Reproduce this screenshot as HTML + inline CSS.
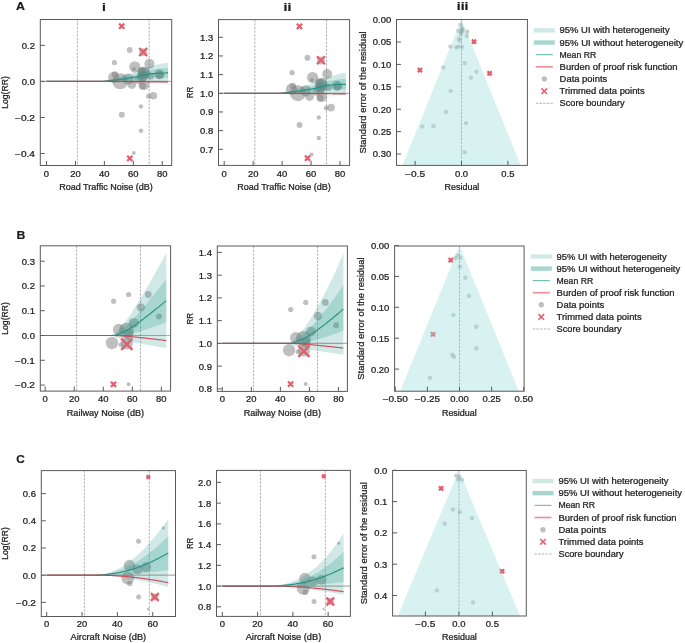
<!DOCTYPE html>
<html><head><meta charset="utf-8"><style>
html,body{margin:0;padding:0;background:#fff;}
svg{display:block;will-change:transform;}
text{font-family:"Liberation Sans", sans-serif;}
</style></head><body>
<svg width="685" height="643" viewBox="0 0 685 643">
<rect width="685" height="643" fill="#fff"/>
<g>
<clipPath id="cA0"><rect x="40.3" y="19.5" width="131.4" height="146"/></clipPath><g clip-path="url(#cA0)">
<line x1="77.3" y1="19.5" x2="77.3" y2="165.5" stroke="#a4a4a4" stroke-width="0.85" stroke-dasharray="2.4,1.25"/>
<line x1="149.2" y1="19.5" x2="149.2" y2="165.5" stroke="#a4a4a4" stroke-width="0.85" stroke-dasharray="2.4,1.25"/>
<circle cx="129.7" cy="50" r="2.9" fill="#808080" fill-opacity="0.5"/>
<circle cx="143.2" cy="52.3" r="4" fill="#808080" fill-opacity="0.5"/>
<circle cx="114.4" cy="62.5" r="2.6" fill="#808080" fill-opacity="0.5"/>
<circle cx="134.8" cy="66.8" r="5.6" fill="#808080" fill-opacity="0.5"/>
<circle cx="134" cy="69" r="2" fill="#808080" fill-opacity="0.5"/>
<circle cx="149.4" cy="63.7" r="5" fill="#808080" fill-opacity="0.5"/>
<circle cx="113.8" cy="77.5" r="5.7" fill="#808080" fill-opacity="0.5"/>
<circle cx="115" cy="74.5" r="3.2" fill="#808080" fill-opacity="0.5"/>
<circle cx="120.2" cy="81.3" r="8" fill="#808080" fill-opacity="0.5"/>
<circle cx="128" cy="79" r="5.6" fill="#808080" fill-opacity="0.5"/>
<circle cx="131.8" cy="84.5" r="4.4" fill="#808080" fill-opacity="0.5"/>
<circle cx="143.4" cy="73.7" r="6.2" fill="#808080" fill-opacity="0.5"/>
<circle cx="141.5" cy="71" r="4" fill="#808080" fill-opacity="0.5"/>
<circle cx="143.4" cy="76" r="5" fill="#808080" fill-opacity="0.5"/>
<circle cx="138.5" cy="80" r="4" fill="#808080" fill-opacity="0.5"/>
<circle cx="150.5" cy="76" r="3.5" fill="#808080" fill-opacity="0.5"/>
<circle cx="144" cy="72" r="5.5" fill="#808080" fill-opacity="0.5"/>
<circle cx="142" cy="77" r="5" fill="#808080" fill-opacity="0.5"/>
<circle cx="160" cy="75" r="4" fill="#808080" fill-opacity="0.5"/>
<circle cx="144.3" cy="84.9" r="5" fill="#808080" fill-opacity="0.5"/>
<circle cx="142.3" cy="86" r="3.7" fill="#808080" fill-opacity="0.5"/>
<circle cx="159.2" cy="74.3" r="5" fill="#808080" fill-opacity="0.5"/>
<circle cx="153.3" cy="95.8" r="3.8" fill="#808080" fill-opacity="0.5"/>
<circle cx="148.5" cy="96.2" r="2.5" fill="#808080" fill-opacity="0.5"/>
<circle cx="141" cy="106.4" r="2.2" fill="#808080" fill-opacity="0.5"/>
<circle cx="121.8" cy="114.8" r="3" fill="#808080" fill-opacity="0.5"/>
<circle cx="141" cy="130.8" r="2.2" fill="#808080" fill-opacity="0.5"/>
<circle cx="133.8" cy="153.1" r="2" fill="#808080" fill-opacity="0.5"/>
<path d="M46.5,81.4 L47.11,81.4 L47.72,81.4 L48.33,81.4 L48.94,81.4 L49.55,81.4 L50.16,81.4 L50.78,81.4 L51.39,81.4 L52,81.4 L52.61,81.4 L53.22,81.4 L53.83,81.4 L54.44,81.4 L55.05,81.4 L55.66,81.4 L56.27,81.4 L56.88,81.4 L57.49,81.4 L58.11,81.4 L58.72,81.4 L59.33,81.4 L59.94,81.4 L60.55,81.4 L61.16,81.4 L61.77,81.4 L62.38,81.4 L62.99,81.4 L63.6,81.4 L64.21,81.4 L64.82,81.4 L65.43,81.4 L66.05,81.4 L66.66,81.4 L67.27,81.4 L67.88,81.4 L68.49,81.4 L69.1,81.4 L69.71,81.4 L70.32,81.4 L70.93,81.4 L71.54,81.4 L72.15,81.4 L72.76,81.4 L73.37,81.4 L73.99,81.4 L74.6,81.4 L75.21,81.4 L75.82,81.4 L76.43,81.4 L77.04,81.4 L77.65,81.4 L78.26,81.4 L78.87,81.4 L79.48,81.4 L80.09,81.4 L80.7,81.4 L81.32,81.4 L81.93,81.4 L82.54,81.4 L83.15,81.4 L83.76,81.4 L84.37,81.4 L84.98,81.4 L85.59,81.4 L86.2,81.4 L86.81,81.4 L87.42,81.4 L88.03,81.4 L88.64,81.4 L89.26,81.4 L89.87,81.4 L90.48,81.4 L91.09,81.4 L91.7,81.4 L92.31,81.4 L92.92,81.4 L93.53,81.4 L94.14,81.4 L94.75,81.4 L95.36,81.4 L95.97,81.4 L96.59,81.4 L97.2,81.4 L97.81,81.4 L98.42,81.4 L99.03,81.4 L99.64,81.4 L100.25,81.4 L100.86,81.4 L101.47,81.4 L102.08,81.26 L102.69,81.11 L103.3,80.97 L103.91,80.82 L104.53,80.67 L105.14,80.52 L105.75,80.37 L106.36,80.22 L106.97,80.06 L107.58,79.91 L108.19,79.75 L108.8,79.59 L109.41,79.43 L110.02,79.28 L110.63,79.11 L111.24,78.95 L111.85,78.79 L112.47,78.63 L113.08,78.46 L113.69,78.3 L114.3,78.13 L114.91,77.97 L115.52,77.8 L116.13,77.63 L116.74,77.46 L117.35,77.29 L117.96,77.12 L118.57,76.95 L119.18,76.78 L119.8,76.6 L120.41,76.43 L121.02,76.25 L121.63,76.07 L122.24,75.9 L122.85,75.72 L123.46,75.53 L124.07,75.35 L124.68,75.17 L125.29,74.98 L125.9,74.79 L126.51,74.6 L127.12,74.41 L127.74,74.22 L128.35,74.03 L128.96,73.84 L129.57,73.64 L130.18,73.45 L130.79,73.25 L131.4,73.05 L132.01,72.85 L132.62,72.65 L133.23,72.45 L133.84,72.24 L134.45,72.04 L135.07,71.83 L135.68,71.63 L136.29,71.42 L136.9,71.2 L137.51,70.98 L138.12,70.74 L138.73,70.5 L139.34,70.25 L139.95,70 L140.56,69.74 L141.17,69.48 L141.78,69.22 L142.39,68.95 L143.01,68.69 L143.62,68.43 L144.23,68.18 L144.84,67.93 L145.45,67.69 L146.06,67.45 L146.67,67.23 L147.28,67.01 L147.89,66.81 L148.5,66.62 L149.11,66.44 L149.72,66.28 L150.33,66.13 L150.95,65.98 L151.56,65.84 L152.17,65.69 L152.78,65.55 L153.39,65.41 L154,65.27 L154.61,65.13 L155.22,64.99 L155.83,64.85 L156.44,64.71 L157.05,64.58 L157.66,64.45 L158.28,64.31 L158.89,64.18 L159.5,64.06 L160.11,63.93 L160.72,63.81 L161.33,63.68 L161.94,63.56 L162.55,63.44 L163.16,63.33 L163.77,63.21 L164.38,63.1 L164.99,62.99 L165.6,62.88 L166.22,62.78 L166.83,62.68 L167.44,62.58 L168.05,62.48 L168.05,83.38 L167.44,83.29 L166.83,83.2 L166.22,83.11 L165.6,83.02 L164.99,82.94 L164.38,82.85 L163.77,82.77 L163.16,82.7 L162.55,82.62 L161.94,82.55 L161.33,82.48 L160.72,82.41 L160.11,82.34 L159.5,82.27 L158.89,82.21 L158.28,82.15 L157.66,82.09 L157.05,82.03 L156.44,81.97 L155.83,81.92 L155.22,81.86 L154.61,81.81 L154,81.76 L153.39,81.71 L152.78,81.66 L152.17,81.61 L151.56,81.56 L150.95,81.52 L150.33,81.47 L149.72,81.43 L149.11,81.4 L148.5,81.38 L147.89,81.38 L147.28,81.39 L146.67,81.42 L146.06,81.45 L145.45,81.5 L144.84,81.55 L144.23,81.6 L143.62,81.67 L143.01,81.73 L142.39,81.8 L141.78,81.87 L141.17,81.94 L140.56,82.01 L139.95,82.07 L139.34,82.14 L138.73,82.19 L138.12,82.25 L137.51,82.29 L136.9,82.32 L136.29,82.35 L135.68,82.36 L135.07,82.38 L134.45,82.39 L133.84,82.4 L133.23,82.42 L132.62,82.43 L132.01,82.44 L131.4,82.44 L130.79,82.45 L130.18,82.46 L129.57,82.46 L128.96,82.46 L128.35,82.47 L127.74,82.47 L127.12,82.47 L126.51,82.46 L125.9,82.46 L125.29,82.46 L124.68,82.45 L124.07,82.44 L123.46,82.43 L122.85,82.42 L122.24,82.41 L121.63,82.4 L121.02,82.39 L120.41,82.37 L119.8,82.35 L119.18,82.34 L118.57,82.32 L117.96,82.29 L117.35,82.27 L116.74,82.25 L116.13,82.23 L115.52,82.21 L114.91,82.18 L114.3,82.16 L113.69,82.13 L113.08,82.1 L112.47,82.08 L111.85,82.05 L111.24,82.02 L110.63,81.99 L110.02,81.96 L109.41,81.92 L108.8,81.89 L108.19,81.86 L107.58,81.82 L106.97,81.78 L106.36,81.75 L105.75,81.71 L105.14,81.67 L104.53,81.62 L103.91,81.58 L103.3,81.54 L102.69,81.49 L102.08,81.45 L101.47,81.4 L100.86,81.4 L100.25,81.4 L99.64,81.4 L99.03,81.4 L98.42,81.4 L97.81,81.4 L97.2,81.4 L96.59,81.4 L95.97,81.4 L95.36,81.4 L94.75,81.4 L94.14,81.4 L93.53,81.4 L92.92,81.4 L92.31,81.4 L91.7,81.4 L91.09,81.4 L90.48,81.4 L89.87,81.4 L89.26,81.4 L88.64,81.4 L88.03,81.4 L87.42,81.4 L86.81,81.4 L86.2,81.4 L85.59,81.4 L84.98,81.4 L84.37,81.4 L83.76,81.4 L83.15,81.4 L82.54,81.4 L81.93,81.4 L81.32,81.4 L80.7,81.4 L80.09,81.4 L79.48,81.4 L78.87,81.4 L78.26,81.4 L77.65,81.4 L77.04,81.4 L76.43,81.4 L75.82,81.4 L75.21,81.4 L74.6,81.4 L73.99,81.4 L73.37,81.4 L72.76,81.4 L72.15,81.4 L71.54,81.4 L70.93,81.4 L70.32,81.4 L69.71,81.4 L69.1,81.4 L68.49,81.4 L67.88,81.4 L67.27,81.4 L66.66,81.4 L66.05,81.4 L65.43,81.4 L64.82,81.4 L64.21,81.4 L63.6,81.4 L62.99,81.4 L62.38,81.4 L61.77,81.4 L61.16,81.4 L60.55,81.4 L59.94,81.4 L59.33,81.4 L58.72,81.4 L58.11,81.4 L57.49,81.4 L56.88,81.4 L56.27,81.4 L55.66,81.4 L55.05,81.4 L54.44,81.4 L53.83,81.4 L53.22,81.4 L52.61,81.4 L52,81.4 L51.39,81.4 L50.78,81.4 L50.16,81.4 L49.55,81.4 L48.94,81.4 L48.33,81.4 L47.72,81.4 L47.11,81.4 L46.5,81.4 Z" fill="#2a9d8f" fill-opacity="0.22"/>
<path d="M46.5,81.4 L47.11,81.4 L47.72,81.4 L48.33,81.4 L48.94,81.4 L49.55,81.4 L50.16,81.4 L50.78,81.4 L51.39,81.4 L52,81.4 L52.61,81.4 L53.22,81.4 L53.83,81.4 L54.44,81.4 L55.05,81.4 L55.66,81.4 L56.27,81.4 L56.88,81.4 L57.49,81.4 L58.11,81.4 L58.72,81.4 L59.33,81.4 L59.94,81.4 L60.55,81.4 L61.16,81.4 L61.77,81.4 L62.38,81.4 L62.99,81.4 L63.6,81.4 L64.21,81.4 L64.82,81.4 L65.43,81.4 L66.05,81.4 L66.66,81.4 L67.27,81.4 L67.88,81.4 L68.49,81.4 L69.1,81.4 L69.71,81.4 L70.32,81.4 L70.93,81.4 L71.54,81.4 L72.15,81.4 L72.76,81.4 L73.37,81.4 L73.99,81.4 L74.6,81.4 L75.21,81.4 L75.82,81.4 L76.43,81.4 L77.04,81.4 L77.65,81.4 L78.26,81.4 L78.87,81.4 L79.48,81.4 L80.09,81.4 L80.7,81.4 L81.32,81.4 L81.93,81.4 L82.54,81.4 L83.15,81.4 L83.76,81.4 L84.37,81.4 L84.98,81.4 L85.59,81.4 L86.2,81.4 L86.81,81.4 L87.42,81.4 L88.03,81.4 L88.64,81.4 L89.26,81.4 L89.87,81.4 L90.48,81.4 L91.09,81.4 L91.7,81.4 L92.31,81.4 L92.92,81.4 L93.53,81.4 L94.14,81.4 L94.75,81.4 L95.36,81.4 L95.97,81.4 L96.59,81.4 L97.2,81.4 L97.81,81.4 L98.42,81.4 L99.03,81.4 L99.64,81.4 L100.25,81.4 L100.86,81.4 L101.47,81.4 L102.08,81.31 L102.69,81.21 L103.3,81.11 L103.91,81.02 L104.53,80.92 L105.14,80.82 L105.75,80.71 L106.36,80.61 L106.97,80.51 L107.58,80.4 L108.19,80.29 L108.8,80.19 L109.41,80.08 L110.02,79.97 L110.63,79.86 L111.24,79.75 L111.85,79.63 L112.47,79.52 L113.08,79.41 L113.69,79.29 L114.3,79.17 L114.91,79.06 L115.52,78.94 L116.13,78.82 L116.74,78.7 L117.35,78.58 L117.96,78.46 L118.57,78.34 L119.18,78.21 L119.8,78.09 L120.41,77.97 L121.02,77.84 L121.63,77.71 L122.24,77.58 L122.85,77.45 L123.46,77.32 L124.07,77.18 L124.68,77.05 L125.29,76.91 L125.9,76.78 L126.51,76.64 L127.12,76.5 L127.74,76.36 L128.35,76.21 L128.96,76.07 L129.57,75.92 L130.18,75.78 L130.79,75.63 L131.4,75.48 L132.01,75.33 L132.62,75.18 L133.23,75.02 L133.84,74.87 L134.45,74.72 L135.07,74.56 L135.68,74.4 L136.29,74.24 L136.9,74.08 L137.51,73.9 L138.12,73.72 L138.73,73.52 L139.34,73.32 L139.95,73.12 L140.56,72.91 L141.17,72.7 L141.78,72.49 L142.39,72.28 L143.01,72.06 L143.62,71.86 L144.23,71.65 L144.84,71.45 L145.45,71.26 L146.06,71.07 L146.67,70.9 L147.28,70.73 L147.89,70.58 L148.5,70.44 L149.11,70.31 L149.72,70.2 L150.33,70.1 L150.95,70 L151.56,69.91 L152.17,69.81 L152.78,69.72 L153.39,69.62 L154,69.53 L154.61,69.44 L155.22,69.35 L155.83,69.26 L156.44,69.18 L157.05,69.09 L157.66,69.01 L158.28,68.93 L158.89,68.85 L159.5,68.77 L160.11,68.69 L160.72,68.62 L161.33,68.54 L161.94,68.47 L162.55,68.4 L163.16,68.34 L163.77,68.27 L164.38,68.21 L164.99,68.15 L165.6,68.09 L166.22,68.04 L166.83,67.98 L167.44,67.93 L168.05,67.89 L168.05,77.98 L167.44,77.93 L166.83,77.89 L166.22,77.85 L165.6,77.81 L164.99,77.78 L164.38,77.74 L163.77,77.71 L163.16,77.69 L162.55,77.66 L161.94,77.64 L161.33,77.62 L160.72,77.6 L160.11,77.58 L159.5,77.56 L158.89,77.55 L158.28,77.54 L157.66,77.53 L157.05,77.52 L156.44,77.51 L155.83,77.5 L155.22,77.5 L154.61,77.5 L154,77.49 L153.39,77.49 L152.78,77.49 L152.17,77.49 L151.56,77.5 L150.95,77.5 L150.33,77.5 L149.72,77.51 L149.11,77.53 L148.5,77.56 L147.89,77.61 L147.28,77.67 L146.67,77.75 L146.06,77.83 L145.45,77.92 L144.84,78.02 L144.23,78.13 L143.62,78.24 L143.01,78.36 L142.39,78.48 L141.78,78.6 L141.17,78.72 L140.56,78.84 L139.95,78.95 L139.34,79.06 L138.73,79.17 L138.12,79.27 L137.51,79.36 L136.9,79.45 L136.29,79.52 L135.68,79.59 L135.07,79.65 L134.45,79.71 L133.84,79.78 L133.23,79.84 L132.62,79.9 L132.01,79.96 L131.4,80.01 L130.79,80.07 L130.18,80.13 L129.57,80.18 L128.96,80.23 L128.35,80.28 L127.74,80.33 L127.12,80.38 L126.51,80.43 L125.9,80.48 L125.29,80.52 L124.68,80.57 L124.07,80.61 L123.46,80.65 L122.85,80.69 L122.24,80.73 L121.63,80.76 L121.02,80.8 L120.41,80.83 L119.8,80.87 L119.18,80.9 L118.57,80.93 L117.96,80.96 L117.35,80.99 L116.74,81.01 L116.13,81.04 L115.52,81.07 L114.91,81.09 L114.3,81.12 L113.69,81.14 L113.08,81.16 L112.47,81.18 L111.85,81.21 L111.24,81.23 L110.63,81.24 L110.02,81.26 L109.41,81.28 L108.8,81.3 L108.19,81.31 L107.58,81.32 L106.97,81.34 L106.36,81.35 L105.75,81.36 L105.14,81.37 L104.53,81.38 L103.91,81.38 L103.3,81.39 L102.69,81.39 L102.08,81.4 L101.47,81.4 L100.86,81.4 L100.25,81.4 L99.64,81.4 L99.03,81.4 L98.42,81.4 L97.81,81.4 L97.2,81.4 L96.59,81.4 L95.97,81.4 L95.36,81.4 L94.75,81.4 L94.14,81.4 L93.53,81.4 L92.92,81.4 L92.31,81.4 L91.7,81.4 L91.09,81.4 L90.48,81.4 L89.87,81.4 L89.26,81.4 L88.64,81.4 L88.03,81.4 L87.42,81.4 L86.81,81.4 L86.2,81.4 L85.59,81.4 L84.98,81.4 L84.37,81.4 L83.76,81.4 L83.15,81.4 L82.54,81.4 L81.93,81.4 L81.32,81.4 L80.7,81.4 L80.09,81.4 L79.48,81.4 L78.87,81.4 L78.26,81.4 L77.65,81.4 L77.04,81.4 L76.43,81.4 L75.82,81.4 L75.21,81.4 L74.6,81.4 L73.99,81.4 L73.37,81.4 L72.76,81.4 L72.15,81.4 L71.54,81.4 L70.93,81.4 L70.32,81.4 L69.71,81.4 L69.1,81.4 L68.49,81.4 L67.88,81.4 L67.27,81.4 L66.66,81.4 L66.05,81.4 L65.43,81.4 L64.82,81.4 L64.21,81.4 L63.6,81.4 L62.99,81.4 L62.38,81.4 L61.77,81.4 L61.16,81.4 L60.55,81.4 L59.94,81.4 L59.33,81.4 L58.72,81.4 L58.11,81.4 L57.49,81.4 L56.88,81.4 L56.27,81.4 L55.66,81.4 L55.05,81.4 L54.44,81.4 L53.83,81.4 L53.22,81.4 L52.61,81.4 L52,81.4 L51.39,81.4 L50.78,81.4 L50.16,81.4 L49.55,81.4 L48.94,81.4 L48.33,81.4 L47.72,81.4 L47.11,81.4 L46.5,81.4 Z" fill="#2a9d8f" fill-opacity="0.25"/>
<path d="M46.5,81.4 L47.11,81.4 L47.72,81.4 L48.33,81.4 L48.94,81.4 L49.55,81.4 L50.16,81.4 L50.78,81.4 L51.39,81.4 L52,81.4 L52.61,81.4 L53.22,81.4 L53.83,81.4 L54.44,81.4 L55.05,81.4 L55.66,81.4 L56.27,81.4 L56.88,81.4 L57.49,81.4 L58.11,81.4 L58.72,81.4 L59.33,81.4 L59.94,81.4 L60.55,81.4 L61.16,81.4 L61.77,81.4 L62.38,81.4 L62.99,81.4 L63.6,81.4 L64.21,81.4 L64.82,81.4 L65.43,81.4 L66.05,81.4 L66.66,81.4 L67.27,81.4 L67.88,81.4 L68.49,81.4 L69.1,81.4 L69.71,81.4 L70.32,81.4 L70.93,81.4 L71.54,81.4 L72.15,81.4 L72.76,81.4 L73.37,81.4 L73.99,81.4 L74.6,81.4 L75.21,81.4 L75.82,81.4 L76.43,81.4 L77.04,81.4 L77.65,81.4 L78.26,81.4 L78.87,81.4 L79.48,81.4 L80.09,81.4 L80.7,81.4 L81.32,81.4 L81.93,81.4 L82.54,81.4 L83.15,81.4 L83.76,81.4 L84.37,81.4 L84.98,81.4 L85.59,81.4 L86.2,81.4 L86.81,81.4 L87.42,81.4 L88.03,81.4 L88.64,81.4 L89.26,81.4 L89.87,81.4 L90.48,81.4 L91.09,81.4 L91.7,81.4 L92.31,81.4 L92.92,81.4 L93.53,81.4 L94.14,81.4 L94.75,81.4 L95.36,81.4 L95.97,81.4 L96.59,81.4 L97.2,81.4 L97.81,81.4 L98.42,81.4 L99.03,81.4 L99.64,81.4 L100.25,81.4 L100.86,81.4 L101.47,81.4 L102.08,81.35 L102.69,81.3 L103.3,81.25 L103.91,81.2 L104.53,81.15 L105.14,81.09 L105.75,81.04 L106.36,80.98 L106.97,80.92 L107.58,80.86 L108.19,80.8 L108.8,80.74 L109.41,80.68 L110.02,80.62 L110.63,80.55 L111.24,80.49 L111.85,80.42 L112.47,80.35 L113.08,80.28 L113.69,80.21 L114.3,80.14 L114.91,80.07 L115.52,80 L116.13,79.93 L116.74,79.86 L117.35,79.78 L117.96,79.71 L118.57,79.63 L119.18,79.56 L119.8,79.48 L120.41,79.4 L121.02,79.32 L121.63,79.24 L122.24,79.15 L122.85,79.07 L123.46,78.98 L124.07,78.9 L124.68,78.81 L125.29,78.72 L125.9,78.63 L126.51,78.53 L127.12,78.44 L127.74,78.34 L128.35,78.25 L128.96,78.15 L129.57,78.05 L130.18,77.95 L130.79,77.85 L131.4,77.75 L132.01,77.64 L132.62,77.54 L133.23,77.43 L133.84,77.32 L134.45,77.21 L135.07,77.11 L135.68,76.99 L136.29,76.88 L136.9,76.76 L137.51,76.63 L138.12,76.49 L138.73,76.35 L139.34,76.19 L139.95,76.04 L140.56,75.87 L141.17,75.71 L141.78,75.54 L142.39,75.38 L143.01,75.21 L143.62,75.05 L144.23,74.89 L144.84,74.74 L145.45,74.59 L146.06,74.45 L146.67,74.32 L147.28,74.2 L147.89,74.1 L148.5,74 L149.11,73.92 L149.72,73.85 L150.33,73.8 L150.95,73.75 L151.56,73.7 L152.17,73.65 L152.78,73.6 L153.39,73.56 L154,73.51 L154.61,73.47 L155.22,73.43 L155.83,73.38 L156.44,73.34 L157.05,73.3 L157.66,73.27 L158.28,73.23 L158.89,73.2 L159.5,73.17 L160.11,73.14 L160.72,73.11 L161.33,73.08 L161.94,73.05 L162.55,73.03 L163.16,73.01 L163.77,72.99 L164.38,72.98 L164.99,72.96 L165.6,72.95 L166.22,72.94 L166.83,72.94 L167.44,72.93 L168.05,72.93" fill="none" stroke="#2b9183" stroke-width="1.15" stroke-opacity="1.0" stroke-linejoin="round"/>
<path d="M46.5,81.4 L47.11,81.4 L47.72,81.4 L48.33,81.4 L48.94,81.4 L49.55,81.4 L50.16,81.4 L50.78,81.4 L51.39,81.4 L52,81.4 L52.61,81.4 L53.22,81.4 L53.83,81.4 L54.44,81.4 L55.05,81.4 L55.66,81.4 L56.27,81.4 L56.88,81.4 L57.49,81.4 L58.11,81.4 L58.72,81.4 L59.33,81.4 L59.94,81.4 L60.55,81.4 L61.16,81.4 L61.77,81.4 L62.38,81.4 L62.99,81.4 L63.6,81.4 L64.21,81.4 L64.82,81.4 L65.43,81.4 L66.05,81.4 L66.66,81.4 L67.27,81.4 L67.88,81.4 L68.49,81.4 L69.1,81.4 L69.71,81.4 L70.32,81.4 L70.93,81.4 L71.54,81.4 L72.15,81.4 L72.76,81.4 L73.37,81.4 L73.99,81.4 L74.6,81.4 L75.21,81.4 L75.82,81.4 L76.43,81.4 L77.04,81.4 L77.65,81.4 L78.26,81.4 L78.87,81.4 L79.48,81.4 L80.09,81.4 L80.7,81.4 L81.32,81.4 L81.93,81.4 L82.54,81.4 L83.15,81.4 L83.76,81.4 L84.37,81.4 L84.98,81.4 L85.59,81.4 L86.2,81.4 L86.81,81.4 L87.42,81.4 L88.03,81.4 L88.64,81.4 L89.26,81.4 L89.87,81.4 L90.48,81.4 L91.09,81.4 L91.7,81.4 L92.31,81.4 L92.92,81.4 L93.53,81.4 L94.14,81.4 L94.75,81.4 L95.36,81.4 L95.97,81.4 L96.59,81.4 L97.2,81.4 L97.81,81.4 L98.42,81.4 L99.03,81.4 L99.64,81.4 L100.25,81.4 L100.86,81.4 L101.47,81.4 L102.08,81.4 L102.69,81.4 L103.3,81.4 L103.91,81.4 L104.53,81.4 L105.14,81.4 L105.75,81.4 L106.36,81.4 L106.97,81.4 L107.58,81.4 L108.19,81.4 L108.8,81.4 L109.41,81.4 L110.02,81.4 L110.63,81.4 L111.24,81.4 L111.85,81.4 L112.47,81.4 L113.08,81.4 L113.69,81.4 L114.3,81.4 L114.91,81.4 L115.52,81.4 L116.13,81.4 L116.74,81.4 L117.35,81.4 L117.96,81.4 L118.57,81.4 L119.18,81.4 L119.8,81.41 L120.41,81.42 L121.02,81.43 L121.63,81.44 L122.24,81.44 L122.85,81.45 L123.46,81.46 L124.07,81.47 L124.68,81.47 L125.29,81.48 L125.9,81.49 L126.51,81.5 L127.12,81.51 L127.74,81.51 L128.35,81.52 L128.96,81.53 L129.57,81.54 L130.18,81.55 L130.79,81.55 L131.4,81.56 L132.01,81.57 L132.62,81.58 L133.23,81.58 L133.84,81.59 L134.45,81.6 L135.07,81.61 L135.68,81.62 L136.29,81.62 L136.9,81.63 L137.51,81.64 L138.12,81.65 L138.73,81.65 L139.34,81.66 L139.95,81.67 L140.56,81.68 L141.17,81.69 L141.78,81.69 L142.39,81.7 L143.01,81.71 L143.62,81.72 L144.23,81.73 L144.84,81.73 L145.45,81.74 L146.06,81.75 L146.67,81.76 L147.28,81.76 L147.89,81.77 L148.5,81.78 L149.11,81.79 L149.72,81.8 L150.33,81.8 L150.95,81.81 L151.56,81.82 L152.17,81.83 L152.78,81.83 L153.39,81.84 L154,81.85 L154.61,81.86 L155.22,81.87 L155.83,81.87 L156.44,81.88 L157.05,81.89 L157.66,81.9 L158.28,81.91 L158.89,81.91 L159.5,81.92 L160.11,81.93 L160.72,81.94 L161.33,81.94 L161.94,81.95 L162.55,81.96 L163.16,81.97 L163.77,81.98 L164.38,81.98 L164.99,81.99 L165.6,82 L166.22,82.01 L166.83,82.02 L167.44,82.02 L168.05,82.03" fill="none" stroke="#d2505e" stroke-width="1.2" stroke-opacity="1.0" stroke-linejoin="round"/>
<line x1="40.3" y1="81.4" x2="171.7" y2="81.4" stroke="#606060" stroke-width="1.2" stroke-opacity="0.5"/>
<path d="M119.1,23.6 L124.3,28.8 M119.1,28.8 L124.3,23.6" stroke="#e35d6a" stroke-width="2.2" fill="none"/>
<path d="M139.2,48 L147.2,56 M139.2,56 L147.2,48" stroke="#e35d6a" stroke-width="2.2" fill="none"/>
<path d="M127.2,155.8 L132.4,161 M127.2,161 L132.4,155.8" stroke="#e35d6a" stroke-width="2.2" fill="none"/>
</g></g>
<rect x="40.3" y="19.5" width="131.4" height="146" fill="none" stroke="#5a5a5a" stroke-width="1"/>
<g>
<clipPath id="cA1"><rect x="218.5" y="19.6" width="131.1" height="145.8"/></clipPath><g clip-path="url(#cA1)">
<line x1="254.9" y1="19.6" x2="254.9" y2="165.4" stroke="#a4a4a4" stroke-width="0.85" stroke-dasharray="2.4,1.25"/>
<line x1="326.5" y1="19.6" x2="326.5" y2="165.4" stroke="#a4a4a4" stroke-width="0.85" stroke-dasharray="2.4,1.25"/>
<circle cx="307.46" cy="57.76" r="2.9" fill="#808080" fill-opacity="0.5"/>
<circle cx="320.97" cy="60.58" r="4" fill="#808080" fill-opacity="0.5"/>
<circle cx="292.15" cy="72.65" r="2.6" fill="#808080" fill-opacity="0.5"/>
<circle cx="312.56" cy="77.54" r="5.6" fill="#808080" fill-opacity="0.5"/>
<circle cx="311.76" cy="80" r="2" fill="#808080" fill-opacity="0.5"/>
<circle cx="327.17" cy="74.03" r="5" fill="#808080" fill-opacity="0.5"/>
<circle cx="291.55" cy="89.22" r="5.7" fill="#808080" fill-opacity="0.5"/>
<circle cx="292.75" cy="86.01" r="3.2" fill="#808080" fill-opacity="0.5"/>
<circle cx="297.95" cy="93.2" r="8" fill="#808080" fill-opacity="0.5"/>
<circle cx="305.76" cy="90.8" r="5.6" fill="#808080" fill-opacity="0.5"/>
<circle cx="309.56" cy="96.48" r="4.4" fill="#808080" fill-opacity="0.5"/>
<circle cx="321.17" cy="85.15" r="6.2" fill="#808080" fill-opacity="0.5"/>
<circle cx="319.27" cy="82.21" r="4" fill="#808080" fill-opacity="0.5"/>
<circle cx="321.17" cy="87.62" r="5" fill="#808080" fill-opacity="0.5"/>
<circle cx="316.26" cy="91.84" r="4" fill="#808080" fill-opacity="0.5"/>
<circle cx="328.27" cy="87.62" r="3.5" fill="#808080" fill-opacity="0.5"/>
<circle cx="321.77" cy="83.3" r="5.5" fill="#808080" fill-opacity="0.5"/>
<circle cx="319.77" cy="88.69" r="5" fill="#808080" fill-opacity="0.5"/>
<circle cx="337.78" cy="86.55" r="4" fill="#808080" fill-opacity="0.5"/>
<circle cx="322.07" cy="96.89" r="5" fill="#808080" fill-opacity="0.5"/>
<circle cx="320.07" cy="98.01" r="3.7" fill="#808080" fill-opacity="0.5"/>
<circle cx="336.98" cy="85.8" r="5" fill="#808080" fill-opacity="0.5"/>
<circle cx="331.07" cy="107.64" r="3.8" fill="#808080" fill-opacity="0.5"/>
<circle cx="326.27" cy="108.02" r="2.5" fill="#808080" fill-opacity="0.5"/>
<circle cx="318.77" cy="117.49" r="2.2" fill="#808080" fill-opacity="0.5"/>
<circle cx="299.55" cy="124.89" r="3" fill="#808080" fill-opacity="0.5"/>
<circle cx="318.77" cy="138.07" r="2.2" fill="#808080" fill-opacity="0.5"/>
<circle cx="311.56" cy="154.59" r="2" fill="#808080" fill-opacity="0.5"/>
<path d="M224.2,93.3 L224.81,93.3 L225.42,93.3 L226.03,93.3 L226.64,93.3 L227.26,93.3 L227.87,93.3 L228.48,93.3 L229.09,93.3 L229.7,93.3 L230.31,93.3 L230.92,93.3 L231.53,93.3 L232.15,93.3 L232.76,93.3 L233.37,93.3 L233.98,93.3 L234.59,93.3 L235.2,93.3 L235.81,93.3 L236.42,93.3 L237.04,93.3 L237.65,93.3 L238.26,93.3 L238.87,93.3 L239.48,93.3 L240.09,93.3 L240.7,93.3 L241.31,93.3 L241.93,93.3 L242.54,93.3 L243.15,93.3 L243.76,93.3 L244.37,93.3 L244.98,93.3 L245.59,93.3 L246.2,93.3 L246.81,93.3 L247.43,93.3 L248.04,93.3 L248.65,93.3 L249.26,93.3 L249.87,93.3 L250.48,93.3 L251.09,93.3 L251.7,93.3 L252.32,93.3 L252.93,93.3 L253.54,93.3 L254.15,93.3 L254.76,93.3 L255.37,93.3 L255.98,93.3 L256.59,93.3 L257.21,93.3 L257.82,93.3 L258.43,93.3 L259.04,93.3 L259.65,93.3 L260.26,93.3 L260.87,93.3 L261.48,93.3 L262.1,93.3 L262.71,93.3 L263.32,93.3 L263.93,93.3 L264.54,93.3 L265.15,93.3 L265.76,93.3 L266.37,93.3 L266.99,93.3 L267.6,93.3 L268.21,93.3 L268.82,93.3 L269.43,93.3 L270.04,93.3 L270.65,93.3 L271.26,93.3 L271.87,93.3 L272.49,93.3 L273.1,93.3 L273.71,93.3 L274.32,93.3 L274.93,93.3 L275.54,93.3 L276.15,93.3 L276.76,93.3 L277.38,93.3 L277.99,93.3 L278.6,93.3 L279.21,93.3 L279.82,93.15 L280.43,93 L281.04,92.85 L281.65,92.7 L282.27,92.54 L282.88,92.39 L283.49,92.23 L284.1,92.07 L284.71,91.91 L285.32,91.75 L285.93,91.58 L286.54,91.42 L287.16,91.25 L287.77,91.09 L288.38,90.92 L288.99,90.75 L289.6,90.58 L290.21,90.41 L290.82,90.23 L291.43,90.06 L292.04,89.88 L292.66,89.71 L293.27,89.53 L293.88,89.35 L294.49,89.17 L295.1,88.99 L295.71,88.81 L296.32,88.63 L296.93,88.45 L297.55,88.26 L298.16,88.08 L298.77,87.89 L299.38,87.7 L299.99,87.51 L300.6,87.32 L301.21,87.12 L301.82,86.93 L302.44,86.73 L303.05,86.53 L303.66,86.33 L304.27,86.12 L304.88,85.92 L305.49,85.71 L306.1,85.51 L306.71,85.3 L307.33,85.09 L307.94,84.87 L308.55,84.66 L309.16,84.45 L309.77,84.23 L310.38,84.01 L310.99,83.79 L311.6,83.57 L312.22,83.34 L312.83,83.12 L313.44,82.89 L314.05,82.67 L314.66,82.43 L315.27,82.18 L315.88,81.92 L316.49,81.66 L317.1,81.38 L317.72,81.1 L318.33,80.82 L318.94,80.53 L319.55,80.24 L320.16,79.95 L320.77,79.66 L321.38,79.37 L321.99,79.09 L322.61,78.81 L323.22,78.54 L323.83,78.28 L324.44,78.02 L325.05,77.78 L325.66,77.55 L326.27,77.34 L326.88,77.14 L327.5,76.96 L328.11,76.79 L328.72,76.62 L329.33,76.46 L329.94,76.3 L330.55,76.14 L331.16,75.97 L331.77,75.81 L332.39,75.66 L333,75.5 L333.61,75.34 L334.22,75.19 L334.83,75.03 L335.44,74.88 L336.05,74.73 L336.66,74.58 L337.27,74.44 L337.89,74.29 L338.5,74.15 L339.11,74.01 L339.72,73.87 L340.33,73.74 L340.94,73.6 L341.55,73.47 L342.16,73.34 L342.78,73.22 L343.39,73.1 L344,72.97 L344.61,72.86 L345.22,72.74 L345.83,72.63 L345.83,95.34 L345.22,95.25 L344.61,95.15 L344,95.06 L343.39,94.97 L342.78,94.88 L342.16,94.8 L341.55,94.72 L340.94,94.64 L340.33,94.56 L339.72,94.49 L339.11,94.41 L338.5,94.34 L337.89,94.27 L337.27,94.2 L336.66,94.14 L336.05,94.07 L335.44,94.01 L334.83,93.95 L334.22,93.89 L333.61,93.84 L333,93.78 L332.39,93.72 L331.77,93.67 L331.16,93.62 L330.55,93.57 L329.94,93.52 L329.33,93.47 L328.72,93.42 L328.11,93.37 L327.5,93.33 L326.88,93.3 L326.27,93.28 L325.66,93.28 L325.05,93.29 L324.44,93.32 L323.83,93.35 L323.22,93.4 L322.61,93.45 L321.99,93.51 L321.38,93.57 L320.77,93.64 L320.16,93.71 L319.55,93.79 L318.94,93.86 L318.33,93.93 L317.72,94 L317.1,94.06 L316.49,94.12 L315.88,94.17 L315.27,94.22 L314.66,94.25 L314.05,94.28 L313.44,94.29 L312.83,94.31 L312.22,94.32 L311.6,94.34 L310.99,94.35 L310.38,94.36 L309.77,94.37 L309.16,94.38 L308.55,94.39 L307.94,94.39 L307.33,94.4 L306.71,94.4 L306.1,94.4 L305.49,94.4 L304.88,94.4 L304.27,94.4 L303.66,94.4 L303.05,94.39 L302.44,94.38 L301.82,94.38 L301.21,94.37 L300.6,94.36 L299.99,94.35 L299.38,94.33 L298.77,94.32 L298.16,94.3 L297.55,94.29 L296.93,94.27 L296.32,94.25 L295.71,94.22 L295.1,94.2 L294.49,94.18 L293.88,94.16 L293.27,94.13 L292.66,94.11 L292.04,94.08 L291.43,94.06 L290.82,94.03 L290.21,94 L289.6,93.97 L288.99,93.94 L288.38,93.91 L287.77,93.88 L287.16,93.84 L286.54,93.81 L285.93,93.77 L285.32,93.73 L284.71,93.7 L284.1,93.66 L283.49,93.62 L282.88,93.58 L282.27,93.53 L281.65,93.49 L281.04,93.44 L280.43,93.4 L279.82,93.35 L279.21,93.3 L278.6,93.3 L277.99,93.3 L277.38,93.3 L276.76,93.3 L276.15,93.3 L275.54,93.3 L274.93,93.3 L274.32,93.3 L273.71,93.3 L273.1,93.3 L272.49,93.3 L271.87,93.3 L271.26,93.3 L270.65,93.3 L270.04,93.3 L269.43,93.3 L268.82,93.3 L268.21,93.3 L267.6,93.3 L266.99,93.3 L266.37,93.3 L265.76,93.3 L265.15,93.3 L264.54,93.3 L263.93,93.3 L263.32,93.3 L262.71,93.3 L262.1,93.3 L261.48,93.3 L260.87,93.3 L260.26,93.3 L259.65,93.3 L259.04,93.3 L258.43,93.3 L257.82,93.3 L257.21,93.3 L256.59,93.3 L255.98,93.3 L255.37,93.3 L254.76,93.3 L254.15,93.3 L253.54,93.3 L252.93,93.3 L252.32,93.3 L251.7,93.3 L251.09,93.3 L250.48,93.3 L249.87,93.3 L249.26,93.3 L248.65,93.3 L248.04,93.3 L247.43,93.3 L246.81,93.3 L246.2,93.3 L245.59,93.3 L244.98,93.3 L244.37,93.3 L243.76,93.3 L243.15,93.3 L242.54,93.3 L241.93,93.3 L241.31,93.3 L240.7,93.3 L240.09,93.3 L239.48,93.3 L238.87,93.3 L238.26,93.3 L237.65,93.3 L237.04,93.3 L236.42,93.3 L235.81,93.3 L235.2,93.3 L234.59,93.3 L233.98,93.3 L233.37,93.3 L232.76,93.3 L232.15,93.3 L231.53,93.3 L230.92,93.3 L230.31,93.3 L229.7,93.3 L229.09,93.3 L228.48,93.3 L227.87,93.3 L227.26,93.3 L226.64,93.3 L226.03,93.3 L225.42,93.3 L224.81,93.3 L224.2,93.3 Z" fill="#2a9d8f" fill-opacity="0.22"/>
<path d="M224.2,93.3 L224.81,93.3 L225.42,93.3 L226.03,93.3 L226.64,93.3 L227.26,93.3 L227.87,93.3 L228.48,93.3 L229.09,93.3 L229.7,93.3 L230.31,93.3 L230.92,93.3 L231.53,93.3 L232.15,93.3 L232.76,93.3 L233.37,93.3 L233.98,93.3 L234.59,93.3 L235.2,93.3 L235.81,93.3 L236.42,93.3 L237.04,93.3 L237.65,93.3 L238.26,93.3 L238.87,93.3 L239.48,93.3 L240.09,93.3 L240.7,93.3 L241.31,93.3 L241.93,93.3 L242.54,93.3 L243.15,93.3 L243.76,93.3 L244.37,93.3 L244.98,93.3 L245.59,93.3 L246.2,93.3 L246.81,93.3 L247.43,93.3 L248.04,93.3 L248.65,93.3 L249.26,93.3 L249.87,93.3 L250.48,93.3 L251.09,93.3 L251.7,93.3 L252.32,93.3 L252.93,93.3 L253.54,93.3 L254.15,93.3 L254.76,93.3 L255.37,93.3 L255.98,93.3 L256.59,93.3 L257.21,93.3 L257.82,93.3 L258.43,93.3 L259.04,93.3 L259.65,93.3 L260.26,93.3 L260.87,93.3 L261.48,93.3 L262.1,93.3 L262.71,93.3 L263.32,93.3 L263.93,93.3 L264.54,93.3 L265.15,93.3 L265.76,93.3 L266.37,93.3 L266.99,93.3 L267.6,93.3 L268.21,93.3 L268.82,93.3 L269.43,93.3 L270.04,93.3 L270.65,93.3 L271.26,93.3 L271.87,93.3 L272.49,93.3 L273.1,93.3 L273.71,93.3 L274.32,93.3 L274.93,93.3 L275.54,93.3 L276.15,93.3 L276.76,93.3 L277.38,93.3 L277.99,93.3 L278.6,93.3 L279.21,93.3 L279.82,93.2 L280.43,93.11 L281.04,93 L281.65,92.9 L282.27,92.8 L282.88,92.69 L283.49,92.59 L284.1,92.48 L284.71,92.37 L285.32,92.26 L285.93,92.15 L286.54,92.04 L287.16,91.93 L287.77,91.81 L288.38,91.7 L288.99,91.58 L289.6,91.46 L290.21,91.34 L290.82,91.22 L291.43,91.1 L292.04,90.98 L292.66,90.86 L293.27,90.73 L293.88,90.61 L294.49,90.48 L295.1,90.36 L295.71,90.23 L296.32,90.1 L296.93,89.97 L297.55,89.84 L298.16,89.71 L298.77,89.57 L299.38,89.44 L299.99,89.3 L300.6,89.16 L301.21,89.02 L301.82,88.88 L302.44,88.74 L303.05,88.59 L303.66,88.45 L304.27,88.3 L304.88,88.15 L305.49,88 L306.1,87.85 L306.71,87.69 L307.33,87.54 L307.94,87.38 L308.55,87.22 L309.16,87.06 L309.77,86.9 L310.38,86.74 L310.99,86.58 L311.6,86.41 L312.22,86.24 L312.83,86.08 L313.44,85.91 L314.05,85.74 L314.66,85.56 L315.27,85.37 L315.88,85.17 L316.49,84.96 L317.1,84.74 L317.72,84.52 L318.33,84.29 L318.94,84.07 L319.55,83.83 L320.16,83.6 L320.77,83.37 L321.38,83.15 L321.99,82.92 L322.61,82.7 L323.22,82.49 L323.83,82.29 L324.44,82.1 L325.05,81.91 L325.66,81.74 L326.27,81.59 L326.88,81.45 L327.5,81.32 L328.11,81.21 L328.72,81.11 L329.33,81 L329.94,80.9 L330.55,80.79 L331.16,80.69 L331.77,80.59 L332.39,80.49 L333,80.39 L333.61,80.29 L334.22,80.2 L334.83,80.1 L335.44,80.01 L336.05,79.92 L336.66,79.83 L337.27,79.74 L337.89,79.66 L338.5,79.57 L339.11,79.49 L339.72,79.41 L340.33,79.34 L340.94,79.26 L341.55,79.19 L342.16,79.12 L342.78,79.05 L343.39,78.99 L344,78.93 L344.61,78.87 L345.22,78.81 L345.83,78.76 L345.83,89.72 L345.22,89.67 L344.61,89.63 L344,89.58 L343.39,89.55 L342.78,89.51 L342.16,89.47 L341.55,89.44 L340.94,89.41 L340.33,89.39 L339.72,89.36 L339.11,89.34 L338.5,89.32 L337.89,89.3 L337.27,89.28 L336.66,89.27 L336.05,89.25 L335.44,89.24 L334.83,89.23 L334.22,89.23 L333.61,89.22 L333,89.21 L332.39,89.21 L331.77,89.21 L331.16,89.21 L330.55,89.21 L329.94,89.21 L329.33,89.21 L328.72,89.21 L328.11,89.22 L327.5,89.23 L326.88,89.25 L326.27,89.28 L325.66,89.33 L325.05,89.4 L324.44,89.48 L323.83,89.57 L323.22,89.66 L322.61,89.77 L321.99,89.88 L321.38,90 L320.77,90.12 L320.16,90.25 L319.55,90.37 L318.94,90.5 L318.33,90.62 L317.72,90.75 L317.1,90.86 L316.49,90.97 L315.88,91.08 L315.27,91.18 L314.66,91.26 L314.05,91.34 L313.44,91.41 L312.83,91.48 L312.22,91.55 L311.6,91.61 L310.99,91.67 L310.38,91.74 L309.77,91.8 L309.16,91.86 L308.55,91.92 L307.94,91.98 L307.33,92.03 L306.71,92.09 L306.1,92.14 L305.49,92.19 L304.88,92.24 L304.27,92.29 L303.66,92.34 L303.05,92.39 L302.44,92.43 L301.82,92.48 L301.21,92.52 L300.6,92.56 L299.99,92.6 L299.38,92.64 L298.77,92.68 L298.16,92.71 L297.55,92.75 L296.93,92.78 L296.32,92.81 L295.71,92.84 L295.1,92.87 L294.49,92.9 L293.88,92.93 L293.27,92.95 L292.66,92.98 L292.04,93.01 L291.43,93.03 L290.82,93.05 L290.21,93.08 L289.6,93.1 L288.99,93.12 L288.38,93.14 L287.77,93.16 L287.16,93.18 L286.54,93.19 L285.93,93.21 L285.32,93.22 L284.71,93.24 L284.1,93.25 L283.49,93.26 L282.88,93.27 L282.27,93.28 L281.65,93.28 L281.04,93.29 L280.43,93.29 L279.82,93.3 L279.21,93.3 L278.6,93.3 L277.99,93.3 L277.38,93.3 L276.76,93.3 L276.15,93.3 L275.54,93.3 L274.93,93.3 L274.32,93.3 L273.71,93.3 L273.1,93.3 L272.49,93.3 L271.87,93.3 L271.26,93.3 L270.65,93.3 L270.04,93.3 L269.43,93.3 L268.82,93.3 L268.21,93.3 L267.6,93.3 L266.99,93.3 L266.37,93.3 L265.76,93.3 L265.15,93.3 L264.54,93.3 L263.93,93.3 L263.32,93.3 L262.71,93.3 L262.1,93.3 L261.48,93.3 L260.87,93.3 L260.26,93.3 L259.65,93.3 L259.04,93.3 L258.43,93.3 L257.82,93.3 L257.21,93.3 L256.59,93.3 L255.98,93.3 L255.37,93.3 L254.76,93.3 L254.15,93.3 L253.54,93.3 L252.93,93.3 L252.32,93.3 L251.7,93.3 L251.09,93.3 L250.48,93.3 L249.87,93.3 L249.26,93.3 L248.65,93.3 L248.04,93.3 L247.43,93.3 L246.81,93.3 L246.2,93.3 L245.59,93.3 L244.98,93.3 L244.37,93.3 L243.76,93.3 L243.15,93.3 L242.54,93.3 L241.93,93.3 L241.31,93.3 L240.7,93.3 L240.09,93.3 L239.48,93.3 L238.87,93.3 L238.26,93.3 L237.65,93.3 L237.04,93.3 L236.42,93.3 L235.81,93.3 L235.2,93.3 L234.59,93.3 L233.98,93.3 L233.37,93.3 L232.76,93.3 L232.15,93.3 L231.53,93.3 L230.92,93.3 L230.31,93.3 L229.7,93.3 L229.09,93.3 L228.48,93.3 L227.87,93.3 L227.26,93.3 L226.64,93.3 L226.03,93.3 L225.42,93.3 L224.81,93.3 L224.2,93.3 Z" fill="#2a9d8f" fill-opacity="0.25"/>
<path d="M224.2,93.3 L224.81,93.3 L225.42,93.3 L226.03,93.3 L226.64,93.3 L227.26,93.3 L227.87,93.3 L228.48,93.3 L229.09,93.3 L229.7,93.3 L230.31,93.3 L230.92,93.3 L231.53,93.3 L232.15,93.3 L232.76,93.3 L233.37,93.3 L233.98,93.3 L234.59,93.3 L235.2,93.3 L235.81,93.3 L236.42,93.3 L237.04,93.3 L237.65,93.3 L238.26,93.3 L238.87,93.3 L239.48,93.3 L240.09,93.3 L240.7,93.3 L241.31,93.3 L241.93,93.3 L242.54,93.3 L243.15,93.3 L243.76,93.3 L244.37,93.3 L244.98,93.3 L245.59,93.3 L246.2,93.3 L246.81,93.3 L247.43,93.3 L248.04,93.3 L248.65,93.3 L249.26,93.3 L249.87,93.3 L250.48,93.3 L251.09,93.3 L251.7,93.3 L252.32,93.3 L252.93,93.3 L253.54,93.3 L254.15,93.3 L254.76,93.3 L255.37,93.3 L255.98,93.3 L256.59,93.3 L257.21,93.3 L257.82,93.3 L258.43,93.3 L259.04,93.3 L259.65,93.3 L260.26,93.3 L260.87,93.3 L261.48,93.3 L262.1,93.3 L262.71,93.3 L263.32,93.3 L263.93,93.3 L264.54,93.3 L265.15,93.3 L265.76,93.3 L266.37,93.3 L266.99,93.3 L267.6,93.3 L268.21,93.3 L268.82,93.3 L269.43,93.3 L270.04,93.3 L270.65,93.3 L271.26,93.3 L271.87,93.3 L272.49,93.3 L273.1,93.3 L273.71,93.3 L274.32,93.3 L274.93,93.3 L275.54,93.3 L276.15,93.3 L276.76,93.3 L277.38,93.3 L277.99,93.3 L278.6,93.3 L279.21,93.3 L279.82,93.25 L280.43,93.2 L281.04,93.15 L281.65,93.09 L282.27,93.04 L282.88,92.98 L283.49,92.92 L284.1,92.86 L284.71,92.8 L285.32,92.74 L285.93,92.68 L286.54,92.62 L287.16,92.55 L287.77,92.49 L288.38,92.42 L288.99,92.35 L289.6,92.28 L290.21,92.21 L290.82,92.14 L291.43,92.07 L292.04,91.99 L292.66,91.92 L293.27,91.85 L293.88,91.77 L294.49,91.69 L295.1,91.62 L295.71,91.54 L296.32,91.46 L296.93,91.38 L297.55,91.3 L298.16,91.22 L298.77,91.13 L299.38,91.05 L299.99,90.96 L300.6,90.87 L301.21,90.78 L301.82,90.69 L302.44,90.59 L303.05,90.5 L303.66,90.4 L304.27,90.31 L304.88,90.21 L305.49,90.11 L306.1,90.01 L306.71,89.9 L307.33,89.8 L307.94,89.69 L308.55,89.59 L309.16,89.48 L309.77,89.37 L310.38,89.26 L310.99,89.14 L311.6,89.03 L312.22,88.91 L312.83,88.8 L313.44,88.68 L314.05,88.56 L314.66,88.43 L315.27,88.29 L315.88,88.15 L316.49,87.99 L317.1,87.83 L317.72,87.66 L318.33,87.49 L318.94,87.31 L319.55,87.13 L320.16,86.95 L320.77,86.78 L321.38,86.6 L321.99,86.43 L322.61,86.27 L323.22,86.11 L323.83,85.96 L324.44,85.82 L325.05,85.69 L325.66,85.58 L326.27,85.47 L326.88,85.39 L327.5,85.31 L328.11,85.26 L328.72,85.2 L329.33,85.15 L329.94,85.1 L330.55,85.05 L331.16,85 L331.77,84.95 L332.39,84.9 L333,84.85 L333.61,84.81 L334.22,84.76 L334.83,84.72 L335.44,84.68 L336.05,84.64 L336.66,84.61 L337.27,84.57 L337.89,84.54 L338.5,84.51 L339.11,84.48 L339.72,84.45 L340.33,84.43 L340.94,84.4 L341.55,84.38 L342.16,84.37 L342.78,84.35 L343.39,84.34 L344,84.33 L344.61,84.32 L345.22,84.32 L345.83,84.32" fill="none" stroke="#2b9183" stroke-width="1.15" stroke-opacity="1.0" stroke-linejoin="round"/>
<path d="M224.2,93.3 L224.81,93.3 L225.42,93.3 L226.03,93.3 L226.64,93.3 L227.26,93.3 L227.87,93.3 L228.48,93.3 L229.09,93.3 L229.7,93.3 L230.31,93.3 L230.92,93.3 L231.53,93.3 L232.15,93.3 L232.76,93.3 L233.37,93.3 L233.98,93.3 L234.59,93.3 L235.2,93.3 L235.81,93.3 L236.42,93.3 L237.04,93.3 L237.65,93.3 L238.26,93.3 L238.87,93.3 L239.48,93.3 L240.09,93.3 L240.7,93.3 L241.31,93.3 L241.93,93.3 L242.54,93.3 L243.15,93.3 L243.76,93.3 L244.37,93.3 L244.98,93.3 L245.59,93.3 L246.2,93.3 L246.81,93.3 L247.43,93.3 L248.04,93.3 L248.65,93.3 L249.26,93.3 L249.87,93.3 L250.48,93.3 L251.09,93.3 L251.7,93.3 L252.32,93.3 L252.93,93.3 L253.54,93.3 L254.15,93.3 L254.76,93.3 L255.37,93.3 L255.98,93.3 L256.59,93.3 L257.21,93.3 L257.82,93.3 L258.43,93.3 L259.04,93.3 L259.65,93.3 L260.26,93.3 L260.87,93.3 L261.48,93.3 L262.1,93.3 L262.71,93.3 L263.32,93.3 L263.93,93.3 L264.54,93.3 L265.15,93.3 L265.76,93.3 L266.37,93.3 L266.99,93.3 L267.6,93.3 L268.21,93.3 L268.82,93.3 L269.43,93.3 L270.04,93.3 L270.65,93.3 L271.26,93.3 L271.87,93.3 L272.49,93.3 L273.1,93.3 L273.71,93.3 L274.32,93.3 L274.93,93.3 L275.54,93.3 L276.15,93.3 L276.76,93.3 L277.38,93.3 L277.99,93.3 L278.6,93.3 L279.21,93.3 L279.82,93.3 L280.43,93.3 L281.04,93.3 L281.65,93.3 L282.27,93.3 L282.88,93.3 L283.49,93.3 L284.1,93.3 L284.71,93.3 L285.32,93.3 L285.93,93.3 L286.54,93.3 L287.16,93.3 L287.77,93.3 L288.38,93.3 L288.99,93.3 L289.6,93.3 L290.21,93.3 L290.82,93.3 L291.43,93.3 L292.04,93.3 L292.66,93.3 L293.27,93.3 L293.88,93.3 L294.49,93.3 L295.1,93.3 L295.71,93.3 L296.32,93.3 L296.93,93.3 L297.55,93.31 L298.16,93.32 L298.77,93.33 L299.38,93.34 L299.99,93.35 L300.6,93.35 L301.21,93.36 L301.82,93.37 L302.44,93.38 L303.05,93.39 L303.66,93.39 L304.27,93.4 L304.88,93.41 L305.49,93.42 L306.1,93.43 L306.71,93.43 L307.33,93.44 L307.94,93.45 L308.55,93.46 L309.16,93.47 L309.77,93.47 L310.38,93.48 L310.99,93.49 L311.6,93.5 L312.22,93.51 L312.83,93.52 L313.44,93.52 L314.05,93.53 L314.66,93.54 L315.27,93.55 L315.88,93.56 L316.49,93.56 L317.1,93.57 L317.72,93.58 L318.33,93.59 L318.94,93.6 L319.55,93.6 L320.16,93.61 L320.77,93.62 L321.38,93.63 L321.99,93.64 L322.61,93.64 L323.22,93.65 L323.83,93.66 L324.44,93.67 L325.05,93.68 L325.66,93.69 L326.27,93.69 L326.88,93.7 L327.5,93.71 L328.11,93.72 L328.72,93.73 L329.33,93.73 L329.94,93.74 L330.55,93.75 L331.16,93.76 L331.77,93.77 L332.39,93.77 L333,93.78 L333.61,93.79 L334.22,93.8 L334.83,93.81 L335.44,93.81 L336.05,93.82 L336.66,93.83 L337.27,93.84 L337.89,93.85 L338.5,93.86 L339.11,93.86 L339.72,93.87 L340.33,93.88 L340.94,93.89 L341.55,93.9 L342.16,93.9 L342.78,93.91 L343.39,93.92 L344,93.93 L344.61,93.94 L345.22,93.94 L345.83,93.95" fill="none" stroke="#d2505e" stroke-width="1.2" stroke-opacity="1.0" stroke-linejoin="round"/>
<line x1="218.5" y1="93.3" x2="349.6" y2="93.3" stroke="#606060" stroke-width="1.2" stroke-opacity="0.5"/>
<path d="M296.85,23.78 L302.05,28.98 M296.85,28.98 L302.05,23.78" stroke="#e35d6a" stroke-width="2.2" fill="none"/>
<path d="M316.97,56.21 L324.97,64.21 M316.97,64.21 L324.97,56.21" stroke="#e35d6a" stroke-width="2.2" fill="none"/>
<path d="M304.96,155.62 L310.16,160.82 M304.96,160.82 L310.16,155.62" stroke="#e35d6a" stroke-width="2.2" fill="none"/>
</g></g>
<rect x="218.5" y="19.6" width="131.1" height="145.8" fill="none" stroke="#5a5a5a" stroke-width="1"/>
<line x1="40.3" y1="153.48" x2="44.8" y2="153.48" stroke="#5a5a5a" stroke-width="1"/>
<text x="14.97" y="156.89" font-size="8.4" textLength="20.03" lengthAdjust="spacingAndGlyphs" fill="#1c1c1c" stroke="#1c1c1c" stroke-width="0.24">−0.4</text>
<line x1="40.3" y1="117.44" x2="44.8" y2="117.44" stroke="#5a5a5a" stroke-width="1"/>
<text x="14.97" y="120.85" font-size="8.4" textLength="20.03" lengthAdjust="spacingAndGlyphs" fill="#1c1c1c" stroke="#1c1c1c" stroke-width="0.24">−0.2</text>
<line x1="40.3" y1="81.4" x2="44.8" y2="81.4" stroke="#5a5a5a" stroke-width="1"/>
<text x="21.88" y="84.81" font-size="8.4" textLength="13.12" lengthAdjust="spacingAndGlyphs" fill="#1c1c1c" stroke="#1c1c1c" stroke-width="0.24">0.0</text>
<line x1="40.3" y1="45.36" x2="44.8" y2="45.36" stroke="#5a5a5a" stroke-width="1"/>
<text x="21.88" y="48.77" font-size="8.4" textLength="13.12" lengthAdjust="spacingAndGlyphs" fill="#1c1c1c" stroke="#1c1c1c" stroke-width="0.24">0.2</text>
<line x1="46.5" y1="165.5" x2="46.5" y2="161" stroke="#5a5a5a" stroke-width="1"/>
<text x="43.88" y="177.11" font-size="8.4" textLength="5.25" lengthAdjust="spacingAndGlyphs" fill="#1c1c1c" stroke="#1c1c1c" stroke-width="0.24">0</text>
<line x1="75.44" y1="165.5" x2="75.44" y2="161" stroke="#5a5a5a" stroke-width="1"/>
<text x="70.19" y="177.11" font-size="8.4" textLength="10.5" lengthAdjust="spacingAndGlyphs" fill="#1c1c1c" stroke="#1c1c1c" stroke-width="0.24">20</text>
<line x1="104.38" y1="165.5" x2="104.38" y2="161" stroke="#5a5a5a" stroke-width="1"/>
<text x="99.13" y="177.11" font-size="8.4" textLength="10.5" lengthAdjust="spacingAndGlyphs" fill="#1c1c1c" stroke="#1c1c1c" stroke-width="0.24">40</text>
<line x1="133.32" y1="165.5" x2="133.32" y2="161" stroke="#5a5a5a" stroke-width="1"/>
<text x="128.07" y="177.11" font-size="8.4" textLength="10.5" lengthAdjust="spacingAndGlyphs" fill="#1c1c1c" stroke="#1c1c1c" stroke-width="0.24">60</text>
<line x1="162.26" y1="165.5" x2="162.26" y2="161" stroke="#5a5a5a" stroke-width="1"/>
<text x="157.01" y="177.11" font-size="8.4" textLength="10.5" lengthAdjust="spacingAndGlyphs" fill="#1c1c1c" stroke="#1c1c1c" stroke-width="0.24">80</text>
<text x="59.21" y="190.11" font-size="8.4" textLength="93.58" lengthAdjust="spacingAndGlyphs" fill="#1c1c1c" stroke="#1c1c1c" stroke-width="0.24">Road Traffic Noise (dB)</text>
<g transform="translate(5.4,92.5) rotate(-90)"><text x="-16.32" y="3.01" font-size="8.4" textLength="32.64" lengthAdjust="spacingAndGlyphs" fill="#1c1c1c" stroke="#1c1c1c" stroke-width="0.24">Log(RR)</text></g>
<line x1="218.5" y1="149.31" x2="223" y2="149.31" stroke="#5a5a5a" stroke-width="1"/>
<text x="200.08" y="152.72" font-size="8.4" textLength="13.12" lengthAdjust="spacingAndGlyphs" fill="#1c1c1c" stroke="#1c1c1c" stroke-width="0.24">0.7</text>
<line x1="218.5" y1="130.64" x2="223" y2="130.64" stroke="#5a5a5a" stroke-width="1"/>
<text x="200.08" y="134.05" font-size="8.4" textLength="13.12" lengthAdjust="spacingAndGlyphs" fill="#1c1c1c" stroke="#1c1c1c" stroke-width="0.24">0.8</text>
<line x1="218.5" y1="111.97" x2="223" y2="111.97" stroke="#5a5a5a" stroke-width="1"/>
<text x="200.08" y="115.38" font-size="8.4" textLength="13.12" lengthAdjust="spacingAndGlyphs" fill="#1c1c1c" stroke="#1c1c1c" stroke-width="0.24">0.9</text>
<line x1="218.5" y1="93.3" x2="223" y2="93.3" stroke="#5a5a5a" stroke-width="1"/>
<text x="200.08" y="96.71" font-size="8.4" textLength="13.12" lengthAdjust="spacingAndGlyphs" fill="#1c1c1c" stroke="#1c1c1c" stroke-width="0.24">1.0</text>
<line x1="218.5" y1="74.63" x2="223" y2="74.63" stroke="#5a5a5a" stroke-width="1"/>
<text x="200.08" y="78.04" font-size="8.4" textLength="13.12" lengthAdjust="spacingAndGlyphs" fill="#1c1c1c" stroke="#1c1c1c" stroke-width="0.24">1.1</text>
<line x1="218.5" y1="55.96" x2="223" y2="55.96" stroke="#5a5a5a" stroke-width="1"/>
<text x="200.08" y="59.37" font-size="8.4" textLength="13.12" lengthAdjust="spacingAndGlyphs" fill="#1c1c1c" stroke="#1c1c1c" stroke-width="0.24">1.2</text>
<line x1="218.5" y1="37.29" x2="223" y2="37.29" stroke="#5a5a5a" stroke-width="1"/>
<text x="200.08" y="40.7" font-size="8.4" textLength="13.12" lengthAdjust="spacingAndGlyphs" fill="#1c1c1c" stroke="#1c1c1c" stroke-width="0.24">1.3</text>
<line x1="224.2" y1="165.4" x2="224.2" y2="160.9" stroke="#5a5a5a" stroke-width="1"/>
<text x="221.58" y="177.01" font-size="8.4" textLength="5.25" lengthAdjust="spacingAndGlyphs" fill="#1c1c1c" stroke="#1c1c1c" stroke-width="0.24">0</text>
<line x1="253.16" y1="165.4" x2="253.16" y2="160.9" stroke="#5a5a5a" stroke-width="1"/>
<text x="247.91" y="177.01" font-size="8.4" textLength="10.5" lengthAdjust="spacingAndGlyphs" fill="#1c1c1c" stroke="#1c1c1c" stroke-width="0.24">20</text>
<line x1="282.12" y1="165.4" x2="282.12" y2="160.9" stroke="#5a5a5a" stroke-width="1"/>
<text x="276.87" y="177.01" font-size="8.4" textLength="10.5" lengthAdjust="spacingAndGlyphs" fill="#1c1c1c" stroke="#1c1c1c" stroke-width="0.24">40</text>
<line x1="311.08" y1="165.4" x2="311.08" y2="160.9" stroke="#5a5a5a" stroke-width="1"/>
<text x="305.83" y="177.01" font-size="8.4" textLength="10.5" lengthAdjust="spacingAndGlyphs" fill="#1c1c1c" stroke="#1c1c1c" stroke-width="0.24">60</text>
<line x1="340.04" y1="165.4" x2="340.04" y2="160.9" stroke="#5a5a5a" stroke-width="1"/>
<text x="334.79" y="177.01" font-size="8.4" textLength="10.5" lengthAdjust="spacingAndGlyphs" fill="#1c1c1c" stroke="#1c1c1c" stroke-width="0.24">80</text>
<text x="237.26" y="190.01" font-size="8.4" textLength="93.58" lengthAdjust="spacingAndGlyphs" fill="#1c1c1c" stroke="#1c1c1c" stroke-width="0.24">Road Traffic Noise (dB)</text>
<g transform="translate(190.3,92.5) rotate(-90)"><text x="-5.73" y="3.01" font-size="8.4" textLength="11.46" lengthAdjust="spacingAndGlyphs" fill="#1c1c1c" stroke="#1c1c1c" stroke-width="0.24">RR</text></g>
<clipPath id="fA"><rect x="396.5" y="19.5" width="130.9" height="145.9"/></clipPath><g clip-path="url(#fA)">
<circle cx="460.6" cy="25" r="2.2" fill="#808080" fill-opacity="0.42"/>
<circle cx="462.2" cy="28.5" r="2.2" fill="#808080" fill-opacity="0.42"/>
<circle cx="461.5" cy="31" r="2.2" fill="#808080" fill-opacity="0.42"/>
<circle cx="460.8" cy="34" r="2.2" fill="#808080" fill-opacity="0.42"/>
<circle cx="458.3" cy="30.8" r="2.2" fill="#808080" fill-opacity="0.42"/>
<circle cx="462.6" cy="29.7" r="2.2" fill="#808080" fill-opacity="0.42"/>
<circle cx="461.4" cy="32.4" r="2.2" fill="#808080" fill-opacity="0.42"/>
<circle cx="467.2" cy="31.8" r="2.2" fill="#808080" fill-opacity="0.42"/>
<circle cx="466.8" cy="36" r="2.2" fill="#808080" fill-opacity="0.42"/>
<circle cx="459" cy="38.6" r="2.2" fill="#808080" fill-opacity="0.42"/>
<circle cx="459.4" cy="40.6" r="2.2" fill="#808080" fill-opacity="0.42"/>
<circle cx="450.5" cy="46.6" r="2.2" fill="#808080" fill-opacity="0.42"/>
<circle cx="456.3" cy="47.4" r="2.2" fill="#808080" fill-opacity="0.42"/>
<circle cx="458.3" cy="46.4" r="2.2" fill="#808080" fill-opacity="0.42"/>
<circle cx="461.8" cy="46.9" r="2.2" fill="#808080" fill-opacity="0.42"/>
<circle cx="464.8" cy="63" r="2.2" fill="#808080" fill-opacity="0.42"/>
<circle cx="443.4" cy="67.5" r="2.2" fill="#808080" fill-opacity="0.42"/>
<circle cx="476.4" cy="71.6" r="2.2" fill="#808080" fill-opacity="0.42"/>
<circle cx="470.9" cy="77.6" r="2.2" fill="#808080" fill-opacity="0.42"/>
<circle cx="450.6" cy="90.9" r="2.2" fill="#808080" fill-opacity="0.42"/>
<circle cx="445.9" cy="111.8" r="2.2" fill="#808080" fill-opacity="0.42"/>
<circle cx="422.3" cy="126.5" r="2.2" fill="#808080" fill-opacity="0.42"/>
<circle cx="433.4" cy="126.2" r="2.2" fill="#808080" fill-opacity="0.42"/>
<circle cx="466.1" cy="123.1" r="2.2" fill="#808080" fill-opacity="0.42"/>
<circle cx="464.8" cy="152.2" r="2.2" fill="#808080" fill-opacity="0.42"/>
<path d="M471.9,39.6 L476.1,43.8 M471.9,43.8 L476.1,39.6" stroke="#e35d6a" stroke-width="2.3" fill="none"/>
<path d="M417.8,68 L422,72.2 M417.8,72.2 L422,68" stroke="#e35d6a" stroke-width="2.3" fill="none"/>
<path d="M487.5,71.2 L491.7,75.4 M487.5,75.4 L491.7,71.2" stroke="#e35d6a" stroke-width="2.3" fill="none"/>
<path d="M461.5,19.6 L398.67,174.36 L524.33,174.36 Z" fill="#9edede" fill-opacity="0.4"/>
<line x1="461.5" y1="19.5" x2="461.5" y2="165.4" stroke="#8a8a8a" stroke-width="0.8" stroke-dasharray="2.5,1.2" stroke-opacity="0.7"/>
</g>
<rect x="396.5" y="19.5" width="130.9" height="145.9" fill="none" stroke="#5a5a5a" stroke-width="1"/>
<line x1="396.5" y1="19.6" x2="401" y2="19.6" stroke="#5a5a5a" stroke-width="1"/>
<text x="372.83" y="23.01" font-size="8.4" textLength="18.37" lengthAdjust="spacingAndGlyphs" fill="#1c1c1c" stroke="#1c1c1c" stroke-width="0.24">0.00</text>
<line x1="396.5" y1="42" x2="401" y2="42" stroke="#5a5a5a" stroke-width="1"/>
<text x="372.83" y="45.41" font-size="8.4" textLength="18.37" lengthAdjust="spacingAndGlyphs" fill="#1c1c1c" stroke="#1c1c1c" stroke-width="0.24">0.05</text>
<line x1="396.5" y1="64.4" x2="401" y2="64.4" stroke="#5a5a5a" stroke-width="1"/>
<text x="372.83" y="67.81" font-size="8.4" textLength="18.37" lengthAdjust="spacingAndGlyphs" fill="#1c1c1c" stroke="#1c1c1c" stroke-width="0.24">0.10</text>
<line x1="396.5" y1="86.8" x2="401" y2="86.8" stroke="#5a5a5a" stroke-width="1"/>
<text x="372.83" y="90.21" font-size="8.4" textLength="18.37" lengthAdjust="spacingAndGlyphs" fill="#1c1c1c" stroke="#1c1c1c" stroke-width="0.24">0.15</text>
<line x1="396.5" y1="109.2" x2="401" y2="109.2" stroke="#5a5a5a" stroke-width="1"/>
<text x="372.83" y="112.61" font-size="8.4" textLength="18.37" lengthAdjust="spacingAndGlyphs" fill="#1c1c1c" stroke="#1c1c1c" stroke-width="0.24">0.20</text>
<line x1="396.5" y1="131.6" x2="401" y2="131.6" stroke="#5a5a5a" stroke-width="1"/>
<text x="372.83" y="135.01" font-size="8.4" textLength="18.37" lengthAdjust="spacingAndGlyphs" fill="#1c1c1c" stroke="#1c1c1c" stroke-width="0.24">0.25</text>
<line x1="396.5" y1="154" x2="401" y2="154" stroke="#5a5a5a" stroke-width="1"/>
<text x="372.83" y="157.41" font-size="8.4" textLength="18.37" lengthAdjust="spacingAndGlyphs" fill="#1c1c1c" stroke="#1c1c1c" stroke-width="0.24">0.30</text>
<line x1="415.1" y1="165.4" x2="415.1" y2="160.9" stroke="#5a5a5a" stroke-width="1"/>
<text x="405.08" y="177.01" font-size="8.4" textLength="20.03" lengthAdjust="spacingAndGlyphs" fill="#1c1c1c" stroke="#1c1c1c" stroke-width="0.24">−0.5</text>
<line x1="461.5" y1="165.4" x2="461.5" y2="160.9" stroke="#5a5a5a" stroke-width="1"/>
<text x="454.94" y="177.01" font-size="8.4" textLength="13.12" lengthAdjust="spacingAndGlyphs" fill="#1c1c1c" stroke="#1c1c1c" stroke-width="0.24">0.0</text>
<line x1="507.9" y1="165.4" x2="507.9" y2="160.9" stroke="#5a5a5a" stroke-width="1"/>
<text x="501.34" y="177.01" font-size="8.4" textLength="13.12" lengthAdjust="spacingAndGlyphs" fill="#1c1c1c" stroke="#1c1c1c" stroke-width="0.24">0.5</text>
<text x="444.53" y="190.01" font-size="8.4" textLength="34.84" lengthAdjust="spacingAndGlyphs" fill="#1c1c1c" stroke="#1c1c1c" stroke-width="0.24">Residual</text>
<g transform="translate(362.5,92.45) rotate(-90)"><text x="-61.09" y="3.01" font-size="8.4" textLength="122.17" lengthAdjust="spacingAndGlyphs" fill="#1c1c1c" stroke="#1c1c1c" stroke-width="0.24">Standard error of the residual</text></g>
<rect x="533.8" y="28.2" width="21" height="4.4" fill="#2a9d8f" fill-opacity="0.22"/>
<text x="559.6" y="33.41" font-size="8.4" textLength="110.08" lengthAdjust="spacingAndGlyphs" fill="#1c1c1c" stroke="#1c1c1c" stroke-width="0.24">95% UI with heterogeneity</text>
<rect x="533.8" y="40.35" width="21" height="4.4" fill="#2a9d8f" fill-opacity="0.42"/>
<text x="559.6" y="45.56" font-size="8.4" textLength="123.59" lengthAdjust="spacingAndGlyphs" fill="#1c1c1c" stroke="#1c1c1c" stroke-width="0.24">95% UI without heterogeneity</text>
<line x1="535.8" y1="54.7" x2="552.8" y2="54.7" stroke="#2a9d8f" stroke-width="0.9" stroke-opacity="0.85"/>
<text x="559.6" y="57.71" font-size="8.4" textLength="36.57" lengthAdjust="spacingAndGlyphs" fill="#1c1c1c" stroke="#1c1c1c" stroke-width="0.24">Mean RR</text>
<line x1="535.8" y1="66.85" x2="552.8" y2="66.85" stroke="#f2909a" stroke-width="1.7"/>
<text x="559.6" y="69.86" font-size="8.4" textLength="118.02" lengthAdjust="spacingAndGlyphs" fill="#1c1c1c" stroke="#1c1c1c" stroke-width="0.24">Burden of proof risk function</text>
<circle cx="544.3" cy="79" r="2.7" fill="#808080" fill-opacity="0.5"/>
<text x="559.6" y="82.01" font-size="8.4" textLength="47.66" lengthAdjust="spacingAndGlyphs" fill="#1c1c1c" stroke="#1c1c1c" stroke-width="0.24">Data points</text>
<path d="M541.5,88.35 L547.1,93.95 M541.5,93.95 L547.1,88.35" stroke="#e35d6a" stroke-width="1.5" fill="none"/>
<text x="559.6" y="94.16" font-size="8.4" textLength="85.06" lengthAdjust="spacingAndGlyphs" fill="#1c1c1c" stroke="#1c1c1c" stroke-width="0.24">Trimmed data points</text>
<line x1="535.8" y1="103.3" x2="552.8" y2="103.3" stroke="#a4a4a4" stroke-width="0.85" stroke-dasharray="2.4,1.25"/>
<text x="559.6" y="106.31" font-size="8.4" textLength="65.04" lengthAdjust="spacingAndGlyphs" fill="#1c1c1c" stroke="#1c1c1c" stroke-width="0.24">Score boundary</text>
<g>
<clipPath id="cB0"><rect x="40.3" y="245.8" width="130.3" height="145.3"/></clipPath><g clip-path="url(#cB0)">
<line x1="76.6" y1="245.8" x2="76.6" y2="391.1" stroke="#a4a4a4" stroke-width="0.85" stroke-dasharray="2.4,1.25"/>
<line x1="140.5" y1="245.8" x2="140.5" y2="391.1" stroke="#a4a4a4" stroke-width="0.85" stroke-dasharray="2.4,1.25"/>
<circle cx="113.6" cy="301.2" r="2.6" fill="#808080" fill-opacity="0.5"/>
<circle cx="128.6" cy="294.5" r="2.6" fill="#808080" fill-opacity="0.5"/>
<circle cx="148.2" cy="294.5" r="3.4" fill="#808080" fill-opacity="0.5"/>
<circle cx="140.9" cy="307.4" r="4.2" fill="#808080" fill-opacity="0.5"/>
<circle cx="133.8" cy="322.9" r="5" fill="#808080" fill-opacity="0.5"/>
<circle cx="159" cy="316.4" r="3" fill="#808080" fill-opacity="0.5"/>
<circle cx="118.7" cy="329.5" r="5.8" fill="#808080" fill-opacity="0.5"/>
<circle cx="126.4" cy="330.3" r="7.5" fill="#808080" fill-opacity="0.5"/>
<circle cx="128.5" cy="334" r="5" fill="#808080" fill-opacity="0.5"/>
<circle cx="112" cy="343" r="6.2" fill="#808080" fill-opacity="0.5"/>
<circle cx="126.8" cy="343.5" r="6" fill="#808080" fill-opacity="0.5"/>
<circle cx="121" cy="344.7" r="2.5" fill="#808080" fill-opacity="0.5"/>
<circle cx="128.6" cy="384.3" r="2" fill="#808080" fill-opacity="0.5"/>
<path d="M45.2,335.5 L45.81,335.5 L46.42,335.5 L47.03,335.5 L47.63,335.5 L48.24,335.5 L48.85,335.5 L49.46,335.5 L50.07,335.5 L50.68,335.5 L51.29,335.5 L51.89,335.5 L52.5,335.5 L53.11,335.5 L53.72,335.5 L54.33,335.5 L54.94,335.5 L55.54,335.5 L56.15,335.5 L56.76,335.5 L57.37,335.5 L57.98,335.5 L58.59,335.5 L59.2,335.5 L59.8,335.5 L60.41,335.5 L61.02,335.5 L61.63,335.5 L62.24,335.5 L62.85,335.5 L63.46,335.5 L64.06,335.5 L64.67,335.5 L65.28,335.5 L65.89,335.5 L66.5,335.5 L67.11,335.5 L67.72,335.5 L68.32,335.5 L68.93,335.5 L69.54,335.5 L70.15,335.5 L70.76,335.5 L71.37,335.5 L71.98,335.5 L72.58,335.5 L73.19,335.5 L73.8,335.5 L74.41,335.5 L75.02,335.5 L75.63,335.5 L76.23,335.5 L76.84,335.5 L77.45,335.5 L78.06,335.5 L78.67,335.5 L79.28,335.5 L79.89,335.5 L80.49,335.5 L81.1,335.5 L81.71,335.5 L82.32,335.5 L82.93,335.5 L83.54,335.5 L84.15,335.5 L84.75,335.5 L85.36,335.5 L85.97,335.5 L86.58,335.5 L87.19,335.5 L87.8,335.5 L88.41,335.5 L89.01,335.5 L89.62,335.5 L90.23,335.5 L90.84,335.5 L91.45,335.5 L92.06,335.5 L92.67,335.5 L93.27,335.5 L93.88,335.5 L94.49,335.5 L95.1,335.5 L95.71,335.5 L96.32,335.5 L96.92,335.5 L97.53,335.5 L98.14,335.5 L98.75,335.5 L99.36,335.5 L99.97,335.5 L100.58,335.5 L101.18,335.5 L101.79,335.5 L102.4,335.5 L103.01,335.5 L103.62,335.5 L104.23,335.5 L104.84,335.5 L105.44,335.5 L106.05,335.5 L106.66,335.5 L107.27,335.5 L107.88,335.5 L108.49,335.5 L109.1,335.5 L109.7,335.5 L110.31,335.5 L110.92,335.5 L111.53,335.48 L112.14,335.39 L112.75,335.06 L113.35,334.67 L113.96,334.25 L114.57,333.78 L115.18,333.27 L115.79,332.73 L116.4,332.15 L117.01,331.54 L117.61,330.91 L118.22,330.25 L118.83,329.57 L119.44,328.87 L120.05,328.16 L120.66,327.43 L121.27,326.69 L121.87,325.95 L122.48,325.19 L123.09,324.43 L123.7,323.67 L124.31,322.91 L124.92,322.14 L125.53,321.36 L126.13,320.55 L126.74,319.72 L127.35,318.88 L127.96,318.02 L128.57,317.15 L129.18,316.27 L129.79,315.38 L130.39,314.48 L131,313.57 L131.61,312.65 L132.22,311.73 L132.83,310.8 L133.44,309.87 L134.04,308.94 L134.65,307.99 L135.26,307.04 L135.87,306.07 L136.48,305.09 L137.09,304.1 L137.7,303.1 L138.3,302.1 L138.91,301.09 L139.52,300.08 L140.13,299.06 L140.74,298.04 L141.35,297.01 L141.96,295.99 L142.56,294.97 L143.17,293.94 L143.78,292.92 L144.39,291.89 L145,290.86 L145.61,289.83 L146.22,288.79 L146.82,287.75 L147.43,286.71 L148.04,285.66 L148.65,284.61 L149.26,283.56 L149.87,282.51 L150.48,281.45 L151.08,280.39 L151.69,279.32 L152.3,278.26 L152.91,277.19 L153.52,276.11 L154.13,275.04 L154.73,273.96 L155.34,272.88 L155.95,271.8 L156.56,270.71 L157.17,269.63 L157.78,268.54 L158.39,267.44 L158.99,266.35 L159.6,265.25 L160.21,264.15 L160.82,263.05 L161.43,261.94 L162.04,260.84 L162.65,259.73 L163.25,258.61 L163.86,257.5 L164.47,256.38 L165.08,255.26 L165.69,254.14 L166.3,253.01 L166.3,348.13 L165.69,348.03 L165.08,347.93 L164.47,347.83 L163.86,347.73 L163.25,347.63 L162.65,347.53 L162.04,347.42 L161.43,347.32 L160.82,347.22 L160.21,347.12 L159.6,347.01 L158.99,346.91 L158.39,346.81 L157.78,346.7 L157.17,346.6 L156.56,346.5 L155.95,346.39 L155.34,346.29 L154.73,346.19 L154.13,346.08 L153.52,345.98 L152.91,345.87 L152.3,345.77 L151.69,345.67 L151.08,345.56 L150.48,345.46 L149.87,345.36 L149.26,345.25 L148.65,345.15 L148.04,345.04 L147.43,344.93 L146.82,344.83 L146.22,344.72 L145.61,344.62 L145,344.51 L144.39,344.41 L143.78,344.3 L143.17,344.2 L142.56,344.09 L141.96,343.99 L141.35,343.9 L140.74,343.81 L140.13,343.71 L139.52,343.62 L138.91,343.53 L138.3,343.44 L137.7,343.35 L137.09,343.25 L136.48,343.15 L135.87,343.04 L135.26,342.93 L134.65,342.81 L134.04,342.68 L133.44,342.55 L132.83,342.41 L132.22,342.28 L131.61,342.15 L131,342.02 L130.39,341.88 L129.79,341.74 L129.18,341.6 L128.57,341.45 L127.96,341.3 L127.35,341.14 L126.74,340.97 L126.13,340.79 L125.53,340.6 L124.92,340.4 L124.31,340.18 L123.7,339.97 L123.09,339.76 L122.48,339.55 L121.87,339.35 L121.27,339.16 L120.66,338.96 L120.05,338.76 L119.44,338.56 L118.83,338.35 L118.22,338.14 L117.61,337.92 L117.01,337.69 L116.4,337.44 L115.79,337.19 L115.18,336.92 L114.57,336.64 L113.96,336.35 L113.35,336.05 L112.75,335.75 L112.14,335.5 L111.53,335.48 L110.92,335.5 L110.31,335.5 L109.7,335.5 L109.1,335.5 L108.49,335.5 L107.88,335.5 L107.27,335.5 L106.66,335.5 L106.05,335.5 L105.44,335.5 L104.84,335.5 L104.23,335.5 L103.62,335.5 L103.01,335.5 L102.4,335.5 L101.79,335.5 L101.18,335.5 L100.58,335.5 L99.97,335.5 L99.36,335.5 L98.75,335.5 L98.14,335.5 L97.53,335.5 L96.92,335.5 L96.32,335.5 L95.71,335.5 L95.1,335.5 L94.49,335.5 L93.88,335.5 L93.27,335.5 L92.67,335.5 L92.06,335.5 L91.45,335.5 L90.84,335.5 L90.23,335.5 L89.62,335.5 L89.01,335.5 L88.41,335.5 L87.8,335.5 L87.19,335.5 L86.58,335.5 L85.97,335.5 L85.36,335.5 L84.75,335.5 L84.15,335.5 L83.54,335.5 L82.93,335.5 L82.32,335.5 L81.71,335.5 L81.1,335.5 L80.49,335.5 L79.89,335.5 L79.28,335.5 L78.67,335.5 L78.06,335.5 L77.45,335.5 L76.84,335.5 L76.23,335.5 L75.63,335.5 L75.02,335.5 L74.41,335.5 L73.8,335.5 L73.19,335.5 L72.58,335.5 L71.98,335.5 L71.37,335.5 L70.76,335.5 L70.15,335.5 L69.54,335.5 L68.93,335.5 L68.32,335.5 L67.72,335.5 L67.11,335.5 L66.5,335.5 L65.89,335.5 L65.28,335.5 L64.67,335.5 L64.06,335.5 L63.46,335.5 L62.85,335.5 L62.24,335.5 L61.63,335.5 L61.02,335.5 L60.41,335.5 L59.8,335.5 L59.2,335.5 L58.59,335.5 L57.98,335.5 L57.37,335.5 L56.76,335.5 L56.15,335.5 L55.54,335.5 L54.94,335.5 L54.33,335.5 L53.72,335.5 L53.11,335.5 L52.5,335.5 L51.89,335.5 L51.29,335.5 L50.68,335.5 L50.07,335.5 L49.46,335.5 L48.85,335.5 L48.24,335.5 L47.63,335.5 L47.03,335.5 L46.42,335.5 L45.81,335.5 L45.2,335.5 Z" fill="#2a9d8f" fill-opacity="0.22"/>
<path d="M45.2,335.5 L45.81,335.5 L46.42,335.5 L47.03,335.5 L47.63,335.5 L48.24,335.5 L48.85,335.5 L49.46,335.5 L50.07,335.5 L50.68,335.5 L51.29,335.5 L51.89,335.5 L52.5,335.5 L53.11,335.5 L53.72,335.5 L54.33,335.5 L54.94,335.5 L55.54,335.5 L56.15,335.5 L56.76,335.5 L57.37,335.5 L57.98,335.5 L58.59,335.5 L59.2,335.5 L59.8,335.5 L60.41,335.5 L61.02,335.5 L61.63,335.5 L62.24,335.5 L62.85,335.5 L63.46,335.5 L64.06,335.5 L64.67,335.5 L65.28,335.5 L65.89,335.5 L66.5,335.5 L67.11,335.5 L67.72,335.5 L68.32,335.5 L68.93,335.5 L69.54,335.5 L70.15,335.5 L70.76,335.5 L71.37,335.5 L71.98,335.5 L72.58,335.5 L73.19,335.5 L73.8,335.5 L74.41,335.5 L75.02,335.5 L75.63,335.5 L76.23,335.5 L76.84,335.5 L77.45,335.5 L78.06,335.5 L78.67,335.5 L79.28,335.5 L79.89,335.5 L80.49,335.5 L81.1,335.5 L81.71,335.5 L82.32,335.5 L82.93,335.5 L83.54,335.5 L84.15,335.5 L84.75,335.5 L85.36,335.5 L85.97,335.5 L86.58,335.5 L87.19,335.5 L87.8,335.5 L88.41,335.5 L89.01,335.5 L89.62,335.5 L90.23,335.5 L90.84,335.5 L91.45,335.5 L92.06,335.5 L92.67,335.5 L93.27,335.5 L93.88,335.5 L94.49,335.5 L95.1,335.5 L95.71,335.5 L96.32,335.5 L96.92,335.5 L97.53,335.5 L98.14,335.5 L98.75,335.5 L99.36,335.5 L99.97,335.5 L100.58,335.5 L101.18,335.5 L101.79,335.5 L102.4,335.5 L103.01,335.5 L103.62,335.5 L104.23,335.5 L104.84,335.5 L105.44,335.5 L106.05,335.5 L106.66,335.5 L107.27,335.5 L107.88,335.5 L108.49,335.5 L109.1,335.5 L109.7,335.5 L110.31,335.5 L110.92,335.5 L111.53,335.48 L112.14,335.42 L112.75,335.25 L113.35,335.05 L113.96,334.82 L114.57,334.56 L115.18,334.27 L115.79,333.95 L116.4,333.6 L117.01,333.22 L117.61,332.82 L118.22,332.41 L118.83,331.97 L119.44,331.52 L120.05,331.06 L120.66,330.58 L121.27,330.1 L121.87,329.61 L122.48,329.12 L123.09,328.62 L123.7,328.13 L124.31,327.64 L124.92,327.14 L125.53,326.62 L126.13,326.08 L126.74,325.53 L127.35,324.97 L127.96,324.39 L128.57,323.8 L129.18,323.2 L129.79,322.59 L130.39,321.97 L131,321.35 L131.61,320.72 L132.22,320.08 L132.83,319.45 L133.44,318.81 L134.04,318.17 L134.65,317.51 L135.26,316.85 L135.87,316.18 L136.48,315.49 L137.09,314.8 L137.7,314.11 L138.3,313.4 L138.91,312.7 L139.52,311.98 L140.13,311.27 L140.74,310.55 L141.35,309.83 L141.96,309.12 L142.56,308.4 L143.17,307.68 L143.78,306.97 L144.39,306.25 L145,305.53 L145.61,304.81 L146.22,304.09 L146.82,303.36 L147.43,302.63 L148.04,301.9 L148.65,301.17 L149.26,300.43 L149.87,299.69 L150.48,298.95 L151.08,298.21 L151.69,297.46 L152.3,296.72 L152.91,295.97 L153.52,295.22 L154.13,294.46 L154.73,293.71 L155.34,292.95 L155.95,292.2 L156.56,291.44 L157.17,290.67 L157.78,289.91 L158.39,289.14 L158.99,288.38 L159.6,287.61 L160.21,286.84 L160.82,286.06 L161.43,285.29 L162.04,284.51 L162.65,283.73 L163.25,282.95 L163.86,282.17 L164.47,281.39 L165.08,280.6 L165.69,279.81 L166.3,279.02 L166.3,322.12 L165.69,322.36 L165.08,322.59 L164.47,322.82 L163.86,323.06 L163.25,323.29 L162.65,323.52 L162.04,323.75 L161.43,323.98 L160.82,324.2 L160.21,324.43 L159.6,324.66 L158.99,324.88 L158.39,325.11 L157.78,325.33 L157.17,325.55 L156.56,325.77 L155.95,326 L155.34,326.22 L154.73,326.44 L154.13,326.66 L153.52,326.87 L152.91,327.09 L152.3,327.31 L151.69,327.53 L151.08,327.74 L150.48,327.96 L149.87,328.17 L149.26,328.38 L148.65,328.59 L148.04,328.8 L147.43,329.01 L146.82,329.22 L146.22,329.43 L145.61,329.64 L145,329.84 L144.39,330.05 L143.78,330.25 L143.17,330.46 L142.56,330.66 L141.96,330.87 L141.35,331.08 L140.74,331.29 L140.13,331.5 L139.52,331.72 L138.91,331.93 L138.3,332.14 L137.7,332.34 L137.09,332.54 L136.48,332.74 L135.87,332.93 L135.26,333.11 L134.65,333.29 L134.04,333.46 L133.44,333.61 L132.83,333.77 L132.22,333.93 L131.61,334.08 L131,334.24 L130.39,334.39 L129.79,334.53 L129.18,334.68 L128.57,334.81 L127.96,334.94 L127.35,335.05 L126.74,335.16 L126.13,335.26 L125.53,335.34 L124.92,335.41 L124.31,335.46 L123.7,335.51 L123.09,335.57 L122.48,335.63 L121.87,335.69 L121.27,335.75 L120.66,335.81 L120.05,335.86 L119.44,335.91 L118.83,335.95 L118.22,335.98 L117.61,336 L117.01,336.01 L116.4,336 L115.79,335.97 L115.18,335.93 L114.57,335.86 L113.96,335.78 L113.35,335.67 L112.75,335.56 L112.14,335.47 L111.53,335.48 L110.92,335.5 L110.31,335.5 L109.7,335.5 L109.1,335.5 L108.49,335.5 L107.88,335.5 L107.27,335.5 L106.66,335.5 L106.05,335.5 L105.44,335.5 L104.84,335.5 L104.23,335.5 L103.62,335.5 L103.01,335.5 L102.4,335.5 L101.79,335.5 L101.18,335.5 L100.58,335.5 L99.97,335.5 L99.36,335.5 L98.75,335.5 L98.14,335.5 L97.53,335.5 L96.92,335.5 L96.32,335.5 L95.71,335.5 L95.1,335.5 L94.49,335.5 L93.88,335.5 L93.27,335.5 L92.67,335.5 L92.06,335.5 L91.45,335.5 L90.84,335.5 L90.23,335.5 L89.62,335.5 L89.01,335.5 L88.41,335.5 L87.8,335.5 L87.19,335.5 L86.58,335.5 L85.97,335.5 L85.36,335.5 L84.75,335.5 L84.15,335.5 L83.54,335.5 L82.93,335.5 L82.32,335.5 L81.71,335.5 L81.1,335.5 L80.49,335.5 L79.89,335.5 L79.28,335.5 L78.67,335.5 L78.06,335.5 L77.45,335.5 L76.84,335.5 L76.23,335.5 L75.63,335.5 L75.02,335.5 L74.41,335.5 L73.8,335.5 L73.19,335.5 L72.58,335.5 L71.98,335.5 L71.37,335.5 L70.76,335.5 L70.15,335.5 L69.54,335.5 L68.93,335.5 L68.32,335.5 L67.72,335.5 L67.11,335.5 L66.5,335.5 L65.89,335.5 L65.28,335.5 L64.67,335.5 L64.06,335.5 L63.46,335.5 L62.85,335.5 L62.24,335.5 L61.63,335.5 L61.02,335.5 L60.41,335.5 L59.8,335.5 L59.2,335.5 L58.59,335.5 L57.98,335.5 L57.37,335.5 L56.76,335.5 L56.15,335.5 L55.54,335.5 L54.94,335.5 L54.33,335.5 L53.72,335.5 L53.11,335.5 L52.5,335.5 L51.89,335.5 L51.29,335.5 L50.68,335.5 L50.07,335.5 L49.46,335.5 L48.85,335.5 L48.24,335.5 L47.63,335.5 L47.03,335.5 L46.42,335.5 L45.81,335.5 L45.2,335.5 Z" fill="#2a9d8f" fill-opacity="0.25"/>
<path d="M45.2,335.5 L45.81,335.5 L46.42,335.5 L47.03,335.5 L47.63,335.5 L48.24,335.5 L48.85,335.5 L49.46,335.5 L50.07,335.5 L50.68,335.5 L51.29,335.5 L51.89,335.5 L52.5,335.5 L53.11,335.5 L53.72,335.5 L54.33,335.5 L54.94,335.5 L55.54,335.5 L56.15,335.5 L56.76,335.5 L57.37,335.5 L57.98,335.5 L58.59,335.5 L59.2,335.5 L59.8,335.5 L60.41,335.5 L61.02,335.5 L61.63,335.5 L62.24,335.5 L62.85,335.5 L63.46,335.5 L64.06,335.5 L64.67,335.5 L65.28,335.5 L65.89,335.5 L66.5,335.5 L67.11,335.5 L67.72,335.5 L68.32,335.5 L68.93,335.5 L69.54,335.5 L70.15,335.5 L70.76,335.5 L71.37,335.5 L71.98,335.5 L72.58,335.5 L73.19,335.5 L73.8,335.5 L74.41,335.5 L75.02,335.5 L75.63,335.5 L76.23,335.5 L76.84,335.5 L77.45,335.5 L78.06,335.5 L78.67,335.5 L79.28,335.5 L79.89,335.5 L80.49,335.5 L81.1,335.5 L81.71,335.5 L82.32,335.5 L82.93,335.5 L83.54,335.5 L84.15,335.5 L84.75,335.5 L85.36,335.5 L85.97,335.5 L86.58,335.5 L87.19,335.5 L87.8,335.5 L88.41,335.5 L89.01,335.5 L89.62,335.5 L90.23,335.5 L90.84,335.5 L91.45,335.5 L92.06,335.5 L92.67,335.5 L93.27,335.5 L93.88,335.5 L94.49,335.5 L95.1,335.5 L95.71,335.5 L96.32,335.5 L96.92,335.5 L97.53,335.5 L98.14,335.5 L98.75,335.5 L99.36,335.5 L99.97,335.5 L100.58,335.5 L101.18,335.5 L101.79,335.5 L102.4,335.5 L103.01,335.5 L103.62,335.5 L104.23,335.5 L104.84,335.5 L105.44,335.5 L106.05,335.5 L106.66,335.5 L107.27,335.5 L107.88,335.5 L108.49,335.5 L109.1,335.5 L109.7,335.5 L110.31,335.5 L110.92,335.5 L111.53,335.48 L112.14,335.45 L112.75,335.4 L113.35,335.36 L113.96,335.3 L114.57,335.21 L115.18,335.1 L115.79,334.96 L116.4,334.8 L117.01,334.61 L117.61,334.41 L118.22,334.19 L118.83,333.96 L119.44,333.72 L120.05,333.46 L120.66,333.2 L121.27,332.92 L121.87,332.65 L122.48,332.37 L123.09,332.1 L123.7,331.82 L124.31,331.55 L124.92,331.27 L125.53,330.98 L126.13,330.67 L126.74,330.35 L127.35,330.01 L127.96,329.66 L128.57,329.3 L129.18,328.94 L129.79,328.56 L130.39,328.18 L131,327.79 L131.61,327.4 L132.22,327.01 L132.83,326.61 L133.44,326.21 L134.04,325.81 L134.65,325.4 L135.26,324.98 L135.87,324.55 L136.48,324.12 L137.09,323.67 L137.7,323.22 L138.3,322.77 L138.91,322.31 L139.52,321.85 L140.13,321.39 L140.74,320.92 L141.35,320.46 L141.96,319.99 L142.56,319.53 L143.17,319.07 L143.78,318.61 L144.39,318.15 L145,317.69 L145.61,317.22 L146.22,316.76 L146.82,316.29 L147.43,315.82 L148.04,315.35 L148.65,314.88 L149.26,314.41 L149.87,313.93 L150.48,313.45 L151.08,312.98 L151.69,312.5 L152.3,312.01 L152.91,311.53 L153.52,311.05 L154.13,310.56 L154.73,310.07 L155.34,309.59 L155.95,309.1 L156.56,308.61 L157.17,308.11 L157.78,307.62 L158.39,307.13 L158.99,306.63 L159.6,306.13 L160.21,305.63 L160.82,305.13 L161.43,304.63 L162.04,304.13 L162.65,303.63 L163.25,303.12 L163.86,302.61 L164.47,302.11 L165.08,301.6 L165.69,301.08 L166.3,300.57" fill="none" stroke="#2b9183" stroke-width="1.15" stroke-opacity="1.0" stroke-linejoin="round"/>
<path d="M45.2,335.5 L45.81,335.5 L46.42,335.5 L47.03,335.5 L47.63,335.5 L48.24,335.5 L48.85,335.5 L49.46,335.5 L50.07,335.5 L50.68,335.5 L51.29,335.5 L51.89,335.5 L52.5,335.5 L53.11,335.5 L53.72,335.5 L54.33,335.5 L54.94,335.5 L55.54,335.5 L56.15,335.5 L56.76,335.5 L57.37,335.5 L57.98,335.5 L58.59,335.5 L59.2,335.5 L59.8,335.5 L60.41,335.5 L61.02,335.5 L61.63,335.5 L62.24,335.5 L62.85,335.5 L63.46,335.5 L64.06,335.5 L64.67,335.5 L65.28,335.5 L65.89,335.5 L66.5,335.5 L67.11,335.5 L67.72,335.5 L68.32,335.5 L68.93,335.5 L69.54,335.5 L70.15,335.5 L70.76,335.5 L71.37,335.5 L71.98,335.5 L72.58,335.5 L73.19,335.5 L73.8,335.5 L74.41,335.5 L75.02,335.5 L75.63,335.5 L76.23,335.5 L76.84,335.5 L77.45,335.5 L78.06,335.5 L78.67,335.5 L79.28,335.5 L79.89,335.5 L80.49,335.5 L81.1,335.5 L81.71,335.5 L82.32,335.5 L82.93,335.5 L83.54,335.5 L84.15,335.5 L84.75,335.5 L85.36,335.5 L85.97,335.5 L86.58,335.5 L87.19,335.5 L87.8,335.5 L88.41,335.5 L89.01,335.5 L89.62,335.5 L90.23,335.5 L90.84,335.5 L91.45,335.5 L92.06,335.5 L92.67,335.5 L93.27,335.5 L93.88,335.5 L94.49,335.5 L95.1,335.5 L95.71,335.5 L96.32,335.5 L96.92,335.5 L97.53,335.5 L98.14,335.5 L98.75,335.5 L99.36,335.5 L99.97,335.5 L100.58,335.5 L101.18,335.5 L101.79,335.5 L102.4,335.5 L103.01,335.5 L103.62,335.5 L104.23,335.5 L104.84,335.5 L105.44,335.5 L106.05,335.5 L106.66,335.5 L107.27,335.5 L107.88,335.5 L108.49,335.5 L109.1,335.5 L109.7,335.5 L110.31,335.5 L110.92,335.5 L111.53,335.5 L112.14,335.5 L112.75,335.5 L113.35,335.5 L113.96,335.5 L114.57,335.5 L115.18,335.51 L115.79,335.53 L116.4,335.55 L117.01,335.58 L117.61,335.61 L118.22,335.65 L118.83,335.68 L119.44,335.72 L120.05,335.76 L120.66,335.8 L121.27,335.84 L121.87,335.88 L122.48,335.93 L123.09,335.97 L123.7,336.02 L124.31,336.07 L124.92,336.11 L125.53,336.16 L126.13,336.21 L126.74,336.26 L127.35,336.31 L127.96,336.37 L128.57,336.42 L129.18,336.47 L129.79,336.53 L130.39,336.58 L131,336.64 L131.61,336.69 L132.22,336.75 L132.83,336.81 L133.44,336.87 L134.04,336.93 L134.65,336.98 L135.26,337.04 L135.87,337.1 L136.48,337.17 L137.09,337.23 L137.7,337.29 L138.3,337.35 L138.91,337.41 L139.52,337.48 L140.13,337.54 L140.74,337.6 L141.35,337.67 L141.96,337.73 L142.56,337.8 L143.17,337.87 L143.78,337.93 L144.39,338 L145,338.07 L145.61,338.13 L146.22,338.2 L146.82,338.27 L147.43,338.34 L148.04,338.41 L148.65,338.48 L149.26,338.55 L149.87,338.62 L150.48,338.69 L151.08,338.76 L151.69,338.83 L152.3,338.9 L152.91,338.98 L153.52,339.05 L154.13,339.12 L154.73,339.19 L155.34,339.27 L155.95,339.34 L156.56,339.42 L157.17,339.49 L157.78,339.57 L158.39,339.64 L158.99,339.72 L159.6,339.79 L160.21,339.87 L160.82,339.94 L161.43,340.02 L162.04,340.1 L162.65,340.17 L163.25,340.25 L163.86,340.33 L164.47,340.41 L165.08,340.49 L165.69,340.57 L166.3,340.64" fill="none" stroke="#d2505e" stroke-width="1.2" stroke-opacity="1.0" stroke-linejoin="round"/>
<line x1="40.3" y1="335.5" x2="170.6" y2="335.5" stroke="#606060" stroke-width="1.2" stroke-opacity="0.5"/>
<path d="M121.2,338.7 L132.4,349.9 M121.2,349.9 L132.4,338.7" stroke="#e35d6a" stroke-width="2.4" fill="none"/>
<path d="M110.9,381.7 L116.1,386.9 M110.9,386.9 L116.1,381.7" stroke="#e35d6a" stroke-width="2.2" fill="none"/>
</g></g>
<rect x="40.3" y="245.8" width="130.3" height="145.3" fill="none" stroke="#5a5a5a" stroke-width="1"/>
<g>
<clipPath id="cB1"><rect x="217.3" y="246" width="130.1" height="145.4"/></clipPath><g clip-path="url(#cB1)">
<line x1="253.6" y1="246" x2="253.6" y2="391.4" stroke="#a4a4a4" stroke-width="0.85" stroke-dasharray="2.4,1.25"/>
<line x1="317.5" y1="246" x2="317.5" y2="391.4" stroke="#a4a4a4" stroke-width="0.85" stroke-dasharray="2.4,1.25"/>
<circle cx="290.7" cy="309.61" r="2.6" fill="#808080" fill-opacity="0.5"/>
<circle cx="305.7" cy="302.45" r="2.6" fill="#808080" fill-opacity="0.5"/>
<circle cx="325.3" cy="302.45" r="3.4" fill="#808080" fill-opacity="0.5"/>
<circle cx="318" cy="316.07" r="4.2" fill="#808080" fill-opacity="0.5"/>
<circle cx="310.9" cy="331.53" r="5" fill="#808080" fill-opacity="0.5"/>
<circle cx="336.1" cy="325.16" r="3" fill="#808080" fill-opacity="0.5"/>
<circle cx="295.8" cy="337.82" r="5.8" fill="#808080" fill-opacity="0.5"/>
<circle cx="303.5" cy="338.57" r="7.5" fill="#808080" fill-opacity="0.5"/>
<circle cx="305.6" cy="342.02" r="5" fill="#808080" fill-opacity="0.5"/>
<circle cx="289.1" cy="350.19" r="6.2" fill="#808080" fill-opacity="0.5"/>
<circle cx="303.9" cy="350.63" r="6" fill="#808080" fill-opacity="0.5"/>
<circle cx="298.1" cy="351.69" r="2.5" fill="#808080" fill-opacity="0.5"/>
<circle cx="305.7" cy="384.08" r="2" fill="#808080" fill-opacity="0.5"/>
<path d="M222.3,343.4 L222.91,343.4 L223.52,343.4 L224.13,343.4 L224.73,343.4 L225.34,343.4 L225.95,343.4 L226.56,343.4 L227.17,343.4 L227.78,343.4 L228.39,343.4 L228.99,343.4 L229.6,343.4 L230.21,343.4 L230.82,343.4 L231.43,343.4 L232.04,343.4 L232.64,343.4 L233.25,343.4 L233.86,343.4 L234.47,343.4 L235.08,343.4 L235.69,343.4 L236.3,343.4 L236.9,343.4 L237.51,343.4 L238.12,343.4 L238.73,343.4 L239.34,343.4 L239.95,343.4 L240.56,343.4 L241.16,343.4 L241.77,343.4 L242.38,343.4 L242.99,343.4 L243.6,343.4 L244.21,343.4 L244.82,343.4 L245.42,343.4 L246.03,343.4 L246.64,343.4 L247.25,343.4 L247.86,343.4 L248.47,343.4 L249.08,343.4 L249.68,343.4 L250.29,343.4 L250.9,343.4 L251.51,343.4 L252.12,343.4 L252.73,343.4 L253.33,343.4 L253.94,343.4 L254.55,343.4 L255.16,343.4 L255.77,343.4 L256.38,343.4 L256.99,343.4 L257.59,343.4 L258.2,343.4 L258.81,343.4 L259.42,343.4 L260.03,343.4 L260.64,343.4 L261.25,343.4 L261.85,343.4 L262.46,343.4 L263.07,343.4 L263.68,343.4 L264.29,343.4 L264.9,343.4 L265.51,343.4 L266.11,343.4 L266.72,343.4 L267.33,343.4 L267.94,343.4 L268.55,343.4 L269.16,343.4 L269.77,343.4 L270.37,343.4 L270.98,343.4 L271.59,343.4 L272.2,343.4 L272.81,343.4 L273.42,343.4 L274.02,343.4 L274.63,343.4 L275.24,343.4 L275.85,343.4 L276.46,343.4 L277.07,343.4 L277.68,343.4 L278.28,343.4 L278.89,343.4 L279.5,343.4 L280.11,343.4 L280.72,343.4 L281.33,343.4 L281.94,343.4 L282.54,343.4 L283.15,343.4 L283.76,343.4 L284.37,343.4 L284.98,343.4 L285.59,343.4 L286.2,343.4 L286.8,343.4 L287.41,343.4 L288.02,343.4 L288.63,343.38 L289.24,343.3 L289.85,342.99 L290.45,342.64 L291.06,342.25 L291.67,341.82 L292.28,341.35 L292.89,340.84 L293.5,340.3 L294.11,339.74 L294.71,339.14 L295.32,338.53 L295.93,337.89 L296.54,337.23 L297.15,336.56 L297.76,335.87 L298.37,335.17 L298.97,334.45 L299.58,333.73 L300.19,333.01 L300.8,332.28 L301.41,331.54 L302.02,330.8 L302.63,330.03 L303.23,329.24 L303.84,328.44 L304.45,327.61 L305.06,326.77 L305.67,325.91 L306.28,325.04 L306.89,324.15 L307.49,323.25 L308.1,322.34 L308.71,321.42 L309.32,320.49 L309.93,319.55 L310.54,318.6 L311.14,317.65 L311.75,316.68 L312.36,315.7 L312.97,314.7 L313.58,313.68 L314.19,312.65 L314.8,311.61 L315.4,310.56 L316.01,309.5 L316.62,308.42 L317.23,307.34 L317.84,306.25 L318.45,305.16 L319.06,304.06 L319.66,302.95 L320.27,301.84 L320.88,300.73 L321.49,299.61 L322.1,298.48 L322.71,297.34 L323.32,296.19 L323.92,295.03 L324.53,293.87 L325.14,292.7 L325.75,291.52 L326.36,290.33 L326.97,289.13 L327.58,287.92 L328.18,286.71 L328.79,285.49 L329.4,284.25 L330.01,283.01 L330.62,281.76 L331.23,280.5 L331.83,279.24 L332.44,277.96 L333.05,276.68 L333.66,275.39 L334.27,274.09 L334.88,272.78 L335.49,271.46 L336.09,270.14 L336.7,268.8 L337.31,267.46 L337.92,266.1 L338.53,264.74 L339.14,263.37 L339.75,261.99 L340.35,260.6 L340.96,259.2 L341.57,257.79 L342.18,256.37 L342.79,254.94 L343.4,253.5 L343.4,354.71 L342.79,354.62 L342.18,354.53 L341.57,354.45 L340.96,354.36 L340.35,354.27 L339.75,354.18 L339.14,354.09 L338.53,354 L337.92,353.91 L337.31,353.82 L336.7,353.73 L336.09,353.64 L335.49,353.55 L334.88,353.46 L334.27,353.37 L333.66,353.28 L333.05,353.19 L332.44,353.1 L331.83,353.01 L331.23,352.91 L330.62,352.82 L330.01,352.73 L329.4,352.64 L328.79,352.55 L328.18,352.46 L327.58,352.37 L326.97,352.27 L326.36,352.18 L325.75,352.09 L325.14,352 L324.53,351.9 L323.92,351.81 L323.32,351.72 L322.71,351.62 L322.1,351.53 L321.49,351.44 L320.88,351.34 L320.27,351.25 L319.66,351.16 L319.06,351.07 L318.45,350.98 L317.84,350.9 L317.23,350.82 L316.62,350.74 L316.01,350.66 L315.4,350.58 L314.8,350.49 L314.19,350.41 L313.58,350.32 L312.97,350.22 L312.36,350.12 L311.75,350.02 L311.14,349.9 L310.54,349.78 L309.93,349.66 L309.32,349.54 L308.71,349.43 L308.1,349.31 L307.49,349.19 L306.89,349.06 L306.28,348.94 L305.67,348.8 L305.06,348.67 L304.45,348.52 L303.84,348.37 L303.23,348.21 L302.63,348.04 L302.02,347.85 L301.41,347.66 L300.8,347.46 L300.19,347.28 L299.58,347.09 L298.97,346.91 L298.37,346.73 L297.76,346.55 L297.15,346.37 L296.54,346.19 L295.93,346 L295.32,345.81 L294.71,345.61 L294.11,345.4 L293.5,345.18 L292.89,344.95 L292.28,344.7 L291.67,344.45 L291.06,344.18 L290.45,343.9 L289.85,343.63 L289.24,343.4 L288.63,343.38 L288.02,343.4 L287.41,343.4 L286.8,343.4 L286.2,343.4 L285.59,343.4 L284.98,343.4 L284.37,343.4 L283.76,343.4 L283.15,343.4 L282.54,343.4 L281.94,343.4 L281.33,343.4 L280.72,343.4 L280.11,343.4 L279.5,343.4 L278.89,343.4 L278.28,343.4 L277.68,343.4 L277.07,343.4 L276.46,343.4 L275.85,343.4 L275.24,343.4 L274.63,343.4 L274.02,343.4 L273.42,343.4 L272.81,343.4 L272.2,343.4 L271.59,343.4 L270.98,343.4 L270.37,343.4 L269.77,343.4 L269.16,343.4 L268.55,343.4 L267.94,343.4 L267.33,343.4 L266.72,343.4 L266.11,343.4 L265.51,343.4 L264.9,343.4 L264.29,343.4 L263.68,343.4 L263.07,343.4 L262.46,343.4 L261.85,343.4 L261.25,343.4 L260.64,343.4 L260.03,343.4 L259.42,343.4 L258.81,343.4 L258.2,343.4 L257.59,343.4 L256.99,343.4 L256.38,343.4 L255.77,343.4 L255.16,343.4 L254.55,343.4 L253.94,343.4 L253.33,343.4 L252.73,343.4 L252.12,343.4 L251.51,343.4 L250.9,343.4 L250.29,343.4 L249.68,343.4 L249.08,343.4 L248.47,343.4 L247.86,343.4 L247.25,343.4 L246.64,343.4 L246.03,343.4 L245.42,343.4 L244.82,343.4 L244.21,343.4 L243.6,343.4 L242.99,343.4 L242.38,343.4 L241.77,343.4 L241.16,343.4 L240.56,343.4 L239.95,343.4 L239.34,343.4 L238.73,343.4 L238.12,343.4 L237.51,343.4 L236.9,343.4 L236.3,343.4 L235.69,343.4 L235.08,343.4 L234.47,343.4 L233.86,343.4 L233.25,343.4 L232.64,343.4 L232.04,343.4 L231.43,343.4 L230.82,343.4 L230.21,343.4 L229.6,343.4 L228.99,343.4 L228.39,343.4 L227.78,343.4 L227.17,343.4 L226.56,343.4 L225.95,343.4 L225.34,343.4 L224.73,343.4 L224.13,343.4 L223.52,343.4 L222.91,343.4 L222.3,343.4 Z" fill="#2a9d8f" fill-opacity="0.22"/>
<path d="M222.3,343.4 L222.91,343.4 L223.52,343.4 L224.13,343.4 L224.73,343.4 L225.34,343.4 L225.95,343.4 L226.56,343.4 L227.17,343.4 L227.78,343.4 L228.39,343.4 L228.99,343.4 L229.6,343.4 L230.21,343.4 L230.82,343.4 L231.43,343.4 L232.04,343.4 L232.64,343.4 L233.25,343.4 L233.86,343.4 L234.47,343.4 L235.08,343.4 L235.69,343.4 L236.3,343.4 L236.9,343.4 L237.51,343.4 L238.12,343.4 L238.73,343.4 L239.34,343.4 L239.95,343.4 L240.56,343.4 L241.16,343.4 L241.77,343.4 L242.38,343.4 L242.99,343.4 L243.6,343.4 L244.21,343.4 L244.82,343.4 L245.42,343.4 L246.03,343.4 L246.64,343.4 L247.25,343.4 L247.86,343.4 L248.47,343.4 L249.08,343.4 L249.68,343.4 L250.29,343.4 L250.9,343.4 L251.51,343.4 L252.12,343.4 L252.73,343.4 L253.33,343.4 L253.94,343.4 L254.55,343.4 L255.16,343.4 L255.77,343.4 L256.38,343.4 L256.99,343.4 L257.59,343.4 L258.2,343.4 L258.81,343.4 L259.42,343.4 L260.03,343.4 L260.64,343.4 L261.25,343.4 L261.85,343.4 L262.46,343.4 L263.07,343.4 L263.68,343.4 L264.29,343.4 L264.9,343.4 L265.51,343.4 L266.11,343.4 L266.72,343.4 L267.33,343.4 L267.94,343.4 L268.55,343.4 L269.16,343.4 L269.77,343.4 L270.37,343.4 L270.98,343.4 L271.59,343.4 L272.2,343.4 L272.81,343.4 L273.42,343.4 L274.02,343.4 L274.63,343.4 L275.24,343.4 L275.85,343.4 L276.46,343.4 L277.07,343.4 L277.68,343.4 L278.28,343.4 L278.89,343.4 L279.5,343.4 L280.11,343.4 L280.72,343.4 L281.33,343.4 L281.94,343.4 L282.54,343.4 L283.15,343.4 L283.76,343.4 L284.37,343.4 L284.98,343.4 L285.59,343.4 L286.2,343.4 L286.8,343.4 L287.41,343.4 L288.02,343.4 L288.63,343.38 L289.24,343.33 L289.85,343.17 L290.45,342.98 L291.06,342.78 L291.67,342.54 L292.28,342.27 L292.89,341.97 L293.5,341.65 L294.11,341.3 L294.71,340.93 L295.32,340.54 L295.93,340.14 L296.54,339.72 L297.15,339.28 L297.76,338.84 L298.37,338.39 L298.97,337.93 L299.58,337.46 L300.19,337 L300.8,336.53 L301.41,336.06 L302.02,335.59 L302.63,335.09 L303.23,334.58 L303.84,334.06 L304.45,333.52 L305.06,332.96 L305.67,332.4 L306.28,331.82 L306.89,331.23 L307.49,330.63 L308.1,330.02 L308.71,329.41 L309.32,328.79 L309.93,328.17 L310.54,327.54 L311.14,326.91 L311.75,326.27 L312.36,325.61 L312.97,324.94 L313.58,324.26 L314.19,323.58 L314.8,322.88 L315.4,322.17 L316.01,321.46 L316.62,320.74 L317.23,320.02 L317.84,319.29 L318.45,318.56 L319.06,317.83 L319.66,317.1 L320.27,316.36 L320.88,315.63 L321.49,314.89 L322.1,314.14 L322.71,313.39 L323.32,312.64 L323.92,311.88 L324.53,311.12 L325.14,310.35 L325.75,309.58 L326.36,308.8 L326.97,308.02 L327.58,307.23 L328.18,306.44 L328.79,305.64 L329.4,304.84 L330.01,304.03 L330.62,303.22 L331.23,302.41 L331.83,301.59 L332.44,300.77 L333.05,299.94 L333.66,299.11 L334.27,298.27 L334.88,297.43 L335.49,296.58 L336.09,295.73 L336.7,294.87 L337.31,294.01 L337.92,293.15 L338.53,292.28 L339.14,291.4 L339.75,290.52 L340.35,289.64 L340.96,288.75 L341.57,287.85 L342.18,286.95 L342.79,286.05 L343.4,285.14 L343.4,330.77 L342.79,331 L342.18,331.23 L341.57,331.45 L340.96,331.68 L340.35,331.9 L339.75,332.13 L339.14,332.35 L338.53,332.57 L337.92,332.79 L337.31,333 L336.7,333.22 L336.09,333.44 L335.49,333.65 L334.88,333.87 L334.27,334.08 L333.66,334.29 L333.05,334.5 L332.44,334.71 L331.83,334.92 L331.23,335.13 L330.62,335.34 L330.01,335.55 L329.4,335.75 L328.79,335.96 L328.18,336.16 L327.58,336.37 L326.97,336.57 L326.36,336.77 L325.75,336.97 L325.14,337.17 L324.53,337.36 L323.92,337.56 L323.32,337.76 L322.71,337.95 L322.1,338.14 L321.49,338.34 L320.88,338.53 L320.27,338.72 L319.66,338.91 L319.06,339.11 L318.45,339.3 L317.84,339.5 L317.23,339.7 L316.62,339.9 L316.01,340.1 L315.4,340.29 L314.8,340.48 L314.19,340.67 L313.58,340.85 L312.97,341.03 L312.36,341.2 L311.75,341.36 L311.14,341.52 L310.54,341.66 L309.93,341.81 L309.32,341.95 L308.71,342.09 L308.1,342.24 L307.49,342.38 L306.89,342.51 L306.28,342.64 L305.67,342.77 L305.06,342.88 L304.45,342.99 L303.84,343.09 L303.23,343.18 L302.63,343.25 L302.02,343.31 L301.41,343.36 L300.8,343.41 L300.19,343.46 L299.58,343.52 L298.97,343.57 L298.37,343.63 L297.76,343.68 L297.15,343.73 L296.54,343.78 L295.93,343.81 L295.32,343.84 L294.71,343.86 L294.11,343.86 L293.5,343.86 L292.89,343.83 L292.28,343.79 L291.67,343.73 L291.06,343.65 L290.45,343.56 L289.85,343.46 L289.24,343.37 L288.63,343.38 L288.02,343.4 L287.41,343.4 L286.8,343.4 L286.2,343.4 L285.59,343.4 L284.98,343.4 L284.37,343.4 L283.76,343.4 L283.15,343.4 L282.54,343.4 L281.94,343.4 L281.33,343.4 L280.72,343.4 L280.11,343.4 L279.5,343.4 L278.89,343.4 L278.28,343.4 L277.68,343.4 L277.07,343.4 L276.46,343.4 L275.85,343.4 L275.24,343.4 L274.63,343.4 L274.02,343.4 L273.42,343.4 L272.81,343.4 L272.2,343.4 L271.59,343.4 L270.98,343.4 L270.37,343.4 L269.77,343.4 L269.16,343.4 L268.55,343.4 L267.94,343.4 L267.33,343.4 L266.72,343.4 L266.11,343.4 L265.51,343.4 L264.9,343.4 L264.29,343.4 L263.68,343.4 L263.07,343.4 L262.46,343.4 L261.85,343.4 L261.25,343.4 L260.64,343.4 L260.03,343.4 L259.42,343.4 L258.81,343.4 L258.2,343.4 L257.59,343.4 L256.99,343.4 L256.38,343.4 L255.77,343.4 L255.16,343.4 L254.55,343.4 L253.94,343.4 L253.33,343.4 L252.73,343.4 L252.12,343.4 L251.51,343.4 L250.9,343.4 L250.29,343.4 L249.68,343.4 L249.08,343.4 L248.47,343.4 L247.86,343.4 L247.25,343.4 L246.64,343.4 L246.03,343.4 L245.42,343.4 L244.82,343.4 L244.21,343.4 L243.6,343.4 L242.99,343.4 L242.38,343.4 L241.77,343.4 L241.16,343.4 L240.56,343.4 L239.95,343.4 L239.34,343.4 L238.73,343.4 L238.12,343.4 L237.51,343.4 L236.9,343.4 L236.3,343.4 L235.69,343.4 L235.08,343.4 L234.47,343.4 L233.86,343.4 L233.25,343.4 L232.64,343.4 L232.04,343.4 L231.43,343.4 L230.82,343.4 L230.21,343.4 L229.6,343.4 L228.99,343.4 L228.39,343.4 L227.78,343.4 L227.17,343.4 L226.56,343.4 L225.95,343.4 L225.34,343.4 L224.73,343.4 L224.13,343.4 L223.52,343.4 L222.91,343.4 L222.3,343.4 Z" fill="#2a9d8f" fill-opacity="0.25"/>
<path d="M222.3,343.4 L222.91,343.4 L223.52,343.4 L224.13,343.4 L224.73,343.4 L225.34,343.4 L225.95,343.4 L226.56,343.4 L227.17,343.4 L227.78,343.4 L228.39,343.4 L228.99,343.4 L229.6,343.4 L230.21,343.4 L230.82,343.4 L231.43,343.4 L232.04,343.4 L232.64,343.4 L233.25,343.4 L233.86,343.4 L234.47,343.4 L235.08,343.4 L235.69,343.4 L236.3,343.4 L236.9,343.4 L237.51,343.4 L238.12,343.4 L238.73,343.4 L239.34,343.4 L239.95,343.4 L240.56,343.4 L241.16,343.4 L241.77,343.4 L242.38,343.4 L242.99,343.4 L243.6,343.4 L244.21,343.4 L244.82,343.4 L245.42,343.4 L246.03,343.4 L246.64,343.4 L247.25,343.4 L247.86,343.4 L248.47,343.4 L249.08,343.4 L249.68,343.4 L250.29,343.4 L250.9,343.4 L251.51,343.4 L252.12,343.4 L252.73,343.4 L253.33,343.4 L253.94,343.4 L254.55,343.4 L255.16,343.4 L255.77,343.4 L256.38,343.4 L256.99,343.4 L257.59,343.4 L258.2,343.4 L258.81,343.4 L259.42,343.4 L260.03,343.4 L260.64,343.4 L261.25,343.4 L261.85,343.4 L262.46,343.4 L263.07,343.4 L263.68,343.4 L264.29,343.4 L264.9,343.4 L265.51,343.4 L266.11,343.4 L266.72,343.4 L267.33,343.4 L267.94,343.4 L268.55,343.4 L269.16,343.4 L269.77,343.4 L270.37,343.4 L270.98,343.4 L271.59,343.4 L272.2,343.4 L272.81,343.4 L273.42,343.4 L274.02,343.4 L274.63,343.4 L275.24,343.4 L275.85,343.4 L276.46,343.4 L277.07,343.4 L277.68,343.4 L278.28,343.4 L278.89,343.4 L279.5,343.4 L280.11,343.4 L280.72,343.4 L281.33,343.4 L281.94,343.4 L282.54,343.4 L283.15,343.4 L283.76,343.4 L284.37,343.4 L284.98,343.4 L285.59,343.4 L286.2,343.4 L286.8,343.4 L287.41,343.4 L288.02,343.4 L288.63,343.38 L289.24,343.35 L289.85,343.31 L290.45,343.27 L291.06,343.22 L291.67,343.14 L292.28,343.03 L292.89,342.9 L293.5,342.75 L294.11,342.58 L294.71,342.4 L295.32,342.2 L295.93,341.98 L296.54,341.76 L297.15,341.52 L297.76,341.27 L298.37,341.02 L298.97,340.77 L299.58,340.51 L300.19,340.25 L300.8,339.99 L301.41,339.74 L302.02,339.48 L302.63,339.21 L303.23,338.92 L303.84,338.62 L304.45,338.3 L305.06,337.98 L305.67,337.64 L306.28,337.29 L306.89,336.94 L307.49,336.58 L308.1,336.21 L308.71,335.84 L309.32,335.46 L309.93,335.09 L310.54,334.71 L311.14,334.33 L311.75,333.93 L312.36,333.53 L312.97,333.12 L313.58,332.7 L314.19,332.28 L314.8,331.84 L315.4,331.4 L316.01,330.96 L316.62,330.51 L317.23,330.06 L317.84,329.61 L318.45,329.16 L319.06,328.7 L319.66,328.25 L320.27,327.8 L320.88,327.35 L321.49,326.89 L322.1,326.44 L322.71,325.98 L323.32,325.52 L323.92,325.05 L324.53,324.59 L325.14,324.12 L325.75,323.65 L326.36,323.18 L326.97,322.7 L327.58,322.22 L328.18,321.74 L328.79,321.26 L329.4,320.77 L330.01,320.28 L330.62,319.79 L331.23,319.3 L331.83,318.81 L332.44,318.31 L333.05,317.81 L333.66,317.31 L334.27,316.8 L334.88,316.3 L335.49,315.79 L336.09,315.28 L336.7,314.76 L337.31,314.25 L337.92,313.73 L338.53,313.21 L339.14,312.68 L339.75,312.16 L340.35,311.63 L340.96,311.1 L341.57,310.57 L342.18,310.03 L342.79,309.49 L343.4,308.95" fill="none" stroke="#2b9183" stroke-width="1.15" stroke-opacity="1.0" stroke-linejoin="round"/>
<path d="M222.3,343.4 L222.91,343.4 L223.52,343.4 L224.13,343.4 L224.73,343.4 L225.34,343.4 L225.95,343.4 L226.56,343.4 L227.17,343.4 L227.78,343.4 L228.39,343.4 L228.99,343.4 L229.6,343.4 L230.21,343.4 L230.82,343.4 L231.43,343.4 L232.04,343.4 L232.64,343.4 L233.25,343.4 L233.86,343.4 L234.47,343.4 L235.08,343.4 L235.69,343.4 L236.3,343.4 L236.9,343.4 L237.51,343.4 L238.12,343.4 L238.73,343.4 L239.34,343.4 L239.95,343.4 L240.56,343.4 L241.16,343.4 L241.77,343.4 L242.38,343.4 L242.99,343.4 L243.6,343.4 L244.21,343.4 L244.82,343.4 L245.42,343.4 L246.03,343.4 L246.64,343.4 L247.25,343.4 L247.86,343.4 L248.47,343.4 L249.08,343.4 L249.68,343.4 L250.29,343.4 L250.9,343.4 L251.51,343.4 L252.12,343.4 L252.73,343.4 L253.33,343.4 L253.94,343.4 L254.55,343.4 L255.16,343.4 L255.77,343.4 L256.38,343.4 L256.99,343.4 L257.59,343.4 L258.2,343.4 L258.81,343.4 L259.42,343.4 L260.03,343.4 L260.64,343.4 L261.25,343.4 L261.85,343.4 L262.46,343.4 L263.07,343.4 L263.68,343.4 L264.29,343.4 L264.9,343.4 L265.51,343.4 L266.11,343.4 L266.72,343.4 L267.33,343.4 L267.94,343.4 L268.55,343.4 L269.16,343.4 L269.77,343.4 L270.37,343.4 L270.98,343.4 L271.59,343.4 L272.2,343.4 L272.81,343.4 L273.42,343.4 L274.02,343.4 L274.63,343.4 L275.24,343.4 L275.85,343.4 L276.46,343.4 L277.07,343.4 L277.68,343.4 L278.28,343.4 L278.89,343.4 L279.5,343.4 L280.11,343.4 L280.72,343.4 L281.33,343.4 L281.94,343.4 L282.54,343.4 L283.15,343.4 L283.76,343.4 L284.37,343.4 L284.98,343.4 L285.59,343.4 L286.2,343.4 L286.8,343.4 L287.41,343.4 L288.02,343.4 L288.63,343.4 L289.24,343.4 L289.85,343.4 L290.45,343.4 L291.06,343.4 L291.67,343.4 L292.28,343.41 L292.89,343.42 L293.5,343.45 L294.11,343.47 L294.71,343.5 L295.32,343.53 L295.93,343.57 L296.54,343.6 L297.15,343.64 L297.76,343.67 L298.37,343.71 L298.97,343.75 L299.58,343.79 L300.19,343.83 L300.8,343.88 L301.41,343.92 L302.02,343.96 L302.63,344.01 L303.23,344.05 L303.84,344.1 L304.45,344.15 L305.06,344.19 L305.67,344.24 L306.28,344.29 L306.89,344.34 L307.49,344.39 L308.1,344.44 L308.71,344.49 L309.32,344.55 L309.93,344.6 L310.54,344.65 L311.14,344.71 L311.75,344.76 L312.36,344.81 L312.97,344.87 L313.58,344.92 L314.19,344.98 L314.8,345.04 L315.4,345.09 L316.01,345.15 L316.62,345.21 L317.23,345.27 L317.84,345.32 L318.45,345.38 L319.06,345.44 L319.66,345.5 L320.27,345.56 L320.88,345.62 L321.49,345.68 L322.1,345.74 L322.71,345.81 L323.32,345.87 L323.92,345.93 L324.53,345.99 L325.14,346.06 L325.75,346.12 L326.36,346.18 L326.97,346.25 L327.58,346.31 L328.18,346.37 L328.79,346.44 L329.4,346.5 L330.01,346.57 L330.62,346.64 L331.23,346.7 L331.83,346.77 L332.44,346.83 L333.05,346.9 L333.66,346.97 L334.27,347.04 L334.88,347.1 L335.49,347.17 L336.09,347.24 L336.7,347.31 L337.31,347.38 L337.92,347.45 L338.53,347.51 L339.14,347.58 L339.75,347.65 L340.35,347.72 L340.96,347.79 L341.57,347.86 L342.18,347.93 L342.79,348.01 L343.4,348.08" fill="none" stroke="#d2505e" stroke-width="1.2" stroke-opacity="1.0" stroke-linejoin="round"/>
<line x1="217.3" y1="343.4" x2="347.4" y2="343.4" stroke="#606060" stroke-width="1.2" stroke-opacity="0.5"/>
<path d="M298.3,345.74 L309.5,356.94 M298.3,356.94 L309.5,345.74" stroke="#e35d6a" stroke-width="2.4" fill="none"/>
<path d="M288,381.48 L293.2,386.68 M288,386.68 L293.2,381.48" stroke="#e35d6a" stroke-width="2.2" fill="none"/>
</g></g>
<rect x="217.3" y="246" width="130.1" height="145.4" fill="none" stroke="#5a5a5a" stroke-width="1"/>
<line x1="40.3" y1="385.04" x2="44.8" y2="385.04" stroke="#5a5a5a" stroke-width="1"/>
<text x="14.97" y="388.45" font-size="8.4" textLength="20.03" lengthAdjust="spacingAndGlyphs" fill="#1c1c1c" stroke="#1c1c1c" stroke-width="0.24">−0.2</text>
<line x1="40.3" y1="360.27" x2="44.8" y2="360.27" stroke="#5a5a5a" stroke-width="1"/>
<text x="14.97" y="363.68" font-size="8.4" textLength="20.03" lengthAdjust="spacingAndGlyphs" fill="#1c1c1c" stroke="#1c1c1c" stroke-width="0.24">−0.1</text>
<line x1="40.3" y1="335.5" x2="44.8" y2="335.5" stroke="#5a5a5a" stroke-width="1"/>
<text x="21.88" y="338.91" font-size="8.4" textLength="13.12" lengthAdjust="spacingAndGlyphs" fill="#1c1c1c" stroke="#1c1c1c" stroke-width="0.24">0.0</text>
<line x1="40.3" y1="310.73" x2="44.8" y2="310.73" stroke="#5a5a5a" stroke-width="1"/>
<text x="21.88" y="314.14" font-size="8.4" textLength="13.12" lengthAdjust="spacingAndGlyphs" fill="#1c1c1c" stroke="#1c1c1c" stroke-width="0.24">0.1</text>
<line x1="40.3" y1="285.96" x2="44.8" y2="285.96" stroke="#5a5a5a" stroke-width="1"/>
<text x="21.88" y="289.37" font-size="8.4" textLength="13.12" lengthAdjust="spacingAndGlyphs" fill="#1c1c1c" stroke="#1c1c1c" stroke-width="0.24">0.2</text>
<line x1="40.3" y1="261.19" x2="44.8" y2="261.19" stroke="#5a5a5a" stroke-width="1"/>
<text x="21.88" y="264.6" font-size="8.4" textLength="13.12" lengthAdjust="spacingAndGlyphs" fill="#1c1c1c" stroke="#1c1c1c" stroke-width="0.24">0.3</text>
<line x1="45.2" y1="391.1" x2="45.2" y2="386.6" stroke="#5a5a5a" stroke-width="1"/>
<text x="42.58" y="402.11" font-size="8.4" textLength="5.25" lengthAdjust="spacingAndGlyphs" fill="#1c1c1c" stroke="#1c1c1c" stroke-width="0.24">0</text>
<line x1="74.24" y1="391.1" x2="74.24" y2="386.6" stroke="#5a5a5a" stroke-width="1"/>
<text x="68.99" y="402.11" font-size="8.4" textLength="10.5" lengthAdjust="spacingAndGlyphs" fill="#1c1c1c" stroke="#1c1c1c" stroke-width="0.24">20</text>
<line x1="103.28" y1="391.1" x2="103.28" y2="386.6" stroke="#5a5a5a" stroke-width="1"/>
<text x="98.03" y="402.11" font-size="8.4" textLength="10.5" lengthAdjust="spacingAndGlyphs" fill="#1c1c1c" stroke="#1c1c1c" stroke-width="0.24">40</text>
<line x1="132.32" y1="391.1" x2="132.32" y2="386.6" stroke="#5a5a5a" stroke-width="1"/>
<text x="127.07" y="402.11" font-size="8.4" textLength="10.5" lengthAdjust="spacingAndGlyphs" fill="#1c1c1c" stroke="#1c1c1c" stroke-width="0.24">60</text>
<line x1="161.36" y1="391.1" x2="161.36" y2="386.6" stroke="#5a5a5a" stroke-width="1"/>
<text x="156.11" y="402.11" font-size="8.4" textLength="10.5" lengthAdjust="spacingAndGlyphs" fill="#1c1c1c" stroke="#1c1c1c" stroke-width="0.24">80</text>
<text x="66.78" y="415.61" font-size="8.4" textLength="77.34" lengthAdjust="spacingAndGlyphs" fill="#1c1c1c" stroke="#1c1c1c" stroke-width="0.24">Railway Noise (dB)</text>
<g transform="translate(5.4,318.45) rotate(-90)"><text x="-16.32" y="3.01" font-size="8.4" textLength="32.64" lengthAdjust="spacingAndGlyphs" fill="#1c1c1c" stroke="#1c1c1c" stroke-width="0.24">Log(RR)</text></g>
<line x1="217.3" y1="388.9" x2="221.8" y2="388.9" stroke="#5a5a5a" stroke-width="1"/>
<text x="198.88" y="392.31" font-size="8.4" textLength="13.12" lengthAdjust="spacingAndGlyphs" fill="#1c1c1c" stroke="#1c1c1c" stroke-width="0.24">0.8</text>
<line x1="217.3" y1="366.15" x2="221.8" y2="366.15" stroke="#5a5a5a" stroke-width="1"/>
<text x="198.88" y="369.56" font-size="8.4" textLength="13.12" lengthAdjust="spacingAndGlyphs" fill="#1c1c1c" stroke="#1c1c1c" stroke-width="0.24">0.9</text>
<line x1="217.3" y1="343.4" x2="221.8" y2="343.4" stroke="#5a5a5a" stroke-width="1"/>
<text x="198.88" y="346.81" font-size="8.4" textLength="13.12" lengthAdjust="spacingAndGlyphs" fill="#1c1c1c" stroke="#1c1c1c" stroke-width="0.24">1.0</text>
<line x1="217.3" y1="320.65" x2="221.8" y2="320.65" stroke="#5a5a5a" stroke-width="1"/>
<text x="198.88" y="324.06" font-size="8.4" textLength="13.12" lengthAdjust="spacingAndGlyphs" fill="#1c1c1c" stroke="#1c1c1c" stroke-width="0.24">1.1</text>
<line x1="217.3" y1="297.9" x2="221.8" y2="297.9" stroke="#5a5a5a" stroke-width="1"/>
<text x="198.88" y="301.31" font-size="8.4" textLength="13.12" lengthAdjust="spacingAndGlyphs" fill="#1c1c1c" stroke="#1c1c1c" stroke-width="0.24">1.2</text>
<line x1="217.3" y1="275.15" x2="221.8" y2="275.15" stroke="#5a5a5a" stroke-width="1"/>
<text x="198.88" y="278.56" font-size="8.4" textLength="13.12" lengthAdjust="spacingAndGlyphs" fill="#1c1c1c" stroke="#1c1c1c" stroke-width="0.24">1.3</text>
<line x1="217.3" y1="252.4" x2="221.8" y2="252.4" stroke="#5a5a5a" stroke-width="1"/>
<text x="198.88" y="255.81" font-size="8.4" textLength="13.12" lengthAdjust="spacingAndGlyphs" fill="#1c1c1c" stroke="#1c1c1c" stroke-width="0.24">1.4</text>
<line x1="222.3" y1="391.4" x2="222.3" y2="386.9" stroke="#5a5a5a" stroke-width="1"/>
<text x="219.68" y="402.41" font-size="8.4" textLength="5.25" lengthAdjust="spacingAndGlyphs" fill="#1c1c1c" stroke="#1c1c1c" stroke-width="0.24">0</text>
<line x1="251.34" y1="391.4" x2="251.34" y2="386.9" stroke="#5a5a5a" stroke-width="1"/>
<text x="246.09" y="402.41" font-size="8.4" textLength="10.5" lengthAdjust="spacingAndGlyphs" fill="#1c1c1c" stroke="#1c1c1c" stroke-width="0.24">20</text>
<line x1="280.38" y1="391.4" x2="280.38" y2="386.9" stroke="#5a5a5a" stroke-width="1"/>
<text x="275.13" y="402.41" font-size="8.4" textLength="10.5" lengthAdjust="spacingAndGlyphs" fill="#1c1c1c" stroke="#1c1c1c" stroke-width="0.24">40</text>
<line x1="309.42" y1="391.4" x2="309.42" y2="386.9" stroke="#5a5a5a" stroke-width="1"/>
<text x="304.17" y="402.41" font-size="8.4" textLength="10.5" lengthAdjust="spacingAndGlyphs" fill="#1c1c1c" stroke="#1c1c1c" stroke-width="0.24">60</text>
<line x1="338.46" y1="391.4" x2="338.46" y2="386.9" stroke="#5a5a5a" stroke-width="1"/>
<text x="333.21" y="402.41" font-size="8.4" textLength="10.5" lengthAdjust="spacingAndGlyphs" fill="#1c1c1c" stroke="#1c1c1c" stroke-width="0.24">80</text>
<text x="243.68" y="415.91" font-size="8.4" textLength="77.34" lengthAdjust="spacingAndGlyphs" fill="#1c1c1c" stroke="#1c1c1c" stroke-width="0.24">Railway Noise (dB)</text>
<g transform="translate(190.3,318.7) rotate(-90)"><text x="-5.73" y="3.01" font-size="8.4" textLength="11.46" lengthAdjust="spacingAndGlyphs" fill="#1c1c1c" stroke="#1c1c1c" stroke-width="0.24">RR</text></g>
<clipPath id="fB"><rect x="394.6" y="246" width="129.5" height="145.2"/></clipPath><g clip-path="url(#fB)">
<circle cx="457.5" cy="255.4" r="2.2" fill="#808080" fill-opacity="0.42"/>
<circle cx="460.3" cy="257.7" r="2.2" fill="#808080" fill-opacity="0.42"/>
<circle cx="455.2" cy="258.2" r="2.2" fill="#808080" fill-opacity="0.42"/>
<circle cx="459.9" cy="266.6" r="2.2" fill="#808080" fill-opacity="0.42"/>
<circle cx="465.3" cy="277.8" r="2.2" fill="#808080" fill-opacity="0.42"/>
<circle cx="469" cy="295.8" r="2.2" fill="#808080" fill-opacity="0.42"/>
<circle cx="453.4" cy="314.9" r="2.2" fill="#808080" fill-opacity="0.42"/>
<circle cx="476.3" cy="326.7" r="2.2" fill="#808080" fill-opacity="0.42"/>
<circle cx="476.3" cy="348.2" r="2.2" fill="#808080" fill-opacity="0.42"/>
<circle cx="452.3" cy="354.7" r="2.2" fill="#808080" fill-opacity="0.42"/>
<circle cx="454" cy="356.9" r="2.2" fill="#808080" fill-opacity="0.42"/>
<circle cx="429.9" cy="377.7" r="2.2" fill="#808080" fill-opacity="0.42"/>
<path d="M448.6,258 L452.8,262.2 M448.6,262.2 L452.8,258" stroke="#e35d6a" stroke-width="2.3" fill="none"/>
<path d="M430.9,332.3 L435.1,336.5 M430.9,336.5 L435.1,332.3" stroke="#e35d6a" stroke-width="2.3" fill="none"/>
<path d="M459.5,245.5 L395.13,403.56 L523.87,403.56 Z" fill="#9edede" fill-opacity="0.4"/>
<line x1="459.5" y1="246" x2="459.5" y2="391.2" stroke="#8a8a8a" stroke-width="0.8" stroke-dasharray="2.5,1.2" stroke-opacity="0.7"/>
</g>
<rect x="394.6" y="246" width="129.5" height="145.2" fill="none" stroke="#5a5a5a" stroke-width="1"/>
<line x1="394.6" y1="245.5" x2="399.1" y2="245.5" stroke="#5a5a5a" stroke-width="1"/>
<text x="370.93" y="248.91" font-size="8.4" textLength="18.37" lengthAdjust="spacingAndGlyphs" fill="#1c1c1c" stroke="#1c1c1c" stroke-width="0.24">0.00</text>
<line x1="394.6" y1="276.4" x2="399.1" y2="276.4" stroke="#5a5a5a" stroke-width="1"/>
<text x="370.93" y="279.81" font-size="8.4" textLength="18.37" lengthAdjust="spacingAndGlyphs" fill="#1c1c1c" stroke="#1c1c1c" stroke-width="0.24">0.05</text>
<line x1="394.6" y1="307.3" x2="399.1" y2="307.3" stroke="#5a5a5a" stroke-width="1"/>
<text x="370.93" y="310.71" font-size="8.4" textLength="18.37" lengthAdjust="spacingAndGlyphs" fill="#1c1c1c" stroke="#1c1c1c" stroke-width="0.24">0.10</text>
<line x1="394.6" y1="338.2" x2="399.1" y2="338.2" stroke="#5a5a5a" stroke-width="1"/>
<text x="370.93" y="341.61" font-size="8.4" textLength="18.37" lengthAdjust="spacingAndGlyphs" fill="#1c1c1c" stroke="#1c1c1c" stroke-width="0.24">0.15</text>
<line x1="394.6" y1="369.1" x2="399.1" y2="369.1" stroke="#5a5a5a" stroke-width="1"/>
<text x="370.93" y="372.51" font-size="8.4" textLength="18.37" lengthAdjust="spacingAndGlyphs" fill="#1c1c1c" stroke="#1c1c1c" stroke-width="0.24">0.20</text>
<line x1="395.3" y1="391.2" x2="395.3" y2="386.7" stroke="#5a5a5a" stroke-width="1"/>
<text x="382.66" y="402.21" font-size="8.4" textLength="25.28" lengthAdjust="spacingAndGlyphs" fill="#1c1c1c" stroke="#1c1c1c" stroke-width="0.24">−0.50</text>
<line x1="427.4" y1="391.2" x2="427.4" y2="386.7" stroke="#5a5a5a" stroke-width="1"/>
<text x="414.76" y="402.21" font-size="8.4" textLength="25.28" lengthAdjust="spacingAndGlyphs" fill="#1c1c1c" stroke="#1c1c1c" stroke-width="0.24">−0.25</text>
<line x1="459.5" y1="391.2" x2="459.5" y2="386.7" stroke="#5a5a5a" stroke-width="1"/>
<text x="450.32" y="402.21" font-size="8.4" textLength="18.37" lengthAdjust="spacingAndGlyphs" fill="#1c1c1c" stroke="#1c1c1c" stroke-width="0.24">0.00</text>
<line x1="491.6" y1="391.2" x2="491.6" y2="386.7" stroke="#5a5a5a" stroke-width="1"/>
<text x="482.42" y="402.21" font-size="8.4" textLength="18.37" lengthAdjust="spacingAndGlyphs" fill="#1c1c1c" stroke="#1c1c1c" stroke-width="0.24">0.25</text>
<line x1="523.7" y1="391.2" x2="523.7" y2="386.7" stroke="#5a5a5a" stroke-width="1"/>
<text x="514.52" y="402.21" font-size="8.4" textLength="18.37" lengthAdjust="spacingAndGlyphs" fill="#1c1c1c" stroke="#1c1c1c" stroke-width="0.24">0.50</text>
<text x="441.93" y="415.71" font-size="8.4" textLength="34.84" lengthAdjust="spacingAndGlyphs" fill="#1c1c1c" stroke="#1c1c1c" stroke-width="0.24">Residual</text>
<g transform="translate(361,318.6) rotate(-90)"><text x="-61.09" y="3.01" font-size="8.4" textLength="122.17" lengthAdjust="spacingAndGlyphs" fill="#1c1c1c" stroke="#1c1c1c" stroke-width="0.24">Standard error of the residual</text></g>
<rect x="530.8" y="254.3" width="21" height="4.4" fill="#2a9d8f" fill-opacity="0.22"/>
<text x="556.6" y="259.51" font-size="8.4" textLength="110.08" lengthAdjust="spacingAndGlyphs" fill="#1c1c1c" stroke="#1c1c1c" stroke-width="0.24">95% UI with heterogeneity</text>
<rect x="530.8" y="266.38" width="21" height="4.4" fill="#2a9d8f" fill-opacity="0.42"/>
<text x="556.6" y="271.59" font-size="8.4" textLength="123.59" lengthAdjust="spacingAndGlyphs" fill="#1c1c1c" stroke="#1c1c1c" stroke-width="0.24">95% UI without heterogeneity</text>
<line x1="532.8" y1="280.66" x2="549.8" y2="280.66" stroke="#2a9d8f" stroke-width="0.9" stroke-opacity="0.85"/>
<text x="556.6" y="283.67" font-size="8.4" textLength="36.57" lengthAdjust="spacingAndGlyphs" fill="#1c1c1c" stroke="#1c1c1c" stroke-width="0.24">Mean RR</text>
<line x1="532.8" y1="292.74" x2="549.8" y2="292.74" stroke="#f2909a" stroke-width="1.7"/>
<text x="556.6" y="295.75" font-size="8.4" textLength="118.02" lengthAdjust="spacingAndGlyphs" fill="#1c1c1c" stroke="#1c1c1c" stroke-width="0.24">Burden of proof risk function</text>
<circle cx="541.3" cy="304.82" r="2.7" fill="#808080" fill-opacity="0.5"/>
<text x="556.6" y="307.83" font-size="8.4" textLength="47.66" lengthAdjust="spacingAndGlyphs" fill="#1c1c1c" stroke="#1c1c1c" stroke-width="0.24">Data points</text>
<path d="M538.5,314.1 L544.1,319.7 M538.5,319.7 L544.1,314.1" stroke="#e35d6a" stroke-width="1.5" fill="none"/>
<text x="556.6" y="319.91" font-size="8.4" textLength="85.06" lengthAdjust="spacingAndGlyphs" fill="#1c1c1c" stroke="#1c1c1c" stroke-width="0.24">Trimmed data points</text>
<line x1="532.8" y1="328.98" x2="549.8" y2="328.98" stroke="#a4a4a4" stroke-width="0.85" stroke-dasharray="2.4,1.25"/>
<text x="556.6" y="331.99" font-size="8.4" textLength="65.04" lengthAdjust="spacingAndGlyphs" fill="#1c1c1c" stroke="#1c1c1c" stroke-width="0.24">Score boundary</text>
<g>
<clipPath id="cC0"><rect x="41.3" y="470.6" width="134.2" height="145.9"/></clipPath><g clip-path="url(#cC0)">
<line x1="84.4" y1="470.6" x2="84.4" y2="616.5" stroke="#a4a4a4" stroke-width="0.85" stroke-dasharray="2.4,1.25"/>
<line x1="149.3" y1="470.6" x2="149.3" y2="616.5" stroke="#a4a4a4" stroke-width="0.85" stroke-dasharray="2.4,1.25"/>
<circle cx="138.5" cy="541.3" r="2.5" fill="#808080" fill-opacity="0.5"/>
<circle cx="163.3" cy="528.1" r="1.5" fill="#808080" fill-opacity="0.5"/>
<circle cx="129.4" cy="565.5" r="5.7" fill="#808080" fill-opacity="0.5"/>
<circle cx="137.5" cy="569.4" r="5" fill="#808080" fill-opacity="0.5"/>
<circle cx="146.1" cy="567.1" r="5" fill="#808080" fill-opacity="0.5"/>
<circle cx="127.8" cy="578" r="6.5" fill="#808080" fill-opacity="0.5"/>
<circle cx="129.8" cy="583.5" r="2.8" fill="#808080" fill-opacity="0.5"/>
<circle cx="138.6" cy="597.1" r="2.5" fill="#808080" fill-opacity="0.5"/>
<circle cx="148.1" cy="609" r="1.2" fill="#808080" fill-opacity="0.5"/>
<circle cx="154.8" cy="597" r="3.6" fill="#808080" fill-opacity="0.5"/>
<path d="M46.7,575.2 L47.31,575.2 L47.92,575.2 L48.53,575.2 L49.14,575.2 L49.75,575.2 L50.37,575.2 L50.98,575.2 L51.59,575.2 L52.2,575.2 L52.81,575.2 L53.42,575.2 L54.03,575.2 L54.64,575.2 L55.25,575.2 L55.86,575.2 L56.47,575.2 L57.09,575.2 L57.7,575.2 L58.31,575.2 L58.92,575.2 L59.53,575.2 L60.14,575.2 L60.75,575.2 L61.36,575.2 L61.97,575.2 L62.58,575.2 L63.19,575.2 L63.81,575.2 L64.42,575.2 L65.03,575.2 L65.64,575.2 L66.25,575.2 L66.86,575.2 L67.47,575.2 L68.08,575.2 L68.69,575.2 L69.3,575.2 L69.91,575.2 L70.53,575.2 L71.14,575.2 L71.75,575.2 L72.36,575.2 L72.97,575.2 L73.58,575.2 L74.19,575.2 L74.8,575.2 L75.41,575.2 L76.02,575.2 L76.63,575.2 L77.25,575.2 L77.86,575.2 L78.47,575.2 L79.08,575.2 L79.69,575.2 L80.3,575.2 L80.91,575.2 L81.52,575.2 L82.13,575.2 L82.74,575.2 L83.35,575.2 L83.97,575.2 L84.58,575.2 L85.19,575.2 L85.8,575.2 L86.41,575.2 L87.02,575.2 L87.63,575.2 L88.24,575.2 L88.85,575.2 L89.46,575.2 L90.07,575.2 L90.68,575.2 L91.3,575.2 L91.91,575.2 L92.52,575.2 L93.13,575.2 L93.74,575.2 L94.35,575.2 L94.96,575.2 L95.57,575.2 L96.18,575.2 L96.79,575.17 L97.4,575.13 L98.02,575.08 L98.63,575.02 L99.24,574.94 L99.85,574.86 L100.46,574.77 L101.07,574.66 L101.68,574.55 L102.29,574.43 L102.9,574.3 L103.51,574.17 L104.12,574.02 L104.74,573.87 L105.35,573.71 L105.96,573.54 L106.57,573.36 L107.18,573.18 L107.79,572.99 L108.4,572.79 L109.01,572.59 L109.62,572.38 L110.23,572.17 L110.84,571.94 L111.46,571.71 L112.07,571.48 L112.68,571.24 L113.29,570.99 L113.9,570.74 L114.51,570.49 L115.12,570.22 L115.73,569.95 L116.34,569.67 L116.95,569.38 L117.56,569.09 L118.18,568.78 L118.79,568.46 L119.4,568.14 L120.01,567.8 L120.62,567.46 L121.23,567.11 L121.84,566.75 L122.45,566.38 L123.06,566.01 L123.67,565.63 L124.28,565.23 L124.9,564.84 L125.51,564.43 L126.12,564.02 L126.73,563.6 L127.34,563.17 L127.95,562.74 L128.56,562.3 L129.17,561.86 L129.78,561.4 L130.39,560.95 L131,560.48 L131.62,560.01 L132.23,559.54 L132.84,559.06 L133.45,558.57 L134.06,558.08 L134.67,557.58 L135.28,557.08 L135.89,556.56 L136.5,556.03 L137.11,555.49 L137.72,554.95 L138.34,554.39 L138.95,553.82 L139.56,553.25 L140.17,552.67 L140.78,552.08 L141.39,551.48 L142,550.87 L142.61,550.26 L143.22,549.64 L143.83,549.01 L144.44,548.38 L145.06,547.74 L145.67,547.09 L146.28,546.44 L146.89,545.78 L147.5,545.12 L148.11,544.46 L148.72,543.79 L149.33,543.11 L149.94,542.43 L150.55,541.74 L151.16,541.05 L151.78,540.34 L152.39,539.63 L153,538.91 L153.61,538.19 L154.22,537.46 L154.83,536.72 L155.44,535.97 L156.05,535.22 L156.66,534.46 L157.27,533.7 L157.88,532.93 L158.5,532.15 L159.11,531.37 L159.72,530.59 L160.33,529.8 L160.94,529 L161.55,528.2 L162.16,527.4 L162.77,526.59 L163.38,525.78 L163.99,524.97 L164.6,524.15 L165.22,523.32 L165.83,522.49 L166.44,521.65 L167.05,520.81 L167.66,519.96 L168.27,519.1 L168.27,587.1 L167.66,586.92 L167.05,586.75 L166.44,586.57 L165.83,586.4 L165.22,586.23 L164.6,586.05 L163.99,585.88 L163.38,585.71 L162.77,585.54 L162.16,585.38 L161.55,585.22 L160.94,585.07 L160.33,584.91 L159.72,584.76 L159.11,584.61 L158.5,584.47 L157.88,584.32 L157.27,584.18 L156.66,584.04 L156.05,583.9 L155.44,583.76 L154.83,583.62 L154.22,583.49 L153.61,583.35 L153,583.21 L152.39,583.08 L151.78,582.94 L151.16,582.81 L150.55,582.68 L149.94,582.54 L149.33,582.4 L148.72,582.27 L148.11,582.14 L147.5,582.01 L146.89,581.88 L146.28,581.76 L145.67,581.64 L145.06,581.52 L144.44,581.4 L143.83,581.29 L143.22,581.18 L142.61,581.06 L142,580.95 L141.39,580.84 L140.78,580.73 L140.17,580.62 L139.56,580.5 L138.95,580.39 L138.34,580.28 L137.72,580.16 L137.11,580.05 L136.5,579.93 L135.89,579.81 L135.28,579.69 L134.67,579.56 L134.06,579.43 L133.45,579.31 L132.84,579.19 L132.23,579.07 L131.62,578.95 L131,578.84 L130.39,578.73 L129.78,578.62 L129.17,578.51 L128.56,578.41 L127.95,578.3 L127.34,578.2 L126.73,578.1 L126.12,578 L125.51,577.9 L124.9,577.81 L124.28,577.71 L123.67,577.62 L123.06,577.53 L122.45,577.44 L121.84,577.35 L121.23,577.26 L120.62,577.17 L120.01,577.08 L119.4,576.99 L118.79,576.9 L118.18,576.81 L117.56,576.72 L116.95,576.63 L116.34,576.54 L115.73,576.45 L115.12,576.36 L114.51,576.27 L113.9,576.18 L113.29,576.1 L112.68,576.02 L112.07,575.95 L111.46,575.88 L110.84,575.81 L110.23,575.75 L109.62,575.69 L109.01,575.64 L108.4,575.58 L107.79,575.53 L107.18,575.49 L106.57,575.45 L105.96,575.41 L105.35,575.37 L104.74,575.34 L104.12,575.31 L103.51,575.28 L102.9,575.25 L102.29,575.23 L101.68,575.21 L101.07,575.2 L100.46,575.19 L99.85,575.18 L99.24,575.17 L98.63,575.17 L98.02,575.17 L97.4,575.18 L96.79,575.18 L96.18,575.2 L95.57,575.2 L94.96,575.2 L94.35,575.2 L93.74,575.2 L93.13,575.2 L92.52,575.2 L91.91,575.2 L91.3,575.2 L90.68,575.2 L90.07,575.2 L89.46,575.2 L88.85,575.2 L88.24,575.2 L87.63,575.2 L87.02,575.2 L86.41,575.2 L85.8,575.2 L85.19,575.2 L84.58,575.2 L83.97,575.2 L83.35,575.2 L82.74,575.2 L82.13,575.2 L81.52,575.2 L80.91,575.2 L80.3,575.2 L79.69,575.2 L79.08,575.2 L78.47,575.2 L77.86,575.2 L77.25,575.2 L76.63,575.2 L76.02,575.2 L75.41,575.2 L74.8,575.2 L74.19,575.2 L73.58,575.2 L72.97,575.2 L72.36,575.2 L71.75,575.2 L71.14,575.2 L70.53,575.2 L69.91,575.2 L69.3,575.2 L68.69,575.2 L68.08,575.2 L67.47,575.2 L66.86,575.2 L66.25,575.2 L65.64,575.2 L65.03,575.2 L64.42,575.2 L63.81,575.2 L63.19,575.2 L62.58,575.2 L61.97,575.2 L61.36,575.2 L60.75,575.2 L60.14,575.2 L59.53,575.2 L58.92,575.2 L58.31,575.2 L57.7,575.2 L57.09,575.2 L56.47,575.2 L55.86,575.2 L55.25,575.2 L54.64,575.2 L54.03,575.2 L53.42,575.2 L52.81,575.2 L52.2,575.2 L51.59,575.2 L50.98,575.2 L50.37,575.2 L49.75,575.2 L49.14,575.2 L48.53,575.2 L47.92,575.2 L47.31,575.2 L46.7,575.2 Z" fill="#2a9d8f" fill-opacity="0.22"/>
<path d="M46.7,575.2 L47.31,575.2 L47.92,575.2 L48.53,575.2 L49.14,575.2 L49.75,575.2 L50.37,575.2 L50.98,575.2 L51.59,575.2 L52.2,575.2 L52.81,575.2 L53.42,575.2 L54.03,575.2 L54.64,575.2 L55.25,575.2 L55.86,575.2 L56.47,575.2 L57.09,575.2 L57.7,575.2 L58.31,575.2 L58.92,575.2 L59.53,575.2 L60.14,575.2 L60.75,575.2 L61.36,575.2 L61.97,575.2 L62.58,575.2 L63.19,575.2 L63.81,575.2 L64.42,575.2 L65.03,575.2 L65.64,575.2 L66.25,575.2 L66.86,575.2 L67.47,575.2 L68.08,575.2 L68.69,575.2 L69.3,575.2 L69.91,575.2 L70.53,575.2 L71.14,575.2 L71.75,575.2 L72.36,575.2 L72.97,575.2 L73.58,575.2 L74.19,575.2 L74.8,575.2 L75.41,575.2 L76.02,575.2 L76.63,575.2 L77.25,575.2 L77.86,575.2 L78.47,575.2 L79.08,575.2 L79.69,575.2 L80.3,575.2 L80.91,575.2 L81.52,575.2 L82.13,575.2 L82.74,575.2 L83.35,575.2 L83.97,575.2 L84.58,575.2 L85.19,575.2 L85.8,575.2 L86.41,575.2 L87.02,575.2 L87.63,575.2 L88.24,575.2 L88.85,575.2 L89.46,575.2 L90.07,575.2 L90.68,575.2 L91.3,575.2 L91.91,575.2 L92.52,575.2 L93.13,575.2 L93.74,575.2 L94.35,575.2 L94.96,575.2 L95.57,575.2 L96.18,575.2 L96.79,575.18 L97.4,575.14 L98.02,575.1 L98.63,575.05 L99.24,575 L99.85,574.94 L100.46,574.87 L101.07,574.8 L101.68,574.72 L102.29,574.63 L102.9,574.54 L103.51,574.45 L104.12,574.34 L104.74,574.24 L105.35,574.13 L105.96,574.01 L106.57,573.89 L107.18,573.76 L107.79,573.63 L108.4,573.5 L109.01,573.36 L109.62,573.22 L110.23,573.07 L110.84,572.92 L111.46,572.76 L112.07,572.61 L112.68,572.45 L113.29,572.28 L113.9,572.11 L114.51,571.94 L115.12,571.77 L115.73,571.59 L116.34,571.4 L116.95,571.21 L117.56,571.01 L118.18,570.8 L118.79,570.59 L119.4,570.37 L120.01,570.14 L120.62,569.91 L121.23,569.67 L121.84,569.42 L122.45,569.17 L123.06,568.91 L123.67,568.65 L124.28,568.38 L124.9,568.11 L125.51,567.83 L126.12,567.54 L126.73,567.25 L127.34,566.96 L127.95,566.66 L128.56,566.36 L129.17,566.05 L129.78,565.74 L130.39,565.43 L131,565.11 L131.62,564.79 L132.23,564.46 L132.84,564.13 L133.45,563.8 L134.06,563.46 L134.67,563.12 L135.28,562.77 L135.89,562.42 L136.5,562.05 L137.11,561.68 L137.72,561.3 L138.34,560.91 L138.95,560.52 L139.56,560.12 L140.17,559.71 L140.78,559.3 L141.39,558.88 L142,558.45 L142.61,558.02 L143.22,557.58 L143.83,557.14 L144.44,556.7 L145.06,556.25 L145.67,555.8 L146.28,555.34 L146.89,554.88 L147.5,554.42 L148.11,553.95 L148.72,553.49 L149.33,553.02 L149.94,552.54 L150.55,552.06 L151.16,551.57 L151.78,551.08 L152.39,550.58 L153,550.08 L153.61,549.57 L154.22,549.05 L154.83,548.54 L155.44,548.01 L156.05,547.49 L156.66,546.95 L157.27,546.42 L157.88,545.88 L158.5,545.33 L159.11,544.79 L159.72,544.24 L160.33,543.69 L160.94,543.13 L161.55,542.57 L162.16,542.01 L162.77,541.45 L163.38,540.88 L163.99,540.32 L164.6,539.75 L165.22,539.18 L165.83,538.6 L166.44,538.01 L167.05,537.42 L167.66,536.83 L168.27,536.24 L168.27,569.96 L167.66,570.05 L167.05,570.13 L166.44,570.21 L165.83,570.3 L165.22,570.38 L164.6,570.45 L163.99,570.53 L163.38,570.61 L162.77,570.69 L162.16,570.77 L161.55,570.85 L160.94,570.94 L160.33,571.02 L159.72,571.11 L159.11,571.2 L158.5,571.28 L157.88,571.37 L157.27,571.46 L156.66,571.54 L156.05,571.63 L155.44,571.72 L154.83,571.8 L154.22,571.89 L153.61,571.97 L153,572.05 L152.39,572.13 L151.78,572.21 L151.16,572.29 L150.55,572.36 L149.94,572.43 L149.33,572.5 L148.72,572.57 L148.11,572.64 L147.5,572.71 L146.89,572.79 L146.28,572.86 L145.67,572.93 L145.06,573.01 L144.44,573.08 L143.83,573.15 L143.22,573.23 L142.61,573.3 L142,573.37 L141.39,573.44 L140.78,573.51 L140.17,573.57 L139.56,573.64 L138.95,573.7 L138.34,573.75 L137.72,573.81 L137.11,573.86 L136.5,573.91 L135.89,573.95 L135.28,573.99 L134.67,574.02 L134.06,574.05 L133.45,574.08 L132.84,574.12 L132.23,574.15 L131.62,574.18 L131,574.21 L130.39,574.25 L129.78,574.28 L129.17,574.31 L128.56,574.35 L127.95,574.38 L127.34,574.41 L126.73,574.45 L126.12,574.48 L125.51,574.51 L124.9,574.54 L124.28,574.57 L123.67,574.6 L123.06,574.63 L122.45,574.65 L121.84,574.68 L121.23,574.7 L120.62,574.72 L120.01,574.74 L119.4,574.76 L118.79,574.77 L118.18,574.78 L117.56,574.8 L116.95,574.8 L116.34,574.81 L115.73,574.81 L115.12,574.81 L114.51,574.81 L113.9,574.81 L113.29,574.81 L112.68,574.82 L112.07,574.82 L111.46,574.83 L110.84,574.84 L110.23,574.85 L109.62,574.86 L109.01,574.87 L108.4,574.88 L107.79,574.89 L107.18,574.91 L106.57,574.92 L105.96,574.94 L105.35,574.95 L104.74,574.97 L104.12,574.98 L103.51,575 L102.9,575.01 L102.29,575.03 L101.68,575.05 L101.07,575.06 L100.46,575.08 L99.85,575.1 L99.24,575.11 L98.63,575.13 L98.02,575.15 L97.4,575.16 L96.79,575.18 L96.18,575.2 L95.57,575.2 L94.96,575.2 L94.35,575.2 L93.74,575.2 L93.13,575.2 L92.52,575.2 L91.91,575.2 L91.3,575.2 L90.68,575.2 L90.07,575.2 L89.46,575.2 L88.85,575.2 L88.24,575.2 L87.63,575.2 L87.02,575.2 L86.41,575.2 L85.8,575.2 L85.19,575.2 L84.58,575.2 L83.97,575.2 L83.35,575.2 L82.74,575.2 L82.13,575.2 L81.52,575.2 L80.91,575.2 L80.3,575.2 L79.69,575.2 L79.08,575.2 L78.47,575.2 L77.86,575.2 L77.25,575.2 L76.63,575.2 L76.02,575.2 L75.41,575.2 L74.8,575.2 L74.19,575.2 L73.58,575.2 L72.97,575.2 L72.36,575.2 L71.75,575.2 L71.14,575.2 L70.53,575.2 L69.91,575.2 L69.3,575.2 L68.69,575.2 L68.08,575.2 L67.47,575.2 L66.86,575.2 L66.25,575.2 L65.64,575.2 L65.03,575.2 L64.42,575.2 L63.81,575.2 L63.19,575.2 L62.58,575.2 L61.97,575.2 L61.36,575.2 L60.75,575.2 L60.14,575.2 L59.53,575.2 L58.92,575.2 L58.31,575.2 L57.7,575.2 L57.09,575.2 L56.47,575.2 L55.86,575.2 L55.25,575.2 L54.64,575.2 L54.03,575.2 L53.42,575.2 L52.81,575.2 L52.2,575.2 L51.59,575.2 L50.98,575.2 L50.37,575.2 L49.75,575.2 L49.14,575.2 L48.53,575.2 L47.92,575.2 L47.31,575.2 L46.7,575.2 Z" fill="#2a9d8f" fill-opacity="0.25"/>
<path d="M46.7,575.2 L47.31,575.2 L47.92,575.2 L48.53,575.2 L49.14,575.2 L49.75,575.2 L50.37,575.2 L50.98,575.2 L51.59,575.2 L52.2,575.2 L52.81,575.2 L53.42,575.2 L54.03,575.2 L54.64,575.2 L55.25,575.2 L55.86,575.2 L56.47,575.2 L57.09,575.2 L57.7,575.2 L58.31,575.2 L58.92,575.2 L59.53,575.2 L60.14,575.2 L60.75,575.2 L61.36,575.2 L61.97,575.2 L62.58,575.2 L63.19,575.2 L63.81,575.2 L64.42,575.2 L65.03,575.2 L65.64,575.2 L66.25,575.2 L66.86,575.2 L67.47,575.2 L68.08,575.2 L68.69,575.2 L69.3,575.2 L69.91,575.2 L70.53,575.2 L71.14,575.2 L71.75,575.2 L72.36,575.2 L72.97,575.2 L73.58,575.2 L74.19,575.2 L74.8,575.2 L75.41,575.2 L76.02,575.2 L76.63,575.2 L77.25,575.2 L77.86,575.2 L78.47,575.2 L79.08,575.2 L79.69,575.2 L80.3,575.2 L80.91,575.2 L81.52,575.2 L82.13,575.2 L82.74,575.2 L83.35,575.2 L83.97,575.2 L84.58,575.2 L85.19,575.2 L85.8,575.2 L86.41,575.2 L87.02,575.2 L87.63,575.2 L88.24,575.2 L88.85,575.2 L89.46,575.2 L90.07,575.2 L90.68,575.2 L91.3,575.2 L91.91,575.2 L92.52,575.2 L93.13,575.2 L93.74,575.2 L94.35,575.2 L94.96,575.2 L95.57,575.2 L96.18,575.2 L96.79,575.18 L97.4,575.15 L98.02,575.12 L98.63,575.09 L99.24,575.06 L99.85,575.02 L100.46,574.98 L101.07,574.93 L101.68,574.88 L102.29,574.83 L102.9,574.78 L103.51,574.72 L104.12,574.66 L104.74,574.6 L105.35,574.54 L105.96,574.47 L106.57,574.4 L107.18,574.33 L107.79,574.26 L108.4,574.19 L109.01,574.11 L109.62,574.04 L110.23,573.96 L110.84,573.88 L111.46,573.8 L112.07,573.72 L112.68,573.63 L113.29,573.55 L113.9,573.46 L114.51,573.38 L115.12,573.29 L115.73,573.2 L116.34,573.11 L116.95,573.01 L117.56,572.9 L118.18,572.79 L118.79,572.68 L119.4,572.56 L120.01,572.44 L120.62,572.31 L121.23,572.18 L121.84,572.05 L122.45,571.91 L123.06,571.77 L123.67,571.62 L124.28,571.47 L124.9,571.32 L125.51,571.17 L126.12,571.01 L126.73,570.85 L127.34,570.69 L127.95,570.52 L128.56,570.35 L129.17,570.18 L129.78,570.01 L130.39,569.84 L131,569.66 L131.62,569.48 L132.23,569.3 L132.84,569.12 L133.45,568.94 L134.06,568.76 L134.67,568.57 L135.28,568.38 L135.89,568.18 L136.5,567.98 L137.11,567.77 L137.72,567.55 L138.34,567.33 L138.95,567.11 L139.56,566.88 L140.17,566.64 L140.78,566.4 L141.39,566.16 L142,565.91 L142.61,565.66 L143.22,565.41 L143.83,565.15 L144.44,564.89 L145.06,564.63 L145.67,564.37 L146.28,564.1 L146.89,563.83 L147.5,563.57 L148.11,563.3 L148.72,563.03 L149.33,562.76 L149.94,562.49 L150.55,562.21 L151.16,561.93 L151.78,561.64 L152.39,561.36 L153,561.06 L153.61,560.77 L154.22,560.47 L154.83,560.17 L155.44,559.86 L156.05,559.56 L156.66,559.25 L157.27,558.94 L157.88,558.62 L158.5,558.31 L159.11,557.99 L159.72,557.67 L160.33,557.35 L160.94,557.03 L161.55,556.71 L162.16,556.39 L162.77,556.07 L163.38,555.74 L163.99,555.42 L164.6,555.1 L165.22,554.78 L165.83,554.45 L166.44,554.11 L167.05,553.78 L167.66,553.44 L168.27,553.1" fill="none" stroke="#2b9183" stroke-width="1.15" stroke-opacity="1.0" stroke-linejoin="round"/>
<path d="M46.7,575.2 L47.31,575.2 L47.92,575.2 L48.53,575.2 L49.14,575.2 L49.75,575.2 L50.37,575.2 L50.98,575.2 L51.59,575.2 L52.2,575.2 L52.81,575.2 L53.42,575.2 L54.03,575.2 L54.64,575.2 L55.25,575.2 L55.86,575.2 L56.47,575.2 L57.09,575.2 L57.7,575.2 L58.31,575.2 L58.92,575.2 L59.53,575.2 L60.14,575.2 L60.75,575.2 L61.36,575.2 L61.97,575.2 L62.58,575.2 L63.19,575.2 L63.81,575.2 L64.42,575.2 L65.03,575.2 L65.64,575.2 L66.25,575.2 L66.86,575.2 L67.47,575.2 L68.08,575.2 L68.69,575.2 L69.3,575.2 L69.91,575.2 L70.53,575.2 L71.14,575.2 L71.75,575.2 L72.36,575.2 L72.97,575.2 L73.58,575.2 L74.19,575.2 L74.8,575.2 L75.41,575.2 L76.02,575.2 L76.63,575.2 L77.25,575.2 L77.86,575.2 L78.47,575.2 L79.08,575.2 L79.69,575.2 L80.3,575.2 L80.91,575.2 L81.52,575.2 L82.13,575.2 L82.74,575.2 L83.35,575.2 L83.97,575.2 L84.58,575.2 L85.19,575.2 L85.8,575.2 L86.41,575.2 L87.02,575.2 L87.63,575.2 L88.24,575.2 L88.85,575.2 L89.46,575.2 L90.07,575.2 L90.68,575.2 L91.3,575.2 L91.91,575.2 L92.52,575.2 L93.13,575.2 L93.74,575.2 L94.35,575.2 L94.96,575.2 L95.57,575.2 L96.18,575.2 L96.79,575.2 L97.4,575.2 L98.02,575.2 L98.63,575.2 L99.24,575.2 L99.85,575.2 L100.46,575.2 L101.07,575.21 L101.68,575.21 L102.29,575.22 L102.9,575.23 L103.51,575.24 L104.12,575.25 L104.74,575.27 L105.35,575.28 L105.96,575.3 L106.57,575.32 L107.18,575.34 L107.79,575.36 L108.4,575.38 L109.01,575.41 L109.62,575.43 L110.23,575.46 L110.84,575.48 L111.46,575.51 L112.07,575.54 L112.68,575.57 L113.29,575.61 L113.9,575.64 L114.51,575.67 L115.12,575.71 L115.73,575.75 L116.34,575.78 L116.95,575.82 L117.56,575.86 L118.18,575.91 L118.79,575.95 L119.4,575.99 L120.01,576.04 L120.62,576.08 L121.23,576.13 L121.84,576.18 L122.45,576.23 L123.06,576.28 L123.67,576.33 L124.28,576.38 L124.9,576.43 L125.51,576.49 L126.12,576.54 L126.73,576.6 L127.34,576.66 L127.95,576.72 L128.56,576.77 L129.17,576.84 L129.78,576.9 L130.39,576.96 L131,577.02 L131.62,577.09 L132.23,577.15 L132.84,577.22 L133.45,577.29 L134.06,577.36 L134.67,577.43 L135.28,577.5 L135.89,577.57 L136.5,577.64 L137.11,577.71 L137.72,577.79 L138.34,577.86 L138.95,577.94 L139.56,578.02 L140.17,578.09 L140.78,578.17 L141.39,578.25 L142,578.33 L142.61,578.42 L143.22,578.5 L143.83,578.58 L144.44,578.67 L145.06,578.75 L145.67,578.84 L146.28,578.93 L146.89,579.02 L147.5,579.11 L148.11,579.2 L148.72,579.29 L149.33,579.38 L149.94,579.47 L150.55,579.57 L151.16,579.66 L151.78,579.76 L152.39,579.85 L153,579.95 L153.61,580.05 L154.22,580.15 L154.83,580.25 L155.44,580.35 L156.05,580.45 L156.66,580.56 L157.27,580.66 L157.88,580.77 L158.5,580.87 L159.11,580.98 L159.72,581.08 L160.33,581.19 L160.94,581.3 L161.55,581.41 L162.16,581.52 L162.77,581.64 L163.38,581.75 L163.99,581.86 L164.6,581.98 L165.22,582.09 L165.83,582.21 L166.44,582.32 L167.05,582.44 L167.66,582.56 L168.27,582.68" fill="none" stroke="#d2505e" stroke-width="1.2" stroke-opacity="1.0" stroke-linejoin="round"/>
<line x1="41.3" y1="575.2" x2="175.5" y2="575.2" stroke="#606060" stroke-width="1.2" stroke-opacity="0.5"/>
<path d="M150.9,593.1 L158.7,600.9 M150.9,600.9 L158.7,593.1" stroke="#e35d6a" stroke-width="2.3" fill="none"/>
<path d="M146.6,475.2 L150,478.6 M146.6,478.6 L150,475.2" stroke="#e35d6a" stroke-width="2.2" fill="none"/>
</g></g>
<rect x="41.3" y="470.6" width="134.2" height="145.9" fill="none" stroke="#5a5a5a" stroke-width="1"/>
<g>
<clipPath id="cC1"><rect x="216.5" y="470.4" width="133.9" height="146"/></clipPath><g clip-path="url(#cC1)">
<line x1="260.5" y1="470.4" x2="260.5" y2="616.4" stroke="#a4a4a4" stroke-width="0.85" stroke-dasharray="2.4,1.25"/>
<line x1="325.3" y1="470.4" x2="325.3" y2="616.4" stroke="#a4a4a4" stroke-width="0.85" stroke-dasharray="2.4,1.25"/>
<circle cx="313.94" cy="556.74" r="2.5" fill="#808080" fill-opacity="0.5"/>
<circle cx="338.7" cy="543.18" r="1.5" fill="#808080" fill-opacity="0.5"/>
<circle cx="304.86" cy="578.43" r="5.7" fill="#808080" fill-opacity="0.5"/>
<circle cx="312.95" cy="581.58" r="5" fill="#808080" fill-opacity="0.5"/>
<circle cx="321.53" cy="579.74" r="5" fill="#808080" fill-opacity="0.5"/>
<circle cx="303.26" cy="588.21" r="6.5" fill="#808080" fill-opacity="0.5"/>
<circle cx="305.26" cy="592.24" r="2.8" fill="#808080" fill-opacity="0.5"/>
<circle cx="314.04" cy="601.52" r="2.5" fill="#808080" fill-opacity="0.5"/>
<circle cx="323.53" cy="608.92" r="1.2" fill="#808080" fill-opacity="0.5"/>
<circle cx="330.22" cy="601.46" r="3.6" fill="#808080" fill-opacity="0.5"/>
<path d="M222.3,586.1 L222.91,586.1 L223.52,586.1 L224.13,586.1 L224.74,586.1 L225.35,586.1 L225.96,586.1 L226.57,586.1 L227.18,586.1 L227.79,586.1 L228.4,586.1 L229.01,586.1 L229.62,586.1 L230.23,586.1 L230.84,586.1 L231.45,586.1 L232.06,586.1 L232.67,586.1 L233.28,586.1 L233.89,586.1 L234.5,586.1 L235.11,586.1 L235.72,586.1 L236.33,586.1 L236.94,586.1 L237.55,586.1 L238.16,586.1 L238.77,586.1 L239.38,586.1 L239.99,586.1 L240.6,586.1 L241.21,586.1 L241.82,586.1 L242.43,586.1 L243.04,586.1 L243.65,586.1 L244.26,586.1 L244.87,586.1 L245.47,586.1 L246.08,586.1 L246.69,586.1 L247.3,586.1 L247.91,586.1 L248.52,586.1 L249.13,586.1 L249.74,586.1 L250.35,586.1 L250.96,586.1 L251.57,586.1 L252.18,586.1 L252.79,586.1 L253.4,586.1 L254.01,586.1 L254.62,586.1 L255.23,586.1 L255.84,586.1 L256.45,586.1 L257.06,586.1 L257.67,586.1 L258.28,586.1 L258.89,586.1 L259.5,586.1 L260.11,586.1 L260.72,586.1 L261.33,586.1 L261.94,586.1 L262.55,586.1 L263.16,586.1 L263.77,586.1 L264.38,586.1 L264.99,586.1 L265.6,586.1 L266.21,586.1 L266.82,586.1 L267.43,586.1 L268.04,586.1 L268.65,586.1 L269.26,586.1 L269.87,586.1 L270.48,586.1 L271.09,586.1 L271.7,586.1 L272.31,586.08 L272.92,586.05 L273.53,586.01 L274.14,585.96 L274.75,585.9 L275.36,585.84 L275.97,585.77 L276.58,585.69 L277.19,585.6 L277.8,585.51 L278.41,585.41 L279.02,585.31 L279.63,585.2 L280.24,585.08 L280.85,584.96 L281.46,584.83 L282.07,584.69 L282.68,584.55 L283.29,584.4 L283.9,584.25 L284.51,584.09 L285.12,583.93 L285.73,583.76 L286.34,583.59 L286.95,583.41 L287.56,583.22 L288.17,583.04 L288.78,582.84 L289.39,582.64 L290,582.44 L290.6,582.23 L291.21,582.02 L291.82,581.8 L292.43,581.57 L293.04,581.33 L293.65,581.09 L294.26,580.83 L294.87,580.57 L295.48,580.3 L296.09,580.03 L296.7,579.74 L297.31,579.45 L297.92,579.15 L298.53,578.85 L299.14,578.54 L299.75,578.22 L300.36,577.89 L300.97,577.56 L301.58,577.21 L302.19,576.87 L302.8,576.51 L303.41,576.15 L304.02,575.78 L304.63,575.41 L305.24,575.03 L305.85,574.64 L306.46,574.25 L307.07,573.85 L307.68,573.44 L308.29,573.03 L308.9,572.61 L309.51,572.19 L310.12,571.76 L310.73,571.32 L311.34,570.87 L311.95,570.4 L312.56,569.93 L313.17,569.45 L313.78,568.95 L314.39,568.45 L315,567.94 L315.61,567.41 L316.22,566.88 L316.83,566.34 L317.44,565.79 L318.05,565.23 L318.66,564.66 L319.27,564.08 L319.88,563.49 L320.49,562.89 L321.1,562.29 L321.71,561.68 L322.32,561.06 L322.93,560.43 L323.54,559.8 L324.15,559.16 L324.76,558.51 L325.37,557.85 L325.98,557.18 L326.59,556.5 L327.2,555.81 L327.81,555.1 L328.42,554.39 L329.03,553.66 L329.64,552.93 L330.25,552.18 L330.86,551.43 L331.47,550.66 L332.08,549.88 L332.69,549.09 L333.3,548.3 L333.91,547.49 L334.52,546.67 L335.13,545.84 L335.73,545 L336.34,544.15 L336.95,543.29 L337.56,542.43 L338.17,541.55 L338.78,540.66 L339.39,539.76 L340,538.86 L340.61,537.94 L341.22,537.01 L341.83,536.07 L342.44,535.11 L343.05,534.13 L343.66,533.15 L343.66,594.79 L343.05,594.66 L342.44,594.54 L341.83,594.42 L341.22,594.3 L340.61,594.18 L340,594.05 L339.39,593.93 L338.78,593.81 L338.17,593.69 L337.56,593.58 L336.95,593.47 L336.34,593.36 L335.73,593.25 L335.13,593.14 L334.52,593.03 L333.91,592.93 L333.3,592.83 L332.69,592.72 L332.08,592.62 L331.47,592.52 L330.86,592.43 L330.25,592.33 L329.64,592.23 L329.03,592.13 L328.42,592.03 L327.81,591.94 L327.2,591.84 L326.59,591.74 L325.98,591.65 L325.37,591.55 L324.76,591.45 L324.15,591.35 L323.54,591.26 L322.93,591.16 L322.32,591.07 L321.71,590.98 L321.1,590.9 L320.49,590.81 L319.88,590.72 L319.27,590.64 L318.66,590.56 L318.05,590.48 L317.44,590.39 L316.83,590.31 L316.22,590.23 L315.61,590.15 L315,590.07 L314.39,589.98 L313.78,589.9 L313.17,589.82 L312.56,589.73 L311.95,589.64 L311.34,589.56 L310.73,589.47 L310.12,589.37 L309.51,589.28 L308.9,589.19 L308.29,589.1 L307.68,589.01 L307.07,588.92 L306.46,588.84 L305.85,588.75 L305.24,588.67 L304.63,588.59 L304.02,588.52 L303.41,588.44 L302.8,588.36 L302.19,588.29 L301.58,588.21 L300.97,588.14 L300.36,588.07 L299.75,588 L299.14,587.93 L298.53,587.86 L297.92,587.79 L297.31,587.72 L296.7,587.66 L296.09,587.59 L295.48,587.52 L294.87,587.45 L294.26,587.39 L293.65,587.32 L293.04,587.25 L292.43,587.18 L291.82,587.12 L291.21,587.05 L290.6,586.98 L290,586.91 L289.39,586.85 L288.78,586.79 L288.17,586.73 L287.56,586.67 L286.95,586.62 L286.34,586.57 L285.73,586.52 L285.12,586.47 L284.51,586.43 L283.9,586.39 L283.29,586.35 L282.68,586.32 L282.07,586.29 L281.46,586.26 L280.85,586.23 L280.24,586.2 L279.63,586.18 L279.02,586.16 L278.41,586.14 L277.8,586.13 L277.19,586.11 L276.58,586.1 L275.97,586.09 L275.36,586.08 L274.75,586.08 L274.14,586.08 L273.53,586.08 L272.92,586.08 L272.31,586.09 L271.7,586.1 L271.09,586.1 L270.48,586.1 L269.87,586.1 L269.26,586.1 L268.65,586.1 L268.04,586.1 L267.43,586.1 L266.82,586.1 L266.21,586.1 L265.6,586.1 L264.99,586.1 L264.38,586.1 L263.77,586.1 L263.16,586.1 L262.55,586.1 L261.94,586.1 L261.33,586.1 L260.72,586.1 L260.11,586.1 L259.5,586.1 L258.89,586.1 L258.28,586.1 L257.67,586.1 L257.06,586.1 L256.45,586.1 L255.84,586.1 L255.23,586.1 L254.62,586.1 L254.01,586.1 L253.4,586.1 L252.79,586.1 L252.18,586.1 L251.57,586.1 L250.96,586.1 L250.35,586.1 L249.74,586.1 L249.13,586.1 L248.52,586.1 L247.91,586.1 L247.3,586.1 L246.69,586.1 L246.08,586.1 L245.47,586.1 L244.87,586.1 L244.26,586.1 L243.65,586.1 L243.04,586.1 L242.43,586.1 L241.82,586.1 L241.21,586.1 L240.6,586.1 L239.99,586.1 L239.38,586.1 L238.77,586.1 L238.16,586.1 L237.55,586.1 L236.94,586.1 L236.33,586.1 L235.72,586.1 L235.11,586.1 L234.5,586.1 L233.89,586.1 L233.28,586.1 L232.67,586.1 L232.06,586.1 L231.45,586.1 L230.84,586.1 L230.23,586.1 L229.62,586.1 L229.01,586.1 L228.4,586.1 L227.79,586.1 L227.18,586.1 L226.57,586.1 L225.96,586.1 L225.35,586.1 L224.74,586.1 L224.13,586.1 L223.52,586.1 L222.91,586.1 L222.3,586.1 Z" fill="#2a9d8f" fill-opacity="0.22"/>
<path d="M222.3,586.1 L222.91,586.1 L223.52,586.1 L224.13,586.1 L224.74,586.1 L225.35,586.1 L225.96,586.1 L226.57,586.1 L227.18,586.1 L227.79,586.1 L228.4,586.1 L229.01,586.1 L229.62,586.1 L230.23,586.1 L230.84,586.1 L231.45,586.1 L232.06,586.1 L232.67,586.1 L233.28,586.1 L233.89,586.1 L234.5,586.1 L235.11,586.1 L235.72,586.1 L236.33,586.1 L236.94,586.1 L237.55,586.1 L238.16,586.1 L238.77,586.1 L239.38,586.1 L239.99,586.1 L240.6,586.1 L241.21,586.1 L241.82,586.1 L242.43,586.1 L243.04,586.1 L243.65,586.1 L244.26,586.1 L244.87,586.1 L245.47,586.1 L246.08,586.1 L246.69,586.1 L247.3,586.1 L247.91,586.1 L248.52,586.1 L249.13,586.1 L249.74,586.1 L250.35,586.1 L250.96,586.1 L251.57,586.1 L252.18,586.1 L252.79,586.1 L253.4,586.1 L254.01,586.1 L254.62,586.1 L255.23,586.1 L255.84,586.1 L256.45,586.1 L257.06,586.1 L257.67,586.1 L258.28,586.1 L258.89,586.1 L259.5,586.1 L260.11,586.1 L260.72,586.1 L261.33,586.1 L261.94,586.1 L262.55,586.1 L263.16,586.1 L263.77,586.1 L264.38,586.1 L264.99,586.1 L265.6,586.1 L266.21,586.1 L266.82,586.1 L267.43,586.1 L268.04,586.1 L268.65,586.1 L269.26,586.1 L269.87,586.1 L270.48,586.1 L271.09,586.1 L271.7,586.1 L272.31,586.08 L272.92,586.06 L273.53,586.03 L274.14,585.99 L274.75,585.95 L275.36,585.9 L275.97,585.85 L276.58,585.79 L277.19,585.73 L277.8,585.67 L278.41,585.6 L279.02,585.52 L279.63,585.45 L280.24,585.36 L280.85,585.28 L281.46,585.19 L282.07,585.09 L282.68,585 L283.29,584.9 L283.9,584.79 L284.51,584.69 L285.12,584.58 L285.73,584.46 L286.34,584.35 L286.95,584.23 L287.56,584.1 L288.17,583.98 L288.78,583.85 L289.39,583.72 L290,583.59 L290.6,583.45 L291.21,583.31 L291.82,583.16 L292.43,583.01 L293.04,582.86 L293.65,582.69 L294.26,582.52 L294.87,582.35 L295.48,582.17 L296.09,581.98 L296.7,581.79 L297.31,581.6 L297.92,581.4 L298.53,581.19 L299.14,580.98 L299.75,580.77 L300.36,580.55 L300.97,580.32 L301.58,580.09 L302.19,579.86 L302.8,579.62 L303.41,579.38 L304.02,579.14 L304.63,578.89 L305.24,578.63 L305.85,578.37 L306.46,578.11 L307.07,577.85 L307.68,577.58 L308.29,577.31 L308.9,577.03 L309.51,576.75 L310.12,576.47 L310.73,576.18 L311.34,575.88 L311.95,575.57 L312.56,575.26 L313.17,574.94 L313.78,574.61 L314.39,574.28 L315,573.94 L315.61,573.59 L316.22,573.24 L316.83,572.88 L317.44,572.51 L318.05,572.14 L318.66,571.76 L319.27,571.38 L319.88,570.99 L320.49,570.6 L321.1,570.2 L321.71,569.8 L322.32,569.39 L322.93,568.98 L323.54,568.57 L324.15,568.15 L324.76,567.73 L325.37,567.3 L325.98,566.87 L326.59,566.42 L327.2,565.98 L327.81,565.52 L328.42,565.06 L329.03,564.59 L329.64,564.12 L330.25,563.64 L330.86,563.15 L331.47,562.66 L332.08,562.16 L332.69,561.66 L333.3,561.15 L333.91,560.63 L334.52,560.11 L335.13,559.59 L335.73,559.06 L336.34,558.52 L336.95,557.98 L337.56,557.44 L338.17,556.89 L338.78,556.34 L339.39,555.78 L340,555.22 L340.61,554.65 L341.22,554.07 L341.83,553.49 L342.44,552.9 L343.05,552.3 L343.66,551.7 L343.66,582.03 L343.05,582.1 L342.44,582.16 L341.83,582.23 L341.22,582.29 L340.61,582.35 L340,582.41 L339.39,582.48 L338.78,582.54 L338.17,582.6 L337.56,582.67 L336.95,582.73 L336.34,582.8 L335.73,582.87 L335.13,582.93 L334.52,583 L333.91,583.07 L333.3,583.14 L332.69,583.21 L332.08,583.27 L331.47,583.34 L330.86,583.41 L330.25,583.48 L329.64,583.54 L329.03,583.61 L328.42,583.67 L327.81,583.73 L327.2,583.79 L326.59,583.85 L325.98,583.91 L325.37,583.97 L324.76,584.02 L324.15,584.08 L323.54,584.13 L322.93,584.19 L322.32,584.24 L321.71,584.3 L321.1,584.36 L320.49,584.41 L319.88,584.47 L319.27,584.53 L318.66,584.59 L318.05,584.64 L317.44,584.7 L316.83,584.75 L316.22,584.8 L315.61,584.85 L315,584.9 L314.39,584.95 L313.78,584.99 L313.17,585.03 L312.56,585.07 L311.95,585.11 L311.34,585.14 L310.73,585.17 L310.12,585.2 L309.51,585.22 L308.9,585.25 L308.29,585.27 L307.68,585.29 L307.07,585.32 L306.46,585.34 L305.85,585.37 L305.24,585.4 L304.63,585.42 L304.02,585.45 L303.41,585.47 L302.8,585.5 L302.19,585.52 L301.58,585.55 L300.97,585.57 L300.36,585.6 L299.75,585.62 L299.14,585.64 L298.53,585.66 L297.92,585.68 L297.31,585.7 L296.7,585.72 L296.09,585.73 L295.48,585.75 L294.87,585.76 L294.26,585.77 L293.65,585.78 L293.04,585.79 L292.43,585.8 L291.82,585.8 L291.21,585.8 L290.6,585.8 L290,585.8 L289.39,585.8 L288.78,585.81 L288.17,585.81 L287.56,585.81 L286.95,585.82 L286.34,585.82 L285.73,585.83 L285.12,585.84 L284.51,585.85 L283.9,585.86 L283.29,585.87 L282.68,585.88 L282.07,585.89 L281.46,585.9 L280.85,585.91 L280.24,585.92 L279.63,585.93 L279.02,585.95 L278.41,585.96 L277.8,585.97 L277.19,585.98 L276.58,586 L275.97,586.01 L275.36,586.02 L274.75,586.03 L274.14,586.05 L273.53,586.06 L272.92,586.07 L272.31,586.09 L271.7,586.1 L271.09,586.1 L270.48,586.1 L269.87,586.1 L269.26,586.1 L268.65,586.1 L268.04,586.1 L267.43,586.1 L266.82,586.1 L266.21,586.1 L265.6,586.1 L264.99,586.1 L264.38,586.1 L263.77,586.1 L263.16,586.1 L262.55,586.1 L261.94,586.1 L261.33,586.1 L260.72,586.1 L260.11,586.1 L259.5,586.1 L258.89,586.1 L258.28,586.1 L257.67,586.1 L257.06,586.1 L256.45,586.1 L255.84,586.1 L255.23,586.1 L254.62,586.1 L254.01,586.1 L253.4,586.1 L252.79,586.1 L252.18,586.1 L251.57,586.1 L250.96,586.1 L250.35,586.1 L249.74,586.1 L249.13,586.1 L248.52,586.1 L247.91,586.1 L247.3,586.1 L246.69,586.1 L246.08,586.1 L245.47,586.1 L244.87,586.1 L244.26,586.1 L243.65,586.1 L243.04,586.1 L242.43,586.1 L241.82,586.1 L241.21,586.1 L240.6,586.1 L239.99,586.1 L239.38,586.1 L238.77,586.1 L238.16,586.1 L237.55,586.1 L236.94,586.1 L236.33,586.1 L235.72,586.1 L235.11,586.1 L234.5,586.1 L233.89,586.1 L233.28,586.1 L232.67,586.1 L232.06,586.1 L231.45,586.1 L230.84,586.1 L230.23,586.1 L229.62,586.1 L229.01,586.1 L228.4,586.1 L227.79,586.1 L227.18,586.1 L226.57,586.1 L225.96,586.1 L225.35,586.1 L224.74,586.1 L224.13,586.1 L223.52,586.1 L222.91,586.1 L222.3,586.1 Z" fill="#2a9d8f" fill-opacity="0.25"/>
<path d="M222.3,586.1 L222.91,586.1 L223.52,586.1 L224.13,586.1 L224.74,586.1 L225.35,586.1 L225.96,586.1 L226.57,586.1 L227.18,586.1 L227.79,586.1 L228.4,586.1 L229.01,586.1 L229.62,586.1 L230.23,586.1 L230.84,586.1 L231.45,586.1 L232.06,586.1 L232.67,586.1 L233.28,586.1 L233.89,586.1 L234.5,586.1 L235.11,586.1 L235.72,586.1 L236.33,586.1 L236.94,586.1 L237.55,586.1 L238.16,586.1 L238.77,586.1 L239.38,586.1 L239.99,586.1 L240.6,586.1 L241.21,586.1 L241.82,586.1 L242.43,586.1 L243.04,586.1 L243.65,586.1 L244.26,586.1 L244.87,586.1 L245.47,586.1 L246.08,586.1 L246.69,586.1 L247.3,586.1 L247.91,586.1 L248.52,586.1 L249.13,586.1 L249.74,586.1 L250.35,586.1 L250.96,586.1 L251.57,586.1 L252.18,586.1 L252.79,586.1 L253.4,586.1 L254.01,586.1 L254.62,586.1 L255.23,586.1 L255.84,586.1 L256.45,586.1 L257.06,586.1 L257.67,586.1 L258.28,586.1 L258.89,586.1 L259.5,586.1 L260.11,586.1 L260.72,586.1 L261.33,586.1 L261.94,586.1 L262.55,586.1 L263.16,586.1 L263.77,586.1 L264.38,586.1 L264.99,586.1 L265.6,586.1 L266.21,586.1 L266.82,586.1 L267.43,586.1 L268.04,586.1 L268.65,586.1 L269.26,586.1 L269.87,586.1 L270.48,586.1 L271.09,586.1 L271.7,586.1 L272.31,586.08 L272.92,586.06 L273.53,586.04 L274.14,586.02 L274.75,585.99 L275.36,585.96 L275.97,585.93 L276.58,585.89 L277.19,585.86 L277.8,585.82 L278.41,585.78 L279.02,585.74 L279.63,585.69 L280.24,585.64 L280.85,585.59 L281.46,585.54 L282.07,585.49 L282.68,585.44 L283.29,585.38 L283.9,585.33 L284.51,585.27 L285.12,585.21 L285.73,585.15 L286.34,585.09 L286.95,585.02 L287.56,584.96 L288.17,584.9 L288.78,584.83 L289.39,584.77 L290,584.7 L290.6,584.63 L291.21,584.56 L291.82,584.49 L292.43,584.41 L293.04,584.33 L293.65,584.25 L294.26,584.16 L294.87,584.07 L295.48,583.97 L296.09,583.88 L296.7,583.77 L297.31,583.67 L297.92,583.56 L298.53,583.45 L299.14,583.34 L299.75,583.22 L300.36,583.1 L300.97,582.98 L301.58,582.86 L302.19,582.73 L302.8,582.6 L303.41,582.47 L304.02,582.34 L304.63,582.2 L305.24,582.07 L305.85,581.93 L306.46,581.79 L307.07,581.65 L307.68,581.51 L308.29,581.36 L308.9,581.22 L309.51,581.07 L310.12,580.92 L310.73,580.77 L311.34,580.61 L311.95,580.45 L312.56,580.28 L313.17,580.1 L313.78,579.92 L314.39,579.74 L315,579.55 L315.61,579.36 L316.22,579.17 L316.83,578.97 L317.44,578.77 L318.05,578.56 L318.66,578.36 L319.27,578.15 L319.88,577.93 L320.49,577.72 L321.1,577.5 L321.71,577.28 L322.32,577.06 L322.93,576.84 L323.54,576.62 L324.15,576.39 L324.76,576.17 L325.37,575.94 L325.98,575.71 L326.59,575.47 L327.2,575.23 L327.81,574.99 L328.42,574.74 L329.03,574.49 L329.64,574.24 L330.25,573.98 L330.86,573.72 L331.47,573.46 L332.08,573.2 L332.69,572.93 L333.3,572.66 L333.91,572.39 L334.52,572.11 L335.13,571.84 L335.73,571.56 L336.34,571.28 L336.95,571 L337.56,570.72 L338.17,570.44 L338.78,570.15 L339.39,569.87 L340,569.58 L340.61,569.3 L341.22,569 L341.83,568.71 L342.44,568.41 L343.05,568.11 L343.66,567.8" fill="none" stroke="#2b9183" stroke-width="1.15" stroke-opacity="1.0" stroke-linejoin="round"/>
<path d="M222.3,586.1 L222.91,586.1 L223.52,586.1 L224.13,586.1 L224.74,586.1 L225.35,586.1 L225.96,586.1 L226.57,586.1 L227.18,586.1 L227.79,586.1 L228.4,586.1 L229.01,586.1 L229.62,586.1 L230.23,586.1 L230.84,586.1 L231.45,586.1 L232.06,586.1 L232.67,586.1 L233.28,586.1 L233.89,586.1 L234.5,586.1 L235.11,586.1 L235.72,586.1 L236.33,586.1 L236.94,586.1 L237.55,586.1 L238.16,586.1 L238.77,586.1 L239.38,586.1 L239.99,586.1 L240.6,586.1 L241.21,586.1 L241.82,586.1 L242.43,586.1 L243.04,586.1 L243.65,586.1 L244.26,586.1 L244.87,586.1 L245.47,586.1 L246.08,586.1 L246.69,586.1 L247.3,586.1 L247.91,586.1 L248.52,586.1 L249.13,586.1 L249.74,586.1 L250.35,586.1 L250.96,586.1 L251.57,586.1 L252.18,586.1 L252.79,586.1 L253.4,586.1 L254.01,586.1 L254.62,586.1 L255.23,586.1 L255.84,586.1 L256.45,586.1 L257.06,586.1 L257.67,586.1 L258.28,586.1 L258.89,586.1 L259.5,586.1 L260.11,586.1 L260.72,586.1 L261.33,586.1 L261.94,586.1 L262.55,586.1 L263.16,586.1 L263.77,586.1 L264.38,586.1 L264.99,586.1 L265.6,586.1 L266.21,586.1 L266.82,586.1 L267.43,586.1 L268.04,586.1 L268.65,586.1 L269.26,586.1 L269.87,586.1 L270.48,586.1 L271.09,586.1 L271.7,586.1 L272.31,586.1 L272.92,586.1 L273.53,586.1 L274.14,586.1 L274.75,586.1 L275.36,586.1 L275.97,586.1 L276.58,586.1 L277.19,586.11 L277.8,586.12 L278.41,586.12 L279.02,586.13 L279.63,586.14 L280.24,586.15 L280.85,586.16 L281.46,586.18 L282.07,586.19 L282.68,586.21 L283.29,586.22 L283.9,586.24 L284.51,586.26 L285.12,586.28 L285.73,586.3 L286.34,586.32 L286.95,586.34 L287.56,586.36 L288.17,586.38 L288.78,586.41 L289.39,586.43 L290,586.46 L290.6,586.49 L291.21,586.52 L291.82,586.54 L292.43,586.57 L293.04,586.61 L293.65,586.64 L294.26,586.67 L294.87,586.7 L295.48,586.74 L296.09,586.77 L296.7,586.81 L297.31,586.84 L297.92,586.88 L298.53,586.92 L299.14,586.96 L299.75,587 L300.36,587.04 L300.97,587.08 L301.58,587.12 L302.19,587.16 L302.8,587.2 L303.41,587.25 L304.02,587.29 L304.63,587.34 L305.24,587.39 L305.85,587.43 L306.46,587.48 L307.07,587.53 L307.68,587.58 L308.29,587.63 L308.9,587.68 L309.51,587.73 L310.12,587.78 L310.73,587.84 L311.34,587.89 L311.95,587.94 L312.56,588 L313.17,588.05 L313.78,588.11 L314.39,588.17 L315,588.23 L315.61,588.28 L316.22,588.34 L316.83,588.4 L317.44,588.46 L318.05,588.52 L318.66,588.59 L319.27,588.65 L319.88,588.71 L320.49,588.77 L321.1,588.84 L321.71,588.9 L322.32,588.97 L322.93,589.04 L323.54,589.1 L324.15,589.17 L324.76,589.24 L325.37,589.31 L325.98,589.38 L326.59,589.45 L327.2,589.52 L327.81,589.59 L328.42,589.66 L329.03,589.73 L329.64,589.81 L330.25,589.88 L330.86,589.95 L331.47,590.03 L332.08,590.11 L332.69,590.18 L333.3,590.26 L333.91,590.34 L334.52,590.41 L335.13,590.49 L335.73,590.57 L336.34,590.65 L336.95,590.73 L337.56,590.81 L338.17,590.89 L338.78,590.97 L339.39,591.06 L340,591.14 L340.61,591.22 L341.22,591.31 L341.83,591.39 L342.44,591.48 L343.05,591.56 L343.66,591.65" fill="none" stroke="#d2505e" stroke-width="1.2" stroke-opacity="1.0" stroke-linejoin="round"/>
<line x1="216.5" y1="586.1" x2="350.4" y2="586.1" stroke="#606060" stroke-width="1.2" stroke-opacity="0.5"/>
<path d="M326.32,597.56 L334.12,605.36 M326.32,605.36 L334.12,597.56" stroke="#e35d6a" stroke-width="2.3" fill="none"/>
<path d="M322.03,474.46 L325.43,477.86 M322.03,477.86 L325.43,474.46" stroke="#e35d6a" stroke-width="2.2" fill="none"/>
</g></g>
<rect x="216.5" y="470.4" width="133.9" height="146" fill="none" stroke="#5a5a5a" stroke-width="1"/>
<line x1="41.3" y1="602.4" x2="45.8" y2="602.4" stroke="#5a5a5a" stroke-width="1"/>
<text x="15.97" y="605.81" font-size="8.4" textLength="20.03" lengthAdjust="spacingAndGlyphs" fill="#1c1c1c" stroke="#1c1c1c" stroke-width="0.24">−0.2</text>
<line x1="41.3" y1="575.2" x2="45.8" y2="575.2" stroke="#5a5a5a" stroke-width="1"/>
<text x="22.88" y="578.61" font-size="8.4" textLength="13.12" lengthAdjust="spacingAndGlyphs" fill="#1c1c1c" stroke="#1c1c1c" stroke-width="0.24">0.0</text>
<line x1="41.3" y1="548" x2="45.8" y2="548" stroke="#5a5a5a" stroke-width="1"/>
<text x="22.88" y="551.41" font-size="8.4" textLength="13.12" lengthAdjust="spacingAndGlyphs" fill="#1c1c1c" stroke="#1c1c1c" stroke-width="0.24">0.2</text>
<line x1="41.3" y1="520.8" x2="45.8" y2="520.8" stroke="#5a5a5a" stroke-width="1"/>
<text x="22.88" y="524.21" font-size="8.4" textLength="13.12" lengthAdjust="spacingAndGlyphs" fill="#1c1c1c" stroke="#1c1c1c" stroke-width="0.24">0.4</text>
<line x1="41.3" y1="493.6" x2="45.8" y2="493.6" stroke="#5a5a5a" stroke-width="1"/>
<text x="22.88" y="497.01" font-size="8.4" textLength="13.12" lengthAdjust="spacingAndGlyphs" fill="#1c1c1c" stroke="#1c1c1c" stroke-width="0.24">0.6</text>
<line x1="46.7" y1="616.5" x2="46.7" y2="612" stroke="#5a5a5a" stroke-width="1"/>
<text x="44.08" y="627.31" font-size="8.4" textLength="5.25" lengthAdjust="spacingAndGlyphs" fill="#1c1c1c" stroke="#1c1c1c" stroke-width="0.24">0</text>
<line x1="82.04" y1="616.5" x2="82.04" y2="612" stroke="#5a5a5a" stroke-width="1"/>
<text x="76.79" y="627.31" font-size="8.4" textLength="10.5" lengthAdjust="spacingAndGlyphs" fill="#1c1c1c" stroke="#1c1c1c" stroke-width="0.24">20</text>
<line x1="117.38" y1="616.5" x2="117.38" y2="612" stroke="#5a5a5a" stroke-width="1"/>
<text x="112.13" y="627.31" font-size="8.4" textLength="10.5" lengthAdjust="spacingAndGlyphs" fill="#1c1c1c" stroke="#1c1c1c" stroke-width="0.24">40</text>
<line x1="152.72" y1="616.5" x2="152.72" y2="612" stroke="#5a5a5a" stroke-width="1"/>
<text x="147.47" y="627.31" font-size="8.4" textLength="10.5" lengthAdjust="spacingAndGlyphs" fill="#1c1c1c" stroke="#1c1c1c" stroke-width="0.24">60</text>
<text x="70.61" y="640.31" font-size="8.4" textLength="75.59" lengthAdjust="spacingAndGlyphs" fill="#1c1c1c" stroke="#1c1c1c" stroke-width="0.24">Aircraft Noise (dB)</text>
<g transform="translate(5.4,543.55) rotate(-90)"><text x="-16.32" y="3.01" font-size="8.4" textLength="32.64" lengthAdjust="spacingAndGlyphs" fill="#1c1c1c" stroke="#1c1c1c" stroke-width="0.24">Log(RR)</text></g>
<line x1="216.5" y1="606.84" x2="221" y2="606.84" stroke="#5a5a5a" stroke-width="1"/>
<text x="198.08" y="610.25" font-size="8.4" textLength="13.12" lengthAdjust="spacingAndGlyphs" fill="#1c1c1c" stroke="#1c1c1c" stroke-width="0.24">0.8</text>
<line x1="216.5" y1="586.1" x2="221" y2="586.1" stroke="#5a5a5a" stroke-width="1"/>
<text x="198.08" y="589.51" font-size="8.4" textLength="13.12" lengthAdjust="spacingAndGlyphs" fill="#1c1c1c" stroke="#1c1c1c" stroke-width="0.24">1.0</text>
<line x1="216.5" y1="565.36" x2="221" y2="565.36" stroke="#5a5a5a" stroke-width="1"/>
<text x="198.08" y="568.77" font-size="8.4" textLength="13.12" lengthAdjust="spacingAndGlyphs" fill="#1c1c1c" stroke="#1c1c1c" stroke-width="0.24">1.2</text>
<line x1="216.5" y1="544.62" x2="221" y2="544.62" stroke="#5a5a5a" stroke-width="1"/>
<text x="198.08" y="548.03" font-size="8.4" textLength="13.12" lengthAdjust="spacingAndGlyphs" fill="#1c1c1c" stroke="#1c1c1c" stroke-width="0.24">1.4</text>
<line x1="216.5" y1="523.88" x2="221" y2="523.88" stroke="#5a5a5a" stroke-width="1"/>
<text x="198.08" y="527.29" font-size="8.4" textLength="13.12" lengthAdjust="spacingAndGlyphs" fill="#1c1c1c" stroke="#1c1c1c" stroke-width="0.24">1.6</text>
<line x1="216.5" y1="503.14" x2="221" y2="503.14" stroke="#5a5a5a" stroke-width="1"/>
<text x="198.08" y="506.55" font-size="8.4" textLength="13.12" lengthAdjust="spacingAndGlyphs" fill="#1c1c1c" stroke="#1c1c1c" stroke-width="0.24">1.8</text>
<line x1="216.5" y1="482.4" x2="221" y2="482.4" stroke="#5a5a5a" stroke-width="1"/>
<text x="198.08" y="485.81" font-size="8.4" textLength="13.12" lengthAdjust="spacingAndGlyphs" fill="#1c1c1c" stroke="#1c1c1c" stroke-width="0.24">2.0</text>
<line x1="222.3" y1="616.4" x2="222.3" y2="611.9" stroke="#5a5a5a" stroke-width="1"/>
<text x="219.68" y="627.21" font-size="8.4" textLength="5.25" lengthAdjust="spacingAndGlyphs" fill="#1c1c1c" stroke="#1c1c1c" stroke-width="0.24">0</text>
<line x1="257.58" y1="616.4" x2="257.58" y2="611.9" stroke="#5a5a5a" stroke-width="1"/>
<text x="252.33" y="627.21" font-size="8.4" textLength="10.5" lengthAdjust="spacingAndGlyphs" fill="#1c1c1c" stroke="#1c1c1c" stroke-width="0.24">20</text>
<line x1="292.86" y1="616.4" x2="292.86" y2="611.9" stroke="#5a5a5a" stroke-width="1"/>
<text x="287.61" y="627.21" font-size="8.4" textLength="10.5" lengthAdjust="spacingAndGlyphs" fill="#1c1c1c" stroke="#1c1c1c" stroke-width="0.24">40</text>
<line x1="328.14" y1="616.4" x2="328.14" y2="611.9" stroke="#5a5a5a" stroke-width="1"/>
<text x="322.89" y="627.21" font-size="8.4" textLength="10.5" lengthAdjust="spacingAndGlyphs" fill="#1c1c1c" stroke="#1c1c1c" stroke-width="0.24">60</text>
<text x="245.66" y="640.21" font-size="8.4" textLength="75.59" lengthAdjust="spacingAndGlyphs" fill="#1c1c1c" stroke="#1c1c1c" stroke-width="0.24">Aircraft Noise (dB)</text>
<g transform="translate(190.3,543.4) rotate(-90)"><text x="-5.73" y="3.01" font-size="8.4" textLength="11.46" lengthAdjust="spacingAndGlyphs" fill="#1c1c1c" stroke="#1c1c1c" stroke-width="0.24">RR</text></g>
<clipPath id="fC"><rect x="392.6" y="470.5" width="133.7" height="145.5"/></clipPath><g clip-path="url(#fC)">
<circle cx="456.3" cy="475.6" r="2.2" fill="#808080" fill-opacity="0.42"/>
<circle cx="457.9" cy="479.4" r="2.2" fill="#808080" fill-opacity="0.42"/>
<circle cx="459.4" cy="477.1" r="2.2" fill="#808080" fill-opacity="0.42"/>
<circle cx="461.8" cy="479.9" r="2.2" fill="#808080" fill-opacity="0.42"/>
<circle cx="452.9" cy="509.5" r="2.2" fill="#808080" fill-opacity="0.42"/>
<circle cx="459.7" cy="512.1" r="2.2" fill="#808080" fill-opacity="0.42"/>
<circle cx="444.6" cy="523.8" r="2.2" fill="#808080" fill-opacity="0.42"/>
<circle cx="472" cy="518.1" r="2.2" fill="#808080" fill-opacity="0.42"/>
<circle cx="436.9" cy="590.4" r="2.2" fill="#808080" fill-opacity="0.42"/>
<circle cx="473.1" cy="602.4" r="2.2" fill="#808080" fill-opacity="0.42"/>
<path d="M439,486.2 L443.2,490.4 M439,490.4 L443.2,486.2" stroke="#e35d6a" stroke-width="2.3" fill="none"/>
<path d="M499.9,569.2 L504.1,573.4 M499.9,573.4 L504.1,569.2" stroke="#e35d6a" stroke-width="2.3" fill="none"/>
<path d="M458.9,470.3 L395.14,622.26 L522.66,622.26 Z" fill="#9edede" fill-opacity="0.4"/>
<line x1="458.9" y1="470.5" x2="458.9" y2="616" stroke="#8a8a8a" stroke-width="0.8" stroke-dasharray="2.5,1.2" stroke-opacity="0.7"/>
</g>
<rect x="392.6" y="470.5" width="133.7" height="145.5" fill="none" stroke="#5a5a5a" stroke-width="1"/>
<line x1="392.6" y1="470.3" x2="397.1" y2="470.3" stroke="#5a5a5a" stroke-width="1"/>
<text x="374.18" y="473.71" font-size="8.4" textLength="13.12" lengthAdjust="spacingAndGlyphs" fill="#1c1c1c" stroke="#1c1c1c" stroke-width="0.24">0.0</text>
<line x1="392.6" y1="501.6" x2="397.1" y2="501.6" stroke="#5a5a5a" stroke-width="1"/>
<text x="374.18" y="505.01" font-size="8.4" textLength="13.12" lengthAdjust="spacingAndGlyphs" fill="#1c1c1c" stroke="#1c1c1c" stroke-width="0.24">0.1</text>
<line x1="392.6" y1="532.9" x2="397.1" y2="532.9" stroke="#5a5a5a" stroke-width="1"/>
<text x="374.18" y="536.31" font-size="8.4" textLength="13.12" lengthAdjust="spacingAndGlyphs" fill="#1c1c1c" stroke="#1c1c1c" stroke-width="0.24">0.2</text>
<line x1="392.6" y1="564.2" x2="397.1" y2="564.2" stroke="#5a5a5a" stroke-width="1"/>
<text x="374.18" y="567.61" font-size="8.4" textLength="13.12" lengthAdjust="spacingAndGlyphs" fill="#1c1c1c" stroke="#1c1c1c" stroke-width="0.24">0.3</text>
<line x1="392.6" y1="595.5" x2="397.1" y2="595.5" stroke="#5a5a5a" stroke-width="1"/>
<text x="374.18" y="598.91" font-size="8.4" textLength="13.12" lengthAdjust="spacingAndGlyphs" fill="#1c1c1c" stroke="#1c1c1c" stroke-width="0.24">0.4</text>
<line x1="425.4" y1="616" x2="425.4" y2="611.5" stroke="#5a5a5a" stroke-width="1"/>
<text x="415.38" y="626.81" font-size="8.4" textLength="20.03" lengthAdjust="spacingAndGlyphs" fill="#1c1c1c" stroke="#1c1c1c" stroke-width="0.24">−0.5</text>
<line x1="458.9" y1="616" x2="458.9" y2="611.5" stroke="#5a5a5a" stroke-width="1"/>
<text x="452.34" y="626.81" font-size="8.4" textLength="13.12" lengthAdjust="spacingAndGlyphs" fill="#1c1c1c" stroke="#1c1c1c" stroke-width="0.24">0.0</text>
<line x1="492.4" y1="616" x2="492.4" y2="611.5" stroke="#5a5a5a" stroke-width="1"/>
<text x="485.84" y="626.81" font-size="8.4" textLength="13.12" lengthAdjust="spacingAndGlyphs" fill="#1c1c1c" stroke="#1c1c1c" stroke-width="0.24">0.5</text>
<text x="442.03" y="639.81" font-size="8.4" textLength="34.84" lengthAdjust="spacingAndGlyphs" fill="#1c1c1c" stroke="#1c1c1c" stroke-width="0.24">Residual</text>
<g transform="translate(363.7,543.25) rotate(-90)"><text x="-61.09" y="3.01" font-size="8.4" textLength="122.17" lengthAdjust="spacingAndGlyphs" fill="#1c1c1c" stroke="#1c1c1c" stroke-width="0.24">Standard error of the residual</text></g>
<rect x="532.5" y="478.8" width="21" height="4.4" fill="#2a9d8f" fill-opacity="0.22"/>
<text x="558.5" y="484.01" font-size="8.4" textLength="110.08" lengthAdjust="spacingAndGlyphs" fill="#1c1c1c" stroke="#1c1c1c" stroke-width="0.24">95% UI with heterogeneity</text>
<rect x="532.5" y="490.97" width="21" height="4.4" fill="#2a9d8f" fill-opacity="0.42"/>
<text x="558.5" y="496.18" font-size="8.4" textLength="123.59" lengthAdjust="spacingAndGlyphs" fill="#1c1c1c" stroke="#1c1c1c" stroke-width="0.24">95% UI without heterogeneity</text>
<line x1="534.5" y1="505.34" x2="551.5" y2="505.34" stroke="#2a9d8f" stroke-width="0.9" stroke-opacity="0.85"/>
<text x="558.5" y="508.35" font-size="8.4" textLength="36.57" lengthAdjust="spacingAndGlyphs" fill="#1c1c1c" stroke="#1c1c1c" stroke-width="0.24">Mean RR</text>
<line x1="534.5" y1="517.51" x2="551.5" y2="517.51" stroke="#f2909a" stroke-width="1.7"/>
<text x="558.5" y="520.52" font-size="8.4" textLength="118.02" lengthAdjust="spacingAndGlyphs" fill="#1c1c1c" stroke="#1c1c1c" stroke-width="0.24">Burden of proof risk function</text>
<circle cx="543" cy="529.68" r="2.7" fill="#808080" fill-opacity="0.5"/>
<text x="558.5" y="532.69" font-size="8.4" textLength="47.66" lengthAdjust="spacingAndGlyphs" fill="#1c1c1c" stroke="#1c1c1c" stroke-width="0.24">Data points</text>
<path d="M540.2,539.05 L545.8,544.65 M540.2,544.65 L545.8,539.05" stroke="#e35d6a" stroke-width="1.5" fill="none"/>
<text x="558.5" y="544.86" font-size="8.4" textLength="85.06" lengthAdjust="spacingAndGlyphs" fill="#1c1c1c" stroke="#1c1c1c" stroke-width="0.24">Trimmed data points</text>
<line x1="534.5" y1="554.02" x2="551.5" y2="554.02" stroke="#a4a4a4" stroke-width="0.85" stroke-dasharray="2.4,1.25"/>
<text x="558.5" y="557.03" font-size="8.4" textLength="65.04" lengthAdjust="spacingAndGlyphs" fill="#1c1c1c" stroke="#1c1c1c" stroke-width="0.24">Score boundary</text>
<text x="102.05" y="10.8" font-size="11.61" textLength="3.91" lengthAdjust="spacingAndGlyphs" font-weight="bold" fill="#1c1c1c" stroke="#1c1c1c" stroke-width="0.22">i</text>
<text x="283.49" y="11.3" font-size="11.61" textLength="7.82" lengthAdjust="spacingAndGlyphs" font-weight="bold" fill="#1c1c1c" stroke="#1c1c1c" stroke-width="0.22">ii</text>
<text x="456.74" y="9.8" font-size="11.61" textLength="11.72" lengthAdjust="spacingAndGlyphs" font-weight="bold" fill="#1c1c1c" stroke="#1c1c1c" stroke-width="0.22">iii</text>
<text x="16" y="9.73" font-size="11.81" textLength="8.98" lengthAdjust="spacingAndGlyphs" font-weight="bold" fill="#1c1c1c" stroke="#1c1c1c" stroke-width="0.22">A</text>
<text x="16.6" y="239.08" font-size="11.81" textLength="8.84" lengthAdjust="spacingAndGlyphs" font-weight="bold" fill="#1c1c1c" stroke="#1c1c1c" stroke-width="0.22">B</text>
<text x="16.3" y="463.43" font-size="11.81" textLength="8.51" lengthAdjust="spacingAndGlyphs" font-weight="bold" fill="#1c1c1c" stroke="#1c1c1c" stroke-width="0.22">C</text>
</svg></body></html>
